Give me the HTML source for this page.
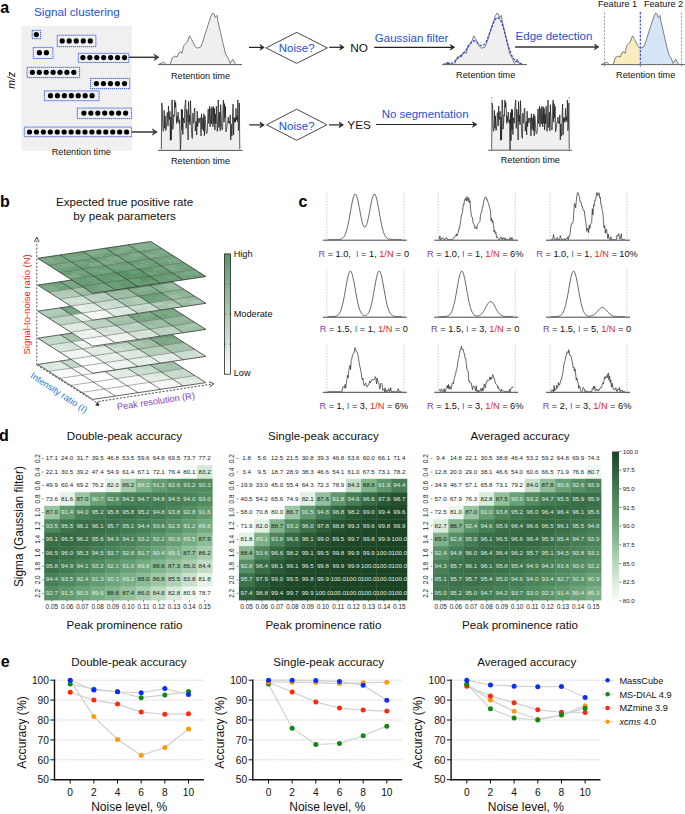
<!DOCTYPE html>
<html><head><meta charset="utf-8"><style>
html,body{margin:0;padding:0;background:#fff;}
body{width:685px;height:814px;overflow:hidden;}
svg{display:block;font-family:"Liberation Sans",sans-serif;}
</style></head><body>
<svg width="685" height="814" viewBox="0 0 685 814">
<rect width="685" height="814" fill="#fff"/>
<text x="0.3" y="13.2" font-size="16" fill="#000" text-anchor="start" font-weight="bold">a</text>
<text x="34" y="16.2" font-size="11.7" fill="#2350d8" text-anchor="start">Signal clustering</text>
<rect x="21.4" y="25.9" width="110.4" height="124.9" fill="#f0f0f0"/>
<text x="0" y="0" font-size="10.5" font-style="italic" fill="#111" text-anchor="middle" transform="translate(15.0,80.3) rotate(-90)">m/z</text>
<rect x="32.2" y="30.3" width="8.4" height="8.4" fill="none" stroke="#3358e0" stroke-width="1.0" stroke-dasharray="1.3,0.7"/>
<circle cx="36.3" cy="34.6" r="2.6" fill="#000"/>
<rect x="57.2" y="35.2" width="38.7" height="11.5" fill="none" stroke="#3358e0" stroke-width="1.0" stroke-dasharray="1.3,0.7"/>
<circle cx="62.2" cy="40.9" r="2.6" fill="#000"/>
<circle cx="69.22" cy="40.9" r="2.6" fill="#000"/>
<circle cx="76.25" cy="40.9" r="2.6" fill="#000"/>
<circle cx="83.28" cy="40.9" r="2.6" fill="#000"/>
<circle cx="90.3" cy="40.9" r="2.6" fill="#000"/>
<rect x="33.3" y="47.4" width="19.6" height="11.1" fill="none" stroke="#3358e0" stroke-width="1.0" stroke-dasharray="1.3,0.7"/>
<circle cx="39.4" cy="52.7" r="2.6" fill="#000"/>
<circle cx="46.4" cy="52.7" r="2.6" fill="#000"/>
<rect x="78.3" y="53.3" width="50.5" height="9.2" fill="none" stroke="#3358e0" stroke-width="1.0" stroke-dasharray="1.3,0.7"/>
<circle cx="82.9" cy="57.6" r="2.6" fill="#000"/>
<circle cx="89.83" cy="57.6" r="2.6" fill="#000"/>
<circle cx="96.77" cy="57.6" r="2.6" fill="#000"/>
<circle cx="103.7" cy="57.6" r="2.6" fill="#000"/>
<circle cx="110.63" cy="57.6" r="2.6" fill="#000"/>
<circle cx="117.57" cy="57.6" r="2.6" fill="#000"/>
<circle cx="124.5" cy="57.6" r="2.6" fill="#000"/>
<rect x="27.1" y="67.3" width="52.5" height="10.3" fill="none" stroke="#3358e0" stroke-width="1.0" stroke-dasharray="1.3,0.7"/>
<circle cx="32.4" cy="72.3" r="2.6" fill="#000"/>
<circle cx="39.3" cy="72.3" r="2.6" fill="#000"/>
<circle cx="46.2" cy="72.3" r="2.6" fill="#000"/>
<circle cx="53.1" cy="72.3" r="2.6" fill="#000"/>
<circle cx="60" cy="72.3" r="2.6" fill="#000"/>
<circle cx="66.9" cy="72.3" r="2.6" fill="#000"/>
<circle cx="73.8" cy="72.3" r="2.6" fill="#000"/>
<rect x="90.6" y="78.4" width="39.1" height="10.3" fill="none" stroke="#3358e0" stroke-width="1.0" stroke-dasharray="1.3,0.7"/>
<circle cx="96.4" cy="83.6" r="2.6" fill="#000"/>
<circle cx="103.43" cy="83.6" r="2.6" fill="#000"/>
<circle cx="110.45" cy="83.6" r="2.6" fill="#000"/>
<circle cx="117.47" cy="83.6" r="2.6" fill="#000"/>
<circle cx="124.5" cy="83.6" r="2.6" fill="#000"/>
<rect x="44.4" y="90.9" width="54.7" height="9.8" fill="none" stroke="#3358e0" stroke-width="1.0" stroke-dasharray="1.3,0.7"/>
<circle cx="50.5" cy="95.7" r="2.6" fill="#000"/>
<circle cx="57.43" cy="95.7" r="2.6" fill="#000"/>
<circle cx="64.37" cy="95.7" r="2.6" fill="#000"/>
<circle cx="71.3" cy="95.7" r="2.6" fill="#000"/>
<circle cx="78.23" cy="95.7" r="2.6" fill="#000"/>
<circle cx="85.17" cy="95.7" r="2.6" fill="#000"/>
<circle cx="92.1" cy="95.7" r="2.6" fill="#000"/>
<rect x="77.3" y="108.1" width="54.3" height="10.5" fill="none" stroke="#3358e0" stroke-width="1.0" stroke-dasharray="1.3,0.7"/>
<circle cx="83.9" cy="113.1" r="2.6" fill="#000"/>
<circle cx="90.85" cy="113.1" r="2.6" fill="#000"/>
<circle cx="97.8" cy="113.1" r="2.6" fill="#000"/>
<circle cx="104.75" cy="113.1" r="2.6" fill="#000"/>
<circle cx="111.7" cy="113.1" r="2.6" fill="#000"/>
<circle cx="118.65" cy="113.1" r="2.6" fill="#000"/>
<circle cx="125.6" cy="113.1" r="2.6" fill="#000"/>
<rect x="24.3" y="127.1" width="107.3" height="9.6" fill="none" stroke="#3358e0" stroke-width="1.0" stroke-dasharray="1.3,0.7"/>
<circle cx="29.5" cy="132" r="2.6" fill="#000"/>
<circle cx="36.44" cy="132" r="2.6" fill="#000"/>
<circle cx="43.37" cy="132" r="2.6" fill="#000"/>
<circle cx="50.31" cy="132" r="2.6" fill="#000"/>
<circle cx="57.24" cy="132" r="2.6" fill="#000"/>
<circle cx="64.18" cy="132" r="2.6" fill="#000"/>
<circle cx="71.11" cy="132" r="2.6" fill="#000"/>
<circle cx="78.05" cy="132" r="2.6" fill="#000"/>
<circle cx="84.99" cy="132" r="2.6" fill="#000"/>
<circle cx="91.92" cy="132" r="2.6" fill="#000"/>
<circle cx="98.86" cy="132" r="2.6" fill="#000"/>
<circle cx="105.79" cy="132" r="2.6" fill="#000"/>
<circle cx="112.73" cy="132" r="2.6" fill="#000"/>
<circle cx="119.66" cy="132" r="2.6" fill="#000"/>
<circle cx="126.6" cy="132" r="2.6" fill="#000"/>
<text x="51.7" y="154.8" font-size="9.2" fill="#111" text-anchor="start">Retention time</text>
<line x1="128.8" y1="57.3" x2="156.5" y2="57.3" stroke="#3a3a3a" stroke-width="1.5"/>
<polygon points="159,57.3 154,54.2 155.9,57.3 154,60.4" fill="#3a3a3a" stroke="#3a3a3a" stroke-width="0.7" stroke-linejoin="miter"/>
<line x1="131.6" y1="132" x2="154.8" y2="132" stroke="#3a3a3a" stroke-width="1.5"/>
<polygon points="157.3,132 152.3,128.9 154.2,132 152.3,135.1" fill="#3a3a3a" stroke="#3a3a3a" stroke-width="0.7" stroke-linejoin="miter"/>
<polygon points="158.3,64.5 163.9,62.2 166.2,64.5 170.2,64.5 172.3,57.8 174.9,56.1 177.2,56.9 179,52.6 180.7,51.7 181.9,53.4 183.7,45.9 185.4,43.8 187.2,42 189.5,35.9 191.6,39.4 195.1,46.4 197.2,48.2 200.7,47 203,41.2 205.6,32.4 208.2,24.5 210.8,16.6 212.6,13.1 214.3,14.4 215.2,17.5 217,15.4 217.9,21 220.5,32.4 223.1,43.8 225.7,54.3 228.4,58.7 230.1,63.4 232.7,59.2 235.7,64.5 242,64.5" fill="#efefef" stroke="#555" stroke-width="0.75" stroke-linejoin="round"/>
<line x1="158.3" y1="64.6" x2="242" y2="64.6" stroke="#666" stroke-width="1"/>
<text x="170.9" y="78.8" font-size="9.2" fill="#111" text-anchor="start">Retention time</text>
<line x1="249" y1="47.4" x2="261.8" y2="47.4" stroke="#222" stroke-width="1.2"/>
<polygon points="264.3,47.4 259.9,44.67 261.57,47.4 259.9,50.13" fill="#222" stroke="#222" stroke-width="0.7" stroke-linejoin="miter"/>
<polygon points="266,47.9 296.7,32.4 327.3,47.9 296.7,63.4" fill="none" stroke="#333" stroke-width="0.9"/>
<text x="296.7" y="52.4" font-size="11.5" fill="#2350d8" text-anchor="middle">Noise?</text>
<line x1="329.2" y1="47.3" x2="341.6" y2="47.3" stroke="#222" stroke-width="1.2"/>
<polygon points="344.1,47.3 339.7,44.57 341.37,47.3 339.7,50.03" fill="#222" stroke="#222" stroke-width="0.7" stroke-linejoin="miter"/>
<text x="350.2" y="51.8" font-size="11.8" fill="#111" text-anchor="start">NO</text>
<line x1="374.2" y1="47.3" x2="452.1" y2="47.3" stroke="#222" stroke-width="1.2"/>
<polygon points="454.6,47.3 450.2,44.57 451.87,47.3 450.2,50.03" fill="#222" stroke="#222" stroke-width="0.7" stroke-linejoin="miter"/>
<text x="374.8" y="41.9" font-size="11.5" fill="#2350d8" text-anchor="start">Gaussian filter</text>
<polygon points="442.6,64.5 448.2,62.2 450.5,64.5 454.5,64.5 456.6,57.8 459.2,56.1 461.5,56.9 463.3,52.6 465,51.7 466.2,53.4 468,45.9 469.7,43.8 471.5,42 473.8,35.9 475.9,39.4 479.4,46.4 481.5,48.2 485,47 487.3,41.2 489.9,32.4 492.5,24.5 495.1,16.6 496.9,13.1 498.6,14.4 499.5,17.5 501.3,15.4 502.2,21 504.8,32.4 507.4,43.8 510,54.3 512.7,58.7 514.4,63.4 517,59.2 520,64.5 526.3,64.5" fill="#efefef" stroke="#555" stroke-width="0.75" stroke-linejoin="round"/>
<polyline points="446.6,63.39 447.1,63.39 447.6,63.4 448.1,63.42 448.6,63.44 449.1,63.45 449.6,63.46 450.1,63.44 450.6,63.41 451.1,63.34 451.6,63.23 452.1,63.08 452.6,62.87 453.1,62.61 453.6,62.3 454.1,61.94 454.6,61.53 455.1,61.09 455.6,60.61 456.1,60.12 456.6,59.62 457.1,59.11 457.6,58.61 458.1,58.12 458.6,57.64 459.1,57.18 459.6,56.72 460.1,56.28 460.6,55.84 461.1,55.39 461.6,54.94 462.1,54.48 462.6,54.01 463.1,53.51 463.6,52.98 464.1,52.43 464.6,51.84 465.1,51.23 465.6,50.58 466.1,49.9 466.6,49.19 467.1,48.46 467.6,47.72 468.1,46.96 468.6,46.2 469.1,45.44 469.6,44.71 470.1,44.01 470.6,43.35 471.1,42.74 471.6,42.2 472.1,41.74 472.6,41.37 473.1,41.1 473.6,40.93 474.1,40.86 474.6,40.9 475.1,41.04 475.6,41.27 476.1,41.58 476.6,41.96 477.1,42.39 477.6,42.86 478.1,43.34 478.6,43.82 479.1,44.27 479.6,44.69 480.1,45.05 480.6,45.34 481.1,45.55 481.6,45.67 482.1,45.69 482.6,45.6 483.1,45.4 483.6,45.08 484.1,44.64 484.6,44.09 485.1,43.42 485.6,42.64 486.1,41.75 486.6,40.77 487.1,39.69 487.6,38.52 488.1,37.29 488.6,36 489.1,34.66 489.6,33.28 490.1,31.89 490.6,30.48 491.1,29.08 491.6,27.7 492.1,26.36 492.6,25.06 493.1,23.82 493.6,22.66 494.1,21.59 494.6,20.62 495.1,19.77 495.6,19.04 496.1,18.45 496.6,18.02 497.1,17.73 497.6,17.61 498.1,17.65 498.6,17.86 499.1,18.24 499.6,18.79 500.1,19.5 500.6,20.37 501.1,21.4 501.6,22.58 502.1,23.9 502.6,25.35 503.1,26.91 503.6,28.57 504.1,30.31 504.6,32.12 505.1,33.97 505.6,35.85 506.1,37.74 506.6,39.62 507.1,41.48 507.6,43.29 508.1,45.05 508.6,46.74 509.1,48.35 509.6,49.88 510.1,51.31 510.6,52.64 511.1,53.86 511.6,54.98 512.1,56 512.6,56.9 513.1,57.71 513.6,58.42 514.1,59.05 514.6,59.59 515.1,60.07 515.6,60.49 516.1,60.87 516.6,61.21 517.1,61.52 517.6,61.81 518.1,62.08 518.6,62.35 519.1,62.6 519.6,62.84 520.1,63.06 520.6,63.27 521.1,63.46 521.6,63.64 522.1,63.79" fill="none" stroke="#2b3fe8" stroke-width="1.25" stroke-dasharray="2.6,1.4"/>
<line x1="442.6" y1="64.6" x2="526.7" y2="64.6" stroke="#666" stroke-width="1"/>
<text x="456.1" y="78.2" font-size="9.2" fill="#111" text-anchor="start">Retention time</text>
<line x1="515.1" y1="46.9" x2="596.4" y2="46.9" stroke="#333" stroke-width="1.5"/>
<polygon points="598.9,46.9 594.4,44.11 596.11,46.9 594.4,49.69" fill="#333" stroke="#333" stroke-width="0.7" stroke-linejoin="miter"/>
<text x="515.6" y="40.1" font-size="11.5" fill="#2350d8" text-anchor="start">Edge detection</text>
<polygon points="601.3,64.5 606.9,62.2 609.2,64.5 613.2,64.5 615.3,57.8 617.9,56.1 620.2,56.9 622,52.6 623.7,51.7 624.9,53.4 626.7,45.9 628.4,43.8 630.2,42 632.5,35.9 634.6,39.4 638.1,46.4 640.2,48.2 640.3,48.6 640.3,64.5" fill="#fbecc0" stroke="none"/>
<polygon points="640.3,64.5 640.3,48.6 643.7,47 646,41.2 648.6,32.4 651.2,24.5 653.8,16.6 655.6,13.1 657.3,14.4 658.2,17.5 660,15.4 660.9,21 663.5,32.4 666.1,43.8 668.7,54.3 671.4,58.7 673.1,63.4 675.7,59.2 678.7,64.5 685,64.5" fill="#d5e5f5" stroke="none"/>
<polyline points="601.3,64.5 606.9,62.2 609.2,64.5 613.2,64.5 615.3,57.8 617.9,56.1 620.2,56.9 622,52.6 623.7,51.7 624.9,53.4 626.7,45.9 628.4,43.8 630.2,42 632.5,35.9 634.6,39.4 638.1,46.4 640.2,48.2 643.7,47 646,41.2 648.6,32.4 651.2,24.5 653.8,16.6 655.6,13.1 657.3,14.4 658.2,17.5 660,15.4 660.9,21 663.5,32.4 666.1,43.8 668.7,54.3 671.4,58.7 673.1,63.4 675.7,59.2 678.7,64.5 685,64.5" fill="none" stroke="#555" stroke-width="0.75" stroke-linejoin="round"/>
<line x1="604.5" y1="12.5" x2="604.5" y2="66.5" stroke="#888" stroke-width="0.8" stroke-dasharray="2,1.5"/>
<line x1="681.5" y1="12.5" x2="681.5" y2="66.5" stroke="#888" stroke-width="0.8" stroke-dasharray="2,1.5"/>
<line x1="601" y1="64.6" x2="685" y2="64.6" stroke="#666" stroke-width="1"/>
<line x1="640.3" y1="12" x2="640.3" y2="66.5" stroke="#2b3fe8" stroke-width="1.1" stroke-dasharray="2.4,1.4"/>
<text x="597.9" y="7" font-size="9.2" fill="#111" text-anchor="start">Feature 1</text>
<text x="643.9" y="7" font-size="9.2" fill="#111" text-anchor="start">Feature 2</text>
<text x="616" y="77.6" font-size="9.2" fill="#111" text-anchor="start">Retention time</text>
<polygon points="161.3,150.3 161.3,149.3 161.78,103 162.26,106 162.74,126.7 163.21,131.31 163.69,129.35 164.17,110.39 164.65,128.11 165.13,115.79 165.61,130.44 166.09,130.14 166.57,124.84 167.04,112.72 167.52,112.64 168,125.97 168.48,105.93 168.96,119.45 169.44,119.39 169.92,111.35 170.39,140.37 170.87,117.01 171.35,139.86 171.83,100 172.31,100 172.79,129.33 173.27,125.59 173.75,114.83 174.22,116.21 174.7,100 175.18,107.36 175.66,102.39 176.14,111.03 176.62,123.49 177.1,116.32 177.57,121.41 178.05,112.09 178.53,116.29 179.01,123.24 179.49,119.68 179.97,135.68 180.45,150.3 180.93,140.5 181.4,109.26 181.88,129.61 182.36,109.59 182.84,134.51 183.32,117.91 183.8,120.3 184.28,123.1 184.75,108.06 185.23,103.59 185.71,100 186.19,128.39 186.67,109.19 187.15,111.37 187.63,118.16 188.1,139.94 188.58,101.41 189.06,121.93 189.54,115.25 190.02,124.85 190.5,100.66 190.98,115.29 191.46,129.08 191.93,137.25 192.41,138.37 192.89,113.22 193.37,123.12 193.85,121.7 194.33,108.67 194.81,108.05 195.28,131.11 195.76,125.58 196.24,121.51 196.72,134.98 197.2,111.21 197.68,126.52 198.16,119.95 198.64,118.28 199.11,122.74 199.59,118.24 200.07,118.18 200.55,117.8 201.03,135.94 201.51,113.76 201.99,129.31 202.46,126.3 202.94,117.74 203.42,130.88 203.9,113.87 204.38,135.76 204.86,115.72 205.34,119.61 205.82,128.34 206.29,133.56 206.77,133.56 207.25,132.16 207.73,118.83 208.21,108.98 208.69,123.46 209.17,120.05 209.64,106.26 210.12,126.84 210.6,119.48 211.08,108.32 211.56,124 212.04,106.54 212.52,112.35 213,126.8 213.47,106.63 213.95,123.28 214.43,108.43 214.91,129.95 215.39,114.16 215.87,123.78 216.35,106.21 216.82,118.26 217.3,131.37 217.78,125.17 218.26,100 218.74,127.5 219.22,126.16 219.7,112.25 220.18,130.87 220.65,104.7 221.13,114.93 221.61,127.69 222.09,129.76 222.57,129.54 223.05,104.99 223.53,100 224,122.08 224.48,103.61 224.96,117.77 225.44,106.4 225.92,131.74 226.4,129.57 226.88,127.21 227.35,121.63 227.83,121.45 228.31,117.06 228.79,123.28 229.27,121.33 229.75,123.45 230.23,114.82 230.71,140.05 231.18,123.89 231.66,136.12 232.14,135.9 232.62,112.79 233.1,104.08 233.58,134.8 234.06,117.35 234.53,122.08 235.01,118.31 235.49,122.24 235.97,108.33 236.45,119.95 236.93,116.6 237.41,121.55 237.89,100 238.36,130.5 238.84,125 239.32,103.03 239.8,149.3 239.8,150.3" fill="#efefef" stroke="none"/>
<polyline points="161.3,149.3 161.78,103 162.26,106 162.74,126.7 163.21,131.31 163.69,129.35 164.17,110.39 164.65,128.11 165.13,115.79 165.61,130.44 166.09,130.14 166.57,124.84 167.04,112.72 167.52,112.64 168,125.97 168.48,105.93 168.96,119.45 169.44,119.39 169.92,111.35 170.39,140.37 170.87,117.01 171.35,139.86 171.83,100 172.31,100 172.79,129.33 173.27,125.59 173.75,114.83 174.22,116.21 174.7,100 175.18,107.36 175.66,102.39 176.14,111.03 176.62,123.49 177.1,116.32 177.57,121.41 178.05,112.09 178.53,116.29 179.01,123.24 179.49,119.68 179.97,135.68 180.45,150.3 180.93,140.5 181.4,109.26 181.88,129.61 182.36,109.59 182.84,134.51 183.32,117.91 183.8,120.3 184.28,123.1 184.75,108.06 185.23,103.59 185.71,100 186.19,128.39 186.67,109.19 187.15,111.37 187.63,118.16 188.1,139.94 188.58,101.41 189.06,121.93 189.54,115.25 190.02,124.85 190.5,100.66 190.98,115.29 191.46,129.08 191.93,137.25 192.41,138.37 192.89,113.22 193.37,123.12 193.85,121.7 194.33,108.67 194.81,108.05 195.28,131.11 195.76,125.58 196.24,121.51 196.72,134.98 197.2,111.21 197.68,126.52 198.16,119.95 198.64,118.28 199.11,122.74 199.59,118.24 200.07,118.18 200.55,117.8 201.03,135.94 201.51,113.76 201.99,129.31 202.46,126.3 202.94,117.74 203.42,130.88 203.9,113.87 204.38,135.76 204.86,115.72 205.34,119.61 205.82,128.34 206.29,133.56 206.77,133.56 207.25,132.16 207.73,118.83 208.21,108.98 208.69,123.46 209.17,120.05 209.64,106.26 210.12,126.84 210.6,119.48 211.08,108.32 211.56,124 212.04,106.54 212.52,112.35 213,126.8 213.47,106.63 213.95,123.28 214.43,108.43 214.91,129.95 215.39,114.16 215.87,123.78 216.35,106.21 216.82,118.26 217.3,131.37 217.78,125.17 218.26,100 218.74,127.5 219.22,126.16 219.7,112.25 220.18,130.87 220.65,104.7 221.13,114.93 221.61,127.69 222.09,129.76 222.57,129.54 223.05,104.99 223.53,100 224,122.08 224.48,103.61 224.96,117.77 225.44,106.4 225.92,131.74 226.4,129.57 226.88,127.21 227.35,121.63 227.83,121.45 228.31,117.06 228.79,123.28 229.27,121.33 229.75,123.45 230.23,114.82 230.71,140.05 231.18,123.89 231.66,136.12 232.14,135.9 232.62,112.79 233.1,104.08 233.58,134.8 234.06,117.35 234.53,122.08 235.01,118.31 235.49,122.24 235.97,108.33 236.45,119.95 236.93,116.6 237.41,121.55 237.89,100 238.36,130.5 238.84,125 239.32,103.03 239.8,149.3" fill="none" stroke="#111" stroke-width="0.7" stroke-linejoin="round"/>
<line x1="157.9" y1="150.4" x2="242.7" y2="150.4" stroke="#555" stroke-width="1"/>
<text x="170.9" y="163.8" font-size="9.2" fill="#111" text-anchor="start">Retention time</text>
<line x1="249.2" y1="124.9" x2="261.8" y2="124.9" stroke="#222" stroke-width="1.2"/>
<polygon points="264.3,124.9 259.9,122.17 261.57,124.9 259.9,127.63" fill="#222" stroke="#222" stroke-width="0.7" stroke-linejoin="miter"/>
<polygon points="266.6,124.8 296.7,109.2 326.9,124.8 296.7,140.3" fill="none" stroke="#333" stroke-width="0.9"/>
<text x="296.7" y="130.2" font-size="11.5" fill="#2350d8" text-anchor="middle">Noise?</text>
<line x1="328.9" y1="124.9" x2="340.9" y2="124.9" stroke="#222" stroke-width="1.2"/>
<polygon points="343.4,124.9 339,122.17 340.67,124.9 339,127.63" fill="#222" stroke="#222" stroke-width="0.7" stroke-linejoin="miter"/>
<text x="347.3" y="129.3" font-size="11.8" fill="#111" text-anchor="start">YES</text>
<line x1="376.1" y1="124.5" x2="474.3" y2="124.5" stroke="#222" stroke-width="1.2"/>
<polygon points="476.8,124.5 472.4,121.77 474.07,124.5 472.4,127.23" fill="#222" stroke="#222" stroke-width="0.7" stroke-linejoin="miter"/>
<text x="381.7" y="118.2" font-size="11.5" fill="#2350d8" text-anchor="start">No segmentation</text>
<polygon points="491.6,150.1 491.6,149.1 492.07,103 492.55,106 493.02,126.7 493.5,131.31 493.97,129.35 494.44,110.39 494.92,128.11 495.39,115.79 495.86,130.44 496.34,130.14 496.81,124.84 497.29,112.72 497.76,112.64 498.23,125.97 498.71,105.93 499.18,119.45 499.65,119.39 500.13,111.35 500.6,140.37 501.08,117.01 501.55,139.86 502.02,100 502.5,100 502.97,129.33 503.44,125.59 503.92,114.83 504.39,116.21 504.87,100 505.34,107.36 505.81,102.39 506.29,111.03 506.76,123.49 507.23,116.32 507.71,121.41 508.18,112.09 508.66,116.29 509.13,123.24 509.6,119.68 510.08,150.1 510.55,112.75 511.03,140.5 511.5,109.26 511.97,129.61 512.45,109.59 512.92,134.51 513.39,117.91 513.87,120.3 514.34,123.1 514.82,108.06 515.29,103.59 515.76,100 516.24,128.39 516.71,109.19 517.18,111.37 517.66,118.16 518.13,139.94 518.61,101.41 519.08,121.93 519.55,115.25 520.03,124.85 520.5,100.66 520.97,115.29 521.45,129.08 521.92,137.25 522.4,138.37 522.87,113.22 523.34,123.12 523.82,121.7 524.29,108.67 524.76,108.05 525.24,131.11 525.71,125.58 526.19,121.51 526.66,134.98 527.13,111.21 527.61,126.52 528.08,119.95 528.55,118.28 529.03,122.74 529.5,118.24 529.98,118.18 530.45,117.8 530.92,135.94 531.4,113.76 531.87,129.31 532.35,126.3 532.82,117.74 533.29,130.88 533.77,113.87 534.24,135.76 534.71,115.72 535.19,119.61 535.66,128.34 536.14,133.56 536.61,133.56 537.08,132.16 537.56,118.83 538.03,108.98 538.5,123.46 538.98,120.05 539.45,106.26 539.93,126.84 540.4,119.48 540.87,108.32 541.35,124 541.82,106.54 542.29,112.35 542.77,126.8 543.24,106.63 543.72,123.28 544.19,108.43 544.66,129.95 545.14,114.16 545.61,123.78 546.08,106.21 546.56,118.26 547.03,131.37 547.51,125.17 547.98,100 548.45,127.5 548.93,126.16 549.4,112.25 549.88,130.87 550.35,104.7 550.82,114.93 551.3,127.69 551.77,129.76 552.24,129.54 552.72,104.99 553.19,100 553.67,122.08 554.14,103.61 554.61,117.77 555.09,106.4 555.56,131.74 556.03,129.57 556.51,127.21 556.98,121.63 557.46,121.45 557.93,117.06 558.4,123.28 558.88,121.33 559.35,123.45 559.82,114.82 560.3,140.05 560.77,123.89 561.25,136.12 561.72,135.9 562.19,112.79 562.67,104.08 563.14,134.8 563.61,117.35 564.09,122.08 564.56,118.31 565.04,122.24 565.51,108.33 565.98,119.95 566.46,116.6 566.93,121.55 567.4,100 567.88,130.5 568.35,125 568.83,103.03 569.3,149.1 569.3,150.1" fill="#efefef" stroke="none"/>
<polyline points="491.6,149.1 492.07,103 492.55,106 493.02,126.7 493.5,131.31 493.97,129.35 494.44,110.39 494.92,128.11 495.39,115.79 495.86,130.44 496.34,130.14 496.81,124.84 497.29,112.72 497.76,112.64 498.23,125.97 498.71,105.93 499.18,119.45 499.65,119.39 500.13,111.35 500.6,140.37 501.08,117.01 501.55,139.86 502.02,100 502.5,100 502.97,129.33 503.44,125.59 503.92,114.83 504.39,116.21 504.87,100 505.34,107.36 505.81,102.39 506.29,111.03 506.76,123.49 507.23,116.32 507.71,121.41 508.18,112.09 508.66,116.29 509.13,123.24 509.6,119.68 510.08,150.1 510.55,112.75 511.03,140.5 511.5,109.26 511.97,129.61 512.45,109.59 512.92,134.51 513.39,117.91 513.87,120.3 514.34,123.1 514.82,108.06 515.29,103.59 515.76,100 516.24,128.39 516.71,109.19 517.18,111.37 517.66,118.16 518.13,139.94 518.61,101.41 519.08,121.93 519.55,115.25 520.03,124.85 520.5,100.66 520.97,115.29 521.45,129.08 521.92,137.25 522.4,138.37 522.87,113.22 523.34,123.12 523.82,121.7 524.29,108.67 524.76,108.05 525.24,131.11 525.71,125.58 526.19,121.51 526.66,134.98 527.13,111.21 527.61,126.52 528.08,119.95 528.55,118.28 529.03,122.74 529.5,118.24 529.98,118.18 530.45,117.8 530.92,135.94 531.4,113.76 531.87,129.31 532.35,126.3 532.82,117.74 533.29,130.88 533.77,113.87 534.24,135.76 534.71,115.72 535.19,119.61 535.66,128.34 536.14,133.56 536.61,133.56 537.08,132.16 537.56,118.83 538.03,108.98 538.5,123.46 538.98,120.05 539.45,106.26 539.93,126.84 540.4,119.48 540.87,108.32 541.35,124 541.82,106.54 542.29,112.35 542.77,126.8 543.24,106.63 543.72,123.28 544.19,108.43 544.66,129.95 545.14,114.16 545.61,123.78 546.08,106.21 546.56,118.26 547.03,131.37 547.51,125.17 547.98,100 548.45,127.5 548.93,126.16 549.4,112.25 549.88,130.87 550.35,104.7 550.82,114.93 551.3,127.69 551.77,129.76 552.24,129.54 552.72,104.99 553.19,100 553.67,122.08 554.14,103.61 554.61,117.77 555.09,106.4 555.56,131.74 556.03,129.57 556.51,127.21 556.98,121.63 557.46,121.45 557.93,117.06 558.4,123.28 558.88,121.33 559.35,123.45 559.82,114.82 560.3,140.05 560.77,123.89 561.25,136.12 561.72,135.9 562.19,112.79 562.67,104.08 563.14,134.8 563.61,117.35 564.09,122.08 564.56,118.31 565.04,122.24 565.51,108.33 565.98,119.95 566.46,116.6 566.93,121.55 567.4,100 567.88,130.5 568.35,125 568.83,103.03 569.3,149.1" fill="none" stroke="#111" stroke-width="0.7" stroke-linejoin="round"/>
<line x1="491.6" y1="97" x2="491.6" y2="152.8" stroke="#999" stroke-width="0.8" stroke-dasharray="2,1.5"/>
<line x1="569.3" y1="97" x2="569.3" y2="152.8" stroke="#999" stroke-width="0.8" stroke-dasharray="2,1.5"/>
<line x1="488.2" y1="150.2" x2="572" y2="150.2" stroke="#555" stroke-width="1"/>
<text x="500.7" y="163" font-size="9.2" fill="#111" text-anchor="start">Retention time</text>
<text x="0" y="207" font-size="16" fill="#000" text-anchor="start" font-weight="bold">b</text>
<text x="124.6" y="206.2" font-size="11.6" fill="#111" text-anchor="middle">Expected true positive rate</text>
<text x="124.6" y="219.6" font-size="11.6" fill="#111" text-anchor="middle">by peak parameters</text>
<line x1="36.8" y1="365" x2="36.8" y2="238.5" stroke="#444" stroke-width="0.9" stroke-dasharray="2,1.6"/>
<polyline points="34.4,242 36.8,237 39.2,242" fill="none" stroke="#333" stroke-width="0.9"/>
<polygon points="37.8,364.4 49.1,362.72 54.6,366.22 43.3,367.9" fill="#d9e7dc" stroke="#d9e7dc" stroke-width="0.45"/>
<polygon points="43.3,367.9 54.6,366.22 60.1,369.72 48.8,371.4" fill="#dae7dd" stroke="#dae7dd" stroke-width="0.45"/>
<polygon points="49.1,362.72 60.4,361.04 65.9,364.54 54.6,366.22" fill="#dce8de" stroke="#dce8de" stroke-width="0.45"/>
<polygon points="54.6,366.22 65.9,364.54 71.4,368.04 60.1,369.72" fill="#e1ebe3" stroke="#e1ebe3" stroke-width="0.45"/>
<polygon points="60.4,361.04 71.7,359.36 77.2,362.86 65.9,364.54" fill="#c7dbcc" stroke="#c7dbcc" stroke-width="0.45"/>
<polygon points="65.9,364.54 77.2,362.86 82.7,366.36 71.4,368.04" fill="#c2d8c7" stroke="#c2d8c7" stroke-width="0.45"/>
<polygon points="71.7,359.36 83,357.68 88.5,361.18 77.2,362.86" fill="#c1d7c6" stroke="#c1d7c6" stroke-width="0.45"/>
<polygon points="77.2,362.86 88.5,361.18 94,364.68 82.7,366.36" fill="#cbded0" stroke="#cbded0" stroke-width="0.45"/>
<polygon points="83,357.68 94.3,356 99.8,359.5 88.5,361.18" fill="#d9e7dc" stroke="#d9e7dc" stroke-width="0.45"/>
<polygon points="88.5,361.18 99.8,359.5 105.3,363 94,364.68" fill="#d1e1d5" stroke="#d1e1d5" stroke-width="0.45"/>
<polygon points="94.3,356 105.6,354.32 111.1,357.82 99.8,359.5" fill="#dae7dd" stroke="#dae7dd" stroke-width="0.45"/>
<polygon points="99.8,359.5 111.1,357.82 116.6,361.32 105.3,363" fill="#d4e3d7" stroke="#d4e3d7" stroke-width="0.45"/>
<polygon points="105.6,354.32 116.9,352.64 122.4,356.14 111.1,357.82" fill="#bfd6c4" stroke="#bfd6c4" stroke-width="0.45"/>
<polygon points="111.1,357.82 122.4,356.14 127.9,359.64 116.6,361.32" fill="#bbd3c0" stroke="#bbd3c0" stroke-width="0.45"/>
<polygon points="116.9,352.64 128.2,350.96 133.7,354.46 122.4,356.14" fill="#b8d1be" stroke="#b8d1be" stroke-width="0.45"/>
<polygon points="122.4,356.14 133.7,354.46 139.2,357.96 127.9,359.64" fill="#bcd3c1" stroke="#bcd3c1" stroke-width="0.45"/>
<polygon points="128.2,350.96 139.5,349.28 145,352.78 133.7,354.46" fill="#aecbb5" stroke="#aecbb5" stroke-width="0.45"/>
<polygon points="133.7,354.46 145,352.78 150.5,356.28 139.2,357.96" fill="#afcbb6" stroke="#afcbb6" stroke-width="0.45"/>
<polygon points="139.5,349.28 150.8,347.6 156.3,351.1 145,352.78" fill="#abc8b1" stroke="#abc8b1" stroke-width="0.45"/>
<polygon points="145,352.78 156.3,351.1 161.8,354.6 150.5,356.28" fill="#aac8b1" stroke="#aac8b1" stroke-width="0.45"/>
<polygon points="48.8,371.4 60.1,369.72 65.6,373.22 54.3,374.9" fill="#f7faf8" stroke="#f7faf8" stroke-width="0.45"/>
<polygon points="54.3,374.9 65.6,373.22 71.1,376.72 59.8,378.4" fill="#f7faf8" stroke="#f7faf8" stroke-width="0.45"/>
<polygon points="60.1,369.72 71.4,368.04 76.9,371.54 65.6,373.22" fill="#f6f9f7" stroke="#f6f9f7" stroke-width="0.45"/>
<polygon points="65.6,373.22 76.9,371.54 82.4,375.04 71.1,376.72" fill="#f8fbf9" stroke="#f8fbf9" stroke-width="0.45"/>
<polygon points="71.4,368.04 82.7,366.36 88.2,369.86 76.9,371.54" fill="#f9fbf9" stroke="#f9fbf9" stroke-width="0.45"/>
<polygon points="76.9,371.54 88.2,369.86 93.7,373.36 82.4,375.04" fill="#f6f9f7" stroke="#f6f9f7" stroke-width="0.45"/>
<polygon points="82.7,366.36 94,364.68 99.5,368.18 88.2,369.86" fill="#fafbfa" stroke="#fafbfa" stroke-width="0.45"/>
<polygon points="88.2,369.86 99.5,368.18 105,371.68 93.7,373.36" fill="#f6f9f7" stroke="#f6f9f7" stroke-width="0.45"/>
<polygon points="94,364.68 105.3,363 110.8,366.5 99.5,368.18" fill="#dbe8de" stroke="#dbe8de" stroke-width="0.45"/>
<polygon points="99.5,368.18 110.8,366.5 116.3,370 105,371.68" fill="#dbe7de" stroke="#dbe7de" stroke-width="0.45"/>
<polygon points="105.3,363 116.6,361.32 122.1,364.82 110.8,366.5" fill="#e0ebe3" stroke="#e0ebe3" stroke-width="0.45"/>
<polygon points="110.8,366.5 122.1,364.82 127.6,368.32 116.3,370" fill="#dfeae1" stroke="#dfeae1" stroke-width="0.45"/>
<polygon points="116.6,361.32 127.9,359.64 133.4,363.14 122.1,364.82" fill="#c0d6c5" stroke="#c0d6c5" stroke-width="0.45"/>
<polygon points="122.1,364.82 133.4,363.14 138.9,366.64 127.6,368.32" fill="#c7dbcc" stroke="#c7dbcc" stroke-width="0.45"/>
<polygon points="127.9,359.64 139.2,357.96 144.7,361.46 133.4,363.14" fill="#bfd5c4" stroke="#bfd5c4" stroke-width="0.45"/>
<polygon points="133.4,363.14 144.7,361.46 150.2,364.96 138.9,366.64" fill="#c9dccd" stroke="#c9dccd" stroke-width="0.45"/>
<polygon points="139.2,357.96 150.5,356.28 156,359.78 144.7,361.46" fill="#b0ccb6" stroke="#b0ccb6" stroke-width="0.45"/>
<polygon points="144.7,361.46 156,359.78 161.5,363.28 150.2,364.96" fill="#bcd3c1" stroke="#bcd3c1" stroke-width="0.45"/>
<polygon points="150.5,356.28 161.8,354.6 167.3,358.1 156,359.78" fill="#b2cdb8" stroke="#b2cdb8" stroke-width="0.45"/>
<polygon points="156,359.78 167.3,358.1 172.8,361.6 161.5,363.28" fill="#b0ccb6" stroke="#b0ccb6" stroke-width="0.45"/>
<polygon points="59.8,378.4 71.1,376.72 76.6,380.22 65.3,381.9" fill="#ffffff" stroke="#ffffff" stroke-width="0.45"/>
<polygon points="65.3,381.9 76.6,380.22 82.1,383.72 70.8,385.4" fill="#fefefe" stroke="#fefefe" stroke-width="0.45"/>
<polygon points="71.1,376.72 82.4,375.04 87.9,378.54 76.6,380.22" fill="#fdfdfd" stroke="#fdfdfd" stroke-width="0.45"/>
<polygon points="76.6,380.22 87.9,378.54 93.4,382.04 82.1,383.72" fill="#fcfdfc" stroke="#fcfdfc" stroke-width="0.45"/>
<polygon points="82.4,375.04 93.7,373.36 99.2,376.86 87.9,378.54" fill="#fefefe" stroke="#fefefe" stroke-width="0.45"/>
<polygon points="87.9,378.54 99.2,376.86 104.7,380.36 93.4,382.04" fill="#fcfdfc" stroke="#fcfdfc" stroke-width="0.45"/>
<polygon points="93.7,373.36 105,371.68 110.5,375.18 99.2,376.86" fill="#ffffff" stroke="#ffffff" stroke-width="0.45"/>
<polygon points="99.2,376.86 110.5,375.18 116,378.68 104.7,380.36" fill="#fcfdfd" stroke="#fcfdfd" stroke-width="0.45"/>
<polygon points="105,371.68 116.3,370 121.8,373.5 110.5,375.18" fill="#e2ece4" stroke="#e2ece4" stroke-width="0.45"/>
<polygon points="110.5,375.18 121.8,373.5 127.3,377 116,378.68" fill="#e1ece4" stroke="#e1ece4" stroke-width="0.45"/>
<polygon points="116.3,370 127.6,368.32 133.1,371.82 121.8,373.5" fill="#dde9df" stroke="#dde9df" stroke-width="0.45"/>
<polygon points="121.8,373.5 133.1,371.82 138.6,375.32 127.3,377" fill="#e2ece4" stroke="#e2ece4" stroke-width="0.45"/>
<polygon points="127.6,368.32 138.9,366.64 144.4,370.14 133.1,371.82" fill="#cadcce" stroke="#cadcce" stroke-width="0.45"/>
<polygon points="133.1,371.82 144.4,370.14 149.9,373.64 138.6,375.32" fill="#ccded0" stroke="#ccded0" stroke-width="0.45"/>
<polygon points="138.9,366.64 150.2,364.96 155.7,368.46 144.4,370.14" fill="#c1d7c6" stroke="#c1d7c6" stroke-width="0.45"/>
<polygon points="144.4,370.14 155.7,368.46 161.2,371.96 149.9,373.64" fill="#c9dccd" stroke="#c9dccd" stroke-width="0.45"/>
<polygon points="150.2,364.96 161.5,363.28 167,366.78 155.7,368.46" fill="#abc9b2" stroke="#abc9b2" stroke-width="0.45"/>
<polygon points="155.7,368.46 167,366.78 172.5,370.28 161.2,371.96" fill="#a2c3aa" stroke="#a2c3aa" stroke-width="0.45"/>
<polygon points="161.5,363.28 172.8,361.6 178.3,365.1 167,366.78" fill="#a1c2a8" stroke="#a1c2a8" stroke-width="0.45"/>
<polygon points="167,366.78 178.3,365.1 183.8,368.6 172.5,370.28" fill="#a2c3a9" stroke="#a2c3a9" stroke-width="0.45"/>
<polygon points="70.8,385.4 82.1,383.72 87.6,387.22 76.3,388.9" fill="#ffffff" stroke="#ffffff" stroke-width="0.45"/>
<polygon points="76.3,388.9 87.6,387.22 93.1,390.72 81.8,392.4" fill="#ffffff" stroke="#ffffff" stroke-width="0.45"/>
<polygon points="82.1,383.72 93.4,382.04 98.9,385.54 87.6,387.22" fill="#fefefe" stroke="#fefefe" stroke-width="0.45"/>
<polygon points="87.6,387.22 98.9,385.54 104.4,389.04 93.1,390.72" fill="#ffffff" stroke="#ffffff" stroke-width="0.45"/>
<polygon points="93.4,382.04 104.7,380.36 110.2,383.86 98.9,385.54" fill="#fdfefd" stroke="#fdfefd" stroke-width="0.45"/>
<polygon points="98.9,385.54 110.2,383.86 115.7,387.36 104.4,389.04" fill="#fefefe" stroke="#fefefe" stroke-width="0.45"/>
<polygon points="104.7,380.36 116,378.68 121.5,382.18 110.2,383.86" fill="#fdfefd" stroke="#fdfefd" stroke-width="0.45"/>
<polygon points="110.2,383.86 121.5,382.18 127,385.68 115.7,387.36" fill="#fdfdfd" stroke="#fdfdfd" stroke-width="0.45"/>
<polygon points="116,378.68 127.3,377 132.8,380.5 121.5,382.18" fill="#f4f8f5" stroke="#f4f8f5" stroke-width="0.45"/>
<polygon points="121.5,382.18 132.8,380.5 138.3,384 127,385.68" fill="#f7faf7" stroke="#f7faf7" stroke-width="0.45"/>
<polygon points="127.3,377 138.6,375.32 144.1,378.82 132.8,380.5" fill="#f7faf7" stroke="#f7faf7" stroke-width="0.45"/>
<polygon points="132.8,380.5 144.1,378.82 149.6,382.32 138.3,384" fill="#f5f9f6" stroke="#f5f9f6" stroke-width="0.45"/>
<polygon points="138.6,375.32 149.9,373.64 155.4,377.14 144.1,378.82" fill="#dde9e0" stroke="#dde9e0" stroke-width="0.45"/>
<polygon points="144.1,378.82 155.4,377.14 160.9,380.64 149.6,382.32" fill="#e3ede5" stroke="#e3ede5" stroke-width="0.45"/>
<polygon points="149.9,373.64 161.2,371.96 166.7,375.46 155.4,377.14" fill="#dae7dd" stroke="#dae7dd" stroke-width="0.45"/>
<polygon points="155.4,377.14 166.7,375.46 172.2,378.96 160.9,380.64" fill="#e1ece3" stroke="#e1ece3" stroke-width="0.45"/>
<polygon points="161.2,371.96 172.5,370.28 178,373.78 166.7,375.46" fill="#c5daca" stroke="#c5daca" stroke-width="0.45"/>
<polygon points="166.7,375.46 178,373.78 183.5,377.28 172.2,378.96" fill="#c6daca" stroke="#c6daca" stroke-width="0.45"/>
<polygon points="172.5,370.28 183.8,368.6 189.3,372.1 178,373.78" fill="#caddcf" stroke="#caddcf" stroke-width="0.45"/>
<polygon points="178,373.78 189.3,372.1 194.8,375.6 183.5,377.28" fill="#c4d9c9" stroke="#c4d9c9" stroke-width="0.45"/>
<polygon points="81.8,392.4 93.1,390.72 98.6,394.22 87.3,395.9" fill="#feffff" stroke="#feffff" stroke-width="0.45"/>
<polygon points="87.3,395.9 98.6,394.22 104.1,397.72 92.8,399.4" fill="#fdfefd" stroke="#fdfefd" stroke-width="0.45"/>
<polygon points="93.1,390.72 104.4,389.04 109.9,392.54 98.6,394.22" fill="#fefffe" stroke="#fefffe" stroke-width="0.45"/>
<polygon points="98.6,394.22 109.9,392.54 115.4,396.04 104.1,397.72" fill="#ffffff" stroke="#ffffff" stroke-width="0.45"/>
<polygon points="104.4,389.04 115.7,387.36 121.2,390.86 109.9,392.54" fill="#ffffff" stroke="#ffffff" stroke-width="0.45"/>
<polygon points="109.9,392.54 121.2,390.86 126.7,394.36 115.4,396.04" fill="#fcfdfc" stroke="#fcfdfc" stroke-width="0.45"/>
<polygon points="115.7,387.36 127,385.68 132.5,389.18 121.2,390.86" fill="#fefefe" stroke="#fefefe" stroke-width="0.45"/>
<polygon points="121.2,390.86 132.5,389.18 138,392.68 126.7,394.36" fill="#fdfefd" stroke="#fdfefd" stroke-width="0.45"/>
<polygon points="127,385.68 138.3,384 143.8,387.5 132.5,389.18" fill="#ffffff" stroke="#ffffff" stroke-width="0.45"/>
<polygon points="132.5,389.18 143.8,387.5 149.3,391 138,392.68" fill="#fafcfb" stroke="#fafcfb" stroke-width="0.45"/>
<polygon points="138.3,384 149.6,382.32 155.1,385.82 143.8,387.5" fill="#fefefe" stroke="#fefefe" stroke-width="0.45"/>
<polygon points="143.8,387.5 155.1,385.82 160.6,389.32 149.3,391" fill="#fefefe" stroke="#fefefe" stroke-width="0.45"/>
<polygon points="149.6,382.32 160.9,380.64 166.4,384.14 155.1,385.82" fill="#f3f7f4" stroke="#f3f7f4" stroke-width="0.45"/>
<polygon points="155.1,385.82 166.4,384.14 171.9,387.64 160.6,389.32" fill="#f4f8f5" stroke="#f4f8f5" stroke-width="0.45"/>
<polygon points="160.9,380.64 172.2,378.96 177.7,382.46 166.4,384.14" fill="#f5f8f6" stroke="#f5f8f6" stroke-width="0.45"/>
<polygon points="166.4,384.14 177.7,382.46 183.2,385.96 171.9,387.64" fill="#f4f8f5" stroke="#f4f8f5" stroke-width="0.45"/>
<polygon points="172.2,378.96 183.5,377.28 189,380.78 177.7,382.46" fill="#e1ebe3" stroke="#e1ebe3" stroke-width="0.45"/>
<polygon points="177.7,382.46 189,380.78 194.5,384.28 183.2,385.96" fill="#e0ebe3" stroke="#e0ebe3" stroke-width="0.45"/>
<polygon points="183.5,377.28 194.8,375.6 200.3,379.1 189,380.78" fill="#dbe8de" stroke="#dbe8de" stroke-width="0.45"/>
<polygon points="189,380.78 200.3,379.1 205.8,382.6 194.5,384.28" fill="#e2ece4" stroke="#e2ece4" stroke-width="0.45"/>
<line x1="48.8" y1="371.4" x2="161.8" y2="354.6" stroke="#5a5a5a" stroke-width="0.5"/>
<line x1="59.8" y1="378.4" x2="172.8" y2="361.6" stroke="#5a5a5a" stroke-width="0.5"/>
<line x1="70.8" y1="385.4" x2="183.8" y2="368.6" stroke="#5a5a5a" stroke-width="0.5"/>
<line x1="81.8" y1="392.4" x2="194.8" y2="375.6" stroke="#5a5a5a" stroke-width="0.5"/>
<line x1="60.4" y1="361.04" x2="115.4" y2="396.04" stroke="#2e2e2e" stroke-width="0.6"/>
<line x1="83" y1="357.68" x2="138" y2="392.68" stroke="#2e2e2e" stroke-width="0.6"/>
<line x1="105.6" y1="354.32" x2="160.6" y2="389.32" stroke="#2e2e2e" stroke-width="0.6"/>
<line x1="128.2" y1="350.96" x2="183.2" y2="385.96" stroke="#2e2e2e" stroke-width="0.6"/>
<polygon points="37.8,364.4 150.8,347.6 205.8,382.6 92.8,399.4" fill="none" stroke="#333" stroke-width="0.75" stroke-linejoin="round"/>
<polygon points="37.8,338.2 49.1,336.52 54.6,340.02 43.3,341.7" fill="#bfd6c4" stroke="#bfd6c4" stroke-width="0.45"/>
<polygon points="43.3,341.7 54.6,340.02 60.1,343.52 48.8,345.2" fill="#c6daca" stroke="#c6daca" stroke-width="0.45"/>
<polygon points="49.1,336.52 60.4,334.84 65.9,338.34 54.6,340.02" fill="#c2d8c7" stroke="#c2d8c7" stroke-width="0.45"/>
<polygon points="54.6,340.02 65.9,338.34 71.4,341.84 60.1,343.52" fill="#c2d8c7" stroke="#c2d8c7" stroke-width="0.45"/>
<polygon points="60.4,334.84 71.7,333.16 77.2,336.66 65.9,338.34" fill="#a1c2a8" stroke="#a1c2a8" stroke-width="0.45"/>
<polygon points="65.9,338.34 77.2,336.66 82.7,340.16 71.4,341.84" fill="#a4c4ab" stroke="#a4c4ab" stroke-width="0.45"/>
<polygon points="71.7,333.16 83,331.48 88.5,334.98 77.2,336.66" fill="#9abea2" stroke="#9abea2" stroke-width="0.45"/>
<polygon points="77.2,336.66 88.5,334.98 94,338.48 82.7,340.16" fill="#a3c3aa" stroke="#a3c3aa" stroke-width="0.45"/>
<polygon points="83,331.48 94.3,329.8 99.8,333.3 88.5,334.98" fill="#b6d0bc" stroke="#b6d0bc" stroke-width="0.45"/>
<polygon points="88.5,334.98 99.8,333.3 105.3,336.8 94,338.48" fill="#afcbb5" stroke="#afcbb5" stroke-width="0.45"/>
<polygon points="94.3,329.8 105.6,328.12 111.1,331.62 99.8,333.3" fill="#afcbb6" stroke="#afcbb6" stroke-width="0.45"/>
<polygon points="99.8,333.3 111.1,331.62 116.6,335.12 105.3,336.8" fill="#bad3c0" stroke="#bad3c0" stroke-width="0.45"/>
<polygon points="105.6,328.12 116.9,326.44 122.4,329.94 111.1,331.62" fill="#a3c4ab" stroke="#a3c4ab" stroke-width="0.45"/>
<polygon points="111.1,331.62 122.4,329.94 127.9,333.44 116.6,335.12" fill="#a1c2a8" stroke="#a1c2a8" stroke-width="0.45"/>
<polygon points="116.9,326.44 128.2,324.76 133.7,328.26 122.4,329.94" fill="#96bb9e" stroke="#96bb9e" stroke-width="0.45"/>
<polygon points="122.4,329.94 133.7,328.26 139.2,331.76 127.9,333.44" fill="#a4c4ac" stroke="#a4c4ac" stroke-width="0.45"/>
<polygon points="128.2,324.76 139.5,323.08 145,326.58 133.7,328.26" fill="#81ad8b" stroke="#81ad8b" stroke-width="0.45"/>
<polygon points="133.7,328.26 145,326.58 150.5,330.08 139.2,331.76" fill="#84af8d" stroke="#84af8d" stroke-width="0.45"/>
<polygon points="139.5,323.08 150.8,321.4 156.3,324.9 145,326.58" fill="#83af8d" stroke="#83af8d" stroke-width="0.45"/>
<polygon points="145,326.58 156.3,324.9 161.8,328.4 150.5,330.08" fill="#7aa985" stroke="#7aa985" stroke-width="0.45"/>
<polygon points="48.8,345.2 60.1,343.52 65.6,347.02 54.3,348.7" fill="#d9e6dc" stroke="#d9e6dc" stroke-width="0.45"/>
<polygon points="54.3,348.7 65.6,347.02 71.1,350.52 59.8,352.2" fill="#d7e5da" stroke="#d7e5da" stroke-width="0.45"/>
<polygon points="60.1,343.52 71.4,341.84 76.9,345.34 65.6,347.02" fill="#d3e3d7" stroke="#d3e3d7" stroke-width="0.45"/>
<polygon points="65.6,347.02 76.9,345.34 82.4,348.84 71.1,350.52" fill="#d3e3d7" stroke="#d3e3d7" stroke-width="0.45"/>
<polygon points="71.4,341.84 82.7,340.16 88.2,343.66 76.9,345.34" fill="#eff5f0" stroke="#eff5f0" stroke-width="0.45"/>
<polygon points="76.9,345.34 88.2,343.66 93.7,347.16 82.4,348.84" fill="#ecf3ee" stroke="#ecf3ee" stroke-width="0.45"/>
<polygon points="82.7,340.16 94,338.48 99.5,341.98 88.2,343.66" fill="#eef4ef" stroke="#eef4ef" stroke-width="0.45"/>
<polygon points="88.2,343.66 99.5,341.98 105,345.48 93.7,347.16" fill="#ecf3ed" stroke="#ecf3ed" stroke-width="0.45"/>
<polygon points="94,338.48 105.3,336.8 110.8,340.3 99.5,341.98" fill="#c8dccd" stroke="#c8dccd" stroke-width="0.45"/>
<polygon points="99.5,341.98 110.8,340.3 116.3,343.8 105,345.48" fill="#c7dbcb" stroke="#c7dbcb" stroke-width="0.45"/>
<polygon points="105.3,336.8 116.6,335.12 122.1,338.62 110.8,340.3" fill="#c4d9c9" stroke="#c4d9c9" stroke-width="0.45"/>
<polygon points="110.8,340.3 122.1,338.62 127.6,342.12 116.3,343.8" fill="#c0d6c5" stroke="#c0d6c5" stroke-width="0.45"/>
<polygon points="116.6,335.12 127.9,333.44 133.4,336.94 122.1,338.62" fill="#a2c3aa" stroke="#a2c3aa" stroke-width="0.45"/>
<polygon points="122.1,338.62 133.4,336.94 138.9,340.44 127.6,342.12" fill="#a5c4ac" stroke="#a5c4ac" stroke-width="0.45"/>
<polygon points="127.9,333.44 139.2,331.76 144.7,335.26 133.4,336.94" fill="#a8c7af" stroke="#a8c7af" stroke-width="0.45"/>
<polygon points="133.4,336.94 144.7,335.26 150.2,338.76 138.9,340.44" fill="#a8c7af" stroke="#a8c7af" stroke-width="0.45"/>
<polygon points="139.2,331.76 150.5,330.08 156,333.58 144.7,335.26" fill="#89b392" stroke="#89b392" stroke-width="0.45"/>
<polygon points="144.7,335.26 156,333.58 161.5,337.08 150.2,338.76" fill="#79a884" stroke="#79a884" stroke-width="0.45"/>
<polygon points="150.5,330.08 161.8,328.4 167.3,331.9 156,333.58" fill="#7baa86" stroke="#7baa86" stroke-width="0.45"/>
<polygon points="156,333.58 167.3,331.9 172.8,335.4 161.5,337.08" fill="#7ba985" stroke="#7ba985" stroke-width="0.45"/>
<polygon points="59.8,352.2 71.1,350.52 76.6,354.02 65.3,355.7" fill="#f2f6f3" stroke="#f2f6f3" stroke-width="0.45"/>
<polygon points="65.3,355.7 76.6,354.02 82.1,357.52 70.8,359.2" fill="#f0f5f1" stroke="#f0f5f1" stroke-width="0.45"/>
<polygon points="71.1,350.52 82.4,348.84 87.9,352.34 76.6,354.02" fill="#f3f7f4" stroke="#f3f7f4" stroke-width="0.45"/>
<polygon points="76.6,354.02 87.9,352.34 93.4,355.84 82.1,357.52" fill="#f2f7f3" stroke="#f2f7f3" stroke-width="0.45"/>
<polygon points="82.4,348.84 93.7,347.16 99.2,350.66 87.9,352.34" fill="#e2ece4" stroke="#e2ece4" stroke-width="0.45"/>
<polygon points="87.9,352.34 99.2,350.66 104.7,354.16 93.4,355.84" fill="#dfeae1" stroke="#dfeae1" stroke-width="0.45"/>
<polygon points="93.7,347.16 105,345.48 110.5,348.98 99.2,350.66" fill="#e0ebe3" stroke="#e0ebe3" stroke-width="0.45"/>
<polygon points="99.2,350.66 110.5,348.98 116,352.48 104.7,354.16" fill="#e2ece4" stroke="#e2ece4" stroke-width="0.45"/>
<polygon points="105,345.48 116.3,343.8 121.8,347.3 110.5,348.98" fill="#c0d6c5" stroke="#c0d6c5" stroke-width="0.45"/>
<polygon points="110.5,348.98 121.8,347.3 127.3,350.8 116,352.48" fill="#caddcf" stroke="#caddcf" stroke-width="0.45"/>
<polygon points="116.3,343.8 127.6,342.12 133.1,345.62 121.8,347.3" fill="#c1d7c6" stroke="#c1d7c6" stroke-width="0.45"/>
<polygon points="121.8,347.3 133.1,345.62 138.6,349.12 127.3,350.8" fill="#c3d8c7" stroke="#c3d8c7" stroke-width="0.45"/>
<polygon points="127.6,342.12 138.9,340.44 144.4,343.94 133.1,345.62" fill="#abc9b2" stroke="#abc9b2" stroke-width="0.45"/>
<polygon points="133.1,345.62 144.4,343.94 149.9,347.44 138.6,349.12" fill="#a4c4ac" stroke="#a4c4ac" stroke-width="0.45"/>
<polygon points="138.9,340.44 150.2,338.76 155.7,342.26 144.4,343.94" fill="#9cbfa4" stroke="#9cbfa4" stroke-width="0.45"/>
<polygon points="144.4,343.94 155.7,342.26 161.2,345.76 149.9,347.44" fill="#9cbfa4" stroke="#9cbfa4" stroke-width="0.45"/>
<polygon points="150.2,338.76 161.5,337.08 167,340.58 155.7,342.26" fill="#7aa984" stroke="#7aa984" stroke-width="0.45"/>
<polygon points="155.7,342.26 167,340.58 172.5,344.08 161.2,345.76" fill="#75a680" stroke="#75a680" stroke-width="0.45"/>
<polygon points="161.5,337.08 172.8,335.4 178.3,338.9 167,340.58" fill="#76a681" stroke="#76a681" stroke-width="0.45"/>
<polygon points="167,340.58 178.3,338.9 183.8,342.4 172.5,344.08" fill="#80ac8a" stroke="#80ac8a" stroke-width="0.45"/>
<polygon points="70.8,359.2 82.1,357.52 87.6,361.02 76.3,362.7" fill="#fbfdfc" stroke="#fbfdfc" stroke-width="0.45"/>
<polygon points="76.3,362.7 87.6,361.02 93.1,364.52 81.8,366.2" fill="#fbfcfb" stroke="#fbfcfb" stroke-width="0.45"/>
<polygon points="82.1,357.52 93.4,355.84 98.9,359.34 87.6,361.02" fill="#fcfdfd" stroke="#fcfdfd" stroke-width="0.45"/>
<polygon points="87.6,361.02 98.9,359.34 104.4,362.84 93.1,364.52" fill="#fafcfa" stroke="#fafcfa" stroke-width="0.45"/>
<polygon points="93.4,355.84 104.7,354.16 110.2,357.66 98.9,359.34" fill="#e7efe9" stroke="#e7efe9" stroke-width="0.45"/>
<polygon points="98.9,359.34 110.2,357.66 115.7,361.16 104.4,362.84" fill="#e4eee6" stroke="#e4eee6" stroke-width="0.45"/>
<polygon points="104.7,354.16 116,352.48 121.5,355.98 110.2,357.66" fill="#eaf1ec" stroke="#eaf1ec" stroke-width="0.45"/>
<polygon points="110.2,357.66 121.5,355.98 127,359.48 115.7,361.16" fill="#e7efe9" stroke="#e7efe9" stroke-width="0.45"/>
<polygon points="116,352.48 127.3,350.8 132.8,354.3 121.5,355.98" fill="#e3ede5" stroke="#e3ede5" stroke-width="0.45"/>
<polygon points="121.5,355.98 132.8,354.3 138.3,357.8 127,359.48" fill="#dde9df" stroke="#dde9df" stroke-width="0.45"/>
<polygon points="127.3,350.8 138.6,349.12 144.1,352.62 132.8,354.3" fill="#dae7dd" stroke="#dae7dd" stroke-width="0.45"/>
<polygon points="132.8,354.3 144.1,352.62 149.6,356.12 138.3,357.8" fill="#dee9e0" stroke="#dee9e0" stroke-width="0.45"/>
<polygon points="138.6,349.12 149.9,347.44 155.4,350.94 144.1,352.62" fill="#b4ceba" stroke="#b4ceba" stroke-width="0.45"/>
<polygon points="144.1,352.62 155.4,350.94 160.9,354.44 149.6,356.12" fill="#b3ceb9" stroke="#b3ceb9" stroke-width="0.45"/>
<polygon points="149.9,347.44 161.2,345.76 166.7,349.26 155.4,350.94" fill="#b9d1be" stroke="#b9d1be" stroke-width="0.45"/>
<polygon points="155.4,350.94 166.7,349.26 172.2,352.76 160.9,354.44" fill="#b6d0bc" stroke="#b6d0bc" stroke-width="0.45"/>
<polygon points="161.2,345.76 172.5,344.08 178,347.58 166.7,349.26" fill="#a3c3aa" stroke="#a3c3aa" stroke-width="0.45"/>
<polygon points="166.7,349.26 178,347.58 183.5,351.08 172.2,352.76" fill="#a2c3a9" stroke="#a2c3a9" stroke-width="0.45"/>
<polygon points="172.5,344.08 183.8,342.4 189.3,345.9 178,347.58" fill="#a6c5ad" stroke="#a6c5ad" stroke-width="0.45"/>
<polygon points="178,347.58 189.3,345.9 194.8,349.4 183.5,351.08" fill="#a5c4ac" stroke="#a5c4ac" stroke-width="0.45"/>
<polygon points="81.8,366.2 93.1,364.52 98.6,368.02 87.3,369.7" fill="#fdfefd" stroke="#fdfefd" stroke-width="0.45"/>
<polygon points="87.3,369.7 98.6,368.02 104.1,371.52 92.8,373.2" fill="#fbfdfc" stroke="#fbfdfc" stroke-width="0.45"/>
<polygon points="93.1,364.52 104.4,362.84 109.9,366.34 98.6,368.02" fill="#fbfcfb" stroke="#fbfcfb" stroke-width="0.45"/>
<polygon points="98.6,368.02 109.9,366.34 115.4,369.84 104.1,371.52" fill="#fdfefd" stroke="#fdfefd" stroke-width="0.45"/>
<polygon points="104.4,362.84 115.7,361.16 121.2,364.66 109.9,366.34" fill="#f0f6f2" stroke="#f0f6f2" stroke-width="0.45"/>
<polygon points="109.9,366.34 121.2,364.66 126.7,368.16 115.4,369.84" fill="#eff5f0" stroke="#eff5f0" stroke-width="0.45"/>
<polygon points="115.7,361.16 127,359.48 132.5,362.98 121.2,364.66" fill="#f2f6f3" stroke="#f2f6f3" stroke-width="0.45"/>
<polygon points="121.2,364.66 132.5,362.98 138,366.48 126.7,368.16" fill="#eef4f0" stroke="#eef4f0" stroke-width="0.45"/>
<polygon points="127,359.48 138.3,357.8 143.8,361.3 132.5,362.98" fill="#e8f0ea" stroke="#e8f0ea" stroke-width="0.45"/>
<polygon points="132.5,362.98 143.8,361.3 149.3,364.8 138,366.48" fill="#e3ede5" stroke="#e3ede5" stroke-width="0.45"/>
<polygon points="138.3,357.8 149.6,356.12 155.1,359.62 143.8,361.3" fill="#e9f1eb" stroke="#e9f1eb" stroke-width="0.45"/>
<polygon points="143.8,361.3 155.1,359.62 160.6,363.12 149.3,364.8" fill="#e7f0e9" stroke="#e7f0e9" stroke-width="0.45"/>
<polygon points="149.6,356.12 160.9,354.44 166.4,357.94 155.1,359.62" fill="#e3ede6" stroke="#e3ede6" stroke-width="0.45"/>
<polygon points="155.1,359.62 166.4,357.94 171.9,361.44 160.6,363.12" fill="#eaf2ec" stroke="#eaf2ec" stroke-width="0.45"/>
<polygon points="160.9,354.44 172.2,352.76 177.7,356.26 166.4,357.94" fill="#e5eee7" stroke="#e5eee7" stroke-width="0.45"/>
<polygon points="166.4,357.94 177.7,356.26 183.2,359.76 171.9,361.44" fill="#e3ede5" stroke="#e3ede5" stroke-width="0.45"/>
<polygon points="172.2,352.76 183.5,351.08 189,354.58 177.7,356.26" fill="#c8dbcd" stroke="#c8dbcd" stroke-width="0.45"/>
<polygon points="177.7,356.26 189,354.58 194.5,358.08 183.2,359.76" fill="#cbddcf" stroke="#cbddcf" stroke-width="0.45"/>
<polygon points="183.5,351.08 194.8,349.4 200.3,352.9 189,354.58" fill="#cfe0d3" stroke="#cfe0d3" stroke-width="0.45"/>
<polygon points="189,354.58 200.3,352.9 205.8,356.4 194.5,358.08" fill="#cfe0d3" stroke="#cfe0d3" stroke-width="0.45"/>
<line x1="48.8" y1="345.2" x2="161.8" y2="328.4" stroke="#5a5a5a" stroke-width="0.5"/>
<line x1="59.8" y1="352.2" x2="172.8" y2="335.4" stroke="#5a5a5a" stroke-width="0.5"/>
<line x1="70.8" y1="359.2" x2="183.8" y2="342.4" stroke="#5a5a5a" stroke-width="0.5"/>
<line x1="81.8" y1="366.2" x2="194.8" y2="349.4" stroke="#5a5a5a" stroke-width="0.5"/>
<line x1="60.4" y1="334.84" x2="115.4" y2="369.84" stroke="#2e2e2e" stroke-width="0.6"/>
<line x1="83" y1="331.48" x2="138" y2="366.48" stroke="#2e2e2e" stroke-width="0.6"/>
<line x1="105.6" y1="328.12" x2="160.6" y2="363.12" stroke="#2e2e2e" stroke-width="0.6"/>
<line x1="128.2" y1="324.76" x2="183.2" y2="359.76" stroke="#2e2e2e" stroke-width="0.6"/>
<polygon points="37.8,338.2 150.8,321.4 205.8,356.4 92.8,373.2" fill="none" stroke="#333" stroke-width="0.75" stroke-linejoin="round"/>
<polygon points="37.8,311.2 49.1,309.52 54.6,313.02 43.3,314.7" fill="#b2cdb8" stroke="#b2cdb8" stroke-width="0.45"/>
<polygon points="43.3,314.7 54.6,313.02 60.1,316.52 48.8,318.2" fill="#abc8b1" stroke="#abc8b1" stroke-width="0.45"/>
<polygon points="49.1,309.52 60.4,307.84 65.9,311.34 54.6,313.02" fill="#b2cdb8" stroke="#b2cdb8" stroke-width="0.45"/>
<polygon points="54.6,313.02 65.9,311.34 71.4,314.84 60.1,316.52" fill="#a9c7b0" stroke="#a9c7b0" stroke-width="0.45"/>
<polygon points="60.4,307.84 71.7,306.16 77.2,309.66 65.9,311.34" fill="#70a27c" stroke="#70a27c" stroke-width="0.45"/>
<polygon points="65.9,311.34 77.2,309.66 82.7,313.16 71.4,314.84" fill="#75a680" stroke="#75a680" stroke-width="0.45"/>
<polygon points="71.7,306.16 83,304.48 88.5,307.98 77.2,309.66" fill="#70a27b" stroke="#70a27b" stroke-width="0.45"/>
<polygon points="77.2,309.66 88.5,307.98 94,311.48 82.7,313.16" fill="#71a37c" stroke="#71a37c" stroke-width="0.45"/>
<polygon points="83,304.48 94.3,302.8 99.8,306.3 88.5,307.98" fill="#acc9b2" stroke="#acc9b2" stroke-width="0.45"/>
<polygon points="88.5,307.98 99.8,306.3 105.3,309.8 94,311.48" fill="#a4c4ab" stroke="#a4c4ab" stroke-width="0.45"/>
<polygon points="94.3,302.8 105.6,301.12 111.1,304.62 99.8,306.3" fill="#a2c3aa" stroke="#a2c3aa" stroke-width="0.45"/>
<polygon points="99.8,306.3 111.1,304.62 116.6,308.12 105.3,309.8" fill="#a4c4ab" stroke="#a4c4ab" stroke-width="0.45"/>
<polygon points="105.6,301.12 116.9,299.44 122.4,302.94 111.1,304.62" fill="#84af8e" stroke="#84af8e" stroke-width="0.45"/>
<polygon points="111.1,304.62 122.4,302.94 127.9,306.44 116.6,308.12" fill="#87b190" stroke="#87b190" stroke-width="0.45"/>
<polygon points="116.9,299.44 128.2,297.76 133.7,301.26 122.4,302.94" fill="#8eb697" stroke="#8eb697" stroke-width="0.45"/>
<polygon points="122.4,302.94 133.7,301.26 139.2,304.76 127.9,306.44" fill="#91b89a" stroke="#91b89a" stroke-width="0.45"/>
<polygon points="128.2,297.76 139.5,296.08 145,299.58 133.7,301.26" fill="#83af8d" stroke="#83af8d" stroke-width="0.45"/>
<polygon points="133.7,301.26 145,299.58 150.5,303.08 139.2,304.76" fill="#74a57f" stroke="#74a57f" stroke-width="0.45"/>
<polygon points="139.5,296.08 150.8,294.4 156.3,297.9 145,299.58" fill="#77a782" stroke="#77a782" stroke-width="0.45"/>
<polygon points="145,299.58 156.3,297.9 161.8,301.4 150.5,303.08" fill="#79a883" stroke="#79a883" stroke-width="0.45"/>
<polygon points="48.8,318.2 60.1,316.52 65.6,320.02 54.3,321.7" fill="#bed5c3" stroke="#bed5c3" stroke-width="0.45"/>
<polygon points="54.3,321.7 65.6,320.02 71.1,323.52 59.8,325.2" fill="#bdd4c2" stroke="#bdd4c2" stroke-width="0.45"/>
<polygon points="60.1,316.52 71.4,314.84 76.9,318.34 65.6,320.02" fill="#c1d7c6" stroke="#c1d7c6" stroke-width="0.45"/>
<polygon points="65.6,320.02 76.9,318.34 82.4,321.84 71.1,323.52" fill="#bdd4c2" stroke="#bdd4c2" stroke-width="0.45"/>
<polygon points="71.4,314.84 82.7,313.16 88.2,316.66 76.9,318.34" fill="#e9f1eb" stroke="#e9f1eb" stroke-width="0.45"/>
<polygon points="76.9,318.34 88.2,316.66 93.7,320.16 82.4,321.84" fill="#e5eee7" stroke="#e5eee7" stroke-width="0.45"/>
<polygon points="82.7,313.16 94,311.48 99.5,314.98 88.2,316.66" fill="#e5eee7" stroke="#e5eee7" stroke-width="0.45"/>
<polygon points="88.2,316.66 99.5,314.98 105,318.48 93.7,320.16" fill="#e5eee7" stroke="#e5eee7" stroke-width="0.45"/>
<polygon points="94,311.48 105.3,309.8 110.8,313.3 99.5,314.98" fill="#a9c7af" stroke="#a9c7af" stroke-width="0.45"/>
<polygon points="99.5,314.98 110.8,313.3 116.3,316.8 105,318.48" fill="#abc9b2" stroke="#abc9b2" stroke-width="0.45"/>
<polygon points="105.3,309.8 116.6,308.12 122.1,311.62 110.8,313.3" fill="#a7c6ae" stroke="#a7c6ae" stroke-width="0.45"/>
<polygon points="110.8,313.3 122.1,311.62 127.6,315.12 116.3,316.8" fill="#a1c2a8" stroke="#a1c2a8" stroke-width="0.45"/>
<polygon points="116.6,308.12 127.9,306.44 133.4,309.94 122.1,311.62" fill="#83af8d" stroke="#83af8d" stroke-width="0.45"/>
<polygon points="122.1,311.62 133.4,309.94 138.9,313.44 127.6,315.12" fill="#7eab88" stroke="#7eab88" stroke-width="0.45"/>
<polygon points="127.9,306.44 139.2,304.76 144.7,308.26 133.4,309.94" fill="#85b08e" stroke="#85b08e" stroke-width="0.45"/>
<polygon points="133.4,309.94 144.7,308.26 150.2,311.76 138.9,313.44" fill="#85b08f" stroke="#85b08f" stroke-width="0.45"/>
<polygon points="139.2,304.76 150.5,303.08 156,306.58 144.7,308.26" fill="#72a47d" stroke="#72a47d" stroke-width="0.45"/>
<polygon points="144.7,308.26 156,306.58 161.5,310.08 150.2,311.76" fill="#82ae8c" stroke="#82ae8c" stroke-width="0.45"/>
<polygon points="150.5,303.08 161.8,301.4 167.3,304.9 156,306.58" fill="#81ae8b" stroke="#81ae8b" stroke-width="0.45"/>
<polygon points="156,306.58 167.3,304.9 172.8,308.4 161.5,310.08" fill="#79a884" stroke="#79a884" stroke-width="0.45"/>
<polygon points="59.8,325.2 71.1,323.52 76.6,327.02 65.3,328.7" fill="#dde9df" stroke="#dde9df" stroke-width="0.45"/>
<polygon points="65.3,328.7 76.6,327.02 82.1,330.52 70.8,332.2" fill="#dfeae1" stroke="#dfeae1" stroke-width="0.45"/>
<polygon points="71.1,323.52 82.4,321.84 87.9,325.34 76.6,327.02" fill="#dde9e0" stroke="#dde9e0" stroke-width="0.45"/>
<polygon points="76.6,327.02 87.9,325.34 93.4,328.84 82.1,330.52" fill="#dfeae1" stroke="#dfeae1" stroke-width="0.45"/>
<polygon points="82.4,321.84 93.7,320.16 99.2,323.66 87.9,325.34" fill="#bbd3c0" stroke="#bbd3c0" stroke-width="0.45"/>
<polygon points="87.9,325.34 99.2,323.66 104.7,327.16 93.4,328.84" fill="#b8d1bd" stroke="#b8d1bd" stroke-width="0.45"/>
<polygon points="93.7,320.16 105,318.48 110.5,321.98 99.2,323.66" fill="#b8d1be" stroke="#b8d1be" stroke-width="0.45"/>
<polygon points="99.2,323.66 110.5,321.98 116,325.48 104.7,327.16" fill="#bbd3c0" stroke="#bbd3c0" stroke-width="0.45"/>
<polygon points="105,318.48 116.3,316.8 121.8,320.3 110.5,321.98" fill="#a5c4ac" stroke="#a5c4ac" stroke-width="0.45"/>
<polygon points="110.5,321.98 121.8,320.3 127.3,323.8 116,325.48" fill="#9dbfa4" stroke="#9dbfa4" stroke-width="0.45"/>
<polygon points="116.3,316.8 127.6,315.12 133.1,318.62 121.8,320.3" fill="#a5c5ac" stroke="#a5c5ac" stroke-width="0.45"/>
<polygon points="121.8,320.3 133.1,318.62 138.6,322.12 127.3,323.8" fill="#a2c3a9" stroke="#a2c3a9" stroke-width="0.45"/>
<polygon points="127.6,315.12 138.9,313.44 144.4,316.94 133.1,318.62" fill="#73a47e" stroke="#73a47e" stroke-width="0.45"/>
<polygon points="133.1,318.62 144.4,316.94 149.9,320.44 138.6,322.12" fill="#77a782" stroke="#77a782" stroke-width="0.45"/>
<polygon points="138.9,313.44 150.2,311.76 155.7,315.26 144.4,316.94" fill="#7dab88" stroke="#7dab88" stroke-width="0.45"/>
<polygon points="144.4,316.94 155.7,315.26 161.2,318.76 149.9,320.44" fill="#76a681" stroke="#76a681" stroke-width="0.45"/>
<polygon points="150.2,311.76 161.5,310.08 167,313.58 155.7,315.26" fill="#79a883" stroke="#79a883" stroke-width="0.45"/>
<polygon points="155.7,315.26 167,313.58 172.5,317.08 161.2,318.76" fill="#72a47d" stroke="#72a47d" stroke-width="0.45"/>
<polygon points="161.5,310.08 172.8,308.4 178.3,311.9 167,313.58" fill="#78a883" stroke="#78a883" stroke-width="0.45"/>
<polygon points="167,313.58 178.3,311.9 183.8,315.4 172.5,317.08" fill="#7aa985" stroke="#7aa985" stroke-width="0.45"/>
<polygon points="70.8,332.2 82.1,330.52 87.6,334.02 76.3,335.7" fill="#ebf2ec" stroke="#ebf2ec" stroke-width="0.45"/>
<polygon points="76.3,335.7 87.6,334.02 93.1,337.52 81.8,339.2" fill="#eef4f0" stroke="#eef4f0" stroke-width="0.45"/>
<polygon points="82.1,330.52 93.4,328.84 98.9,332.34 87.6,334.02" fill="#eff5f1" stroke="#eff5f1" stroke-width="0.45"/>
<polygon points="87.6,334.02 98.9,332.34 104.4,335.84 93.1,337.52" fill="#ebf2ed" stroke="#ebf2ed" stroke-width="0.45"/>
<polygon points="93.4,328.84 104.7,327.16 110.2,330.66 98.9,332.34" fill="#d1e1d5" stroke="#d1e1d5" stroke-width="0.45"/>
<polygon points="98.9,332.34 110.2,330.66 115.7,334.16 104.4,335.84" fill="#d9e7dc" stroke="#d9e7dc" stroke-width="0.45"/>
<polygon points="104.7,327.16 116,325.48 121.5,328.98 110.2,330.66" fill="#dae7dd" stroke="#dae7dd" stroke-width="0.45"/>
<polygon points="110.2,330.66 121.5,328.98 127,332.48 115.7,334.16" fill="#d2e2d5" stroke="#d2e2d5" stroke-width="0.45"/>
<polygon points="116,325.48 127.3,323.8 132.8,327.3 121.5,328.98" fill="#b8d1bd" stroke="#b8d1bd" stroke-width="0.45"/>
<polygon points="121.5,328.98 132.8,327.3 138.3,330.8 127,332.48" fill="#bfd5c4" stroke="#bfd5c4" stroke-width="0.45"/>
<polygon points="127.3,323.8 138.6,322.12 144.1,325.62 132.8,327.3" fill="#c0d6c5" stroke="#c0d6c5" stroke-width="0.45"/>
<polygon points="132.8,327.3 144.1,325.62 149.6,329.12 138.3,330.8" fill="#bad3c0" stroke="#bad3c0" stroke-width="0.45"/>
<polygon points="138.6,322.12 149.9,320.44 155.4,323.94 144.1,325.62" fill="#94ba9d" stroke="#94ba9d" stroke-width="0.45"/>
<polygon points="144.1,325.62 155.4,323.94 160.9,327.44 149.6,329.12" fill="#a1c2a9" stroke="#a1c2a9" stroke-width="0.45"/>
<polygon points="149.9,320.44 161.2,318.76 166.7,322.26 155.4,323.94" fill="#9dbfa5" stroke="#9dbfa5" stroke-width="0.45"/>
<polygon points="155.4,323.94 166.7,322.26 172.2,325.76 160.9,327.44" fill="#99bda1" stroke="#99bda1" stroke-width="0.45"/>
<polygon points="161.2,318.76 172.5,317.08 178,320.58 166.7,322.26" fill="#91b89a" stroke="#91b89a" stroke-width="0.45"/>
<polygon points="166.7,322.26 178,320.58 183.5,324.08 172.2,325.76" fill="#8db596" stroke="#8db596" stroke-width="0.45"/>
<polygon points="172.5,317.08 183.8,315.4 189.3,318.9 178,320.58" fill="#93b99b" stroke="#93b99b" stroke-width="0.45"/>
<polygon points="178,320.58 189.3,318.9 194.8,322.4 183.5,324.08" fill="#8cb495" stroke="#8cb495" stroke-width="0.45"/>
<polygon points="81.8,339.2 93.1,337.52 98.6,341.02 87.3,342.7" fill="#f9fbf9" stroke="#f9fbf9" stroke-width="0.45"/>
<polygon points="87.3,342.7 98.6,341.02 104.1,344.52 92.8,346.2" fill="#fafcfa" stroke="#fafcfa" stroke-width="0.45"/>
<polygon points="93.1,337.52 104.4,335.84 109.9,339.34 98.6,341.02" fill="#f8faf8" stroke="#f8faf8" stroke-width="0.45"/>
<polygon points="98.6,341.02 109.9,339.34 115.4,342.84 104.1,344.52" fill="#f9fbfa" stroke="#f9fbfa" stroke-width="0.45"/>
<polygon points="104.4,335.84 115.7,334.16 121.2,337.66 109.9,339.34" fill="#f2f6f3" stroke="#f2f6f3" stroke-width="0.45"/>
<polygon points="109.9,339.34 121.2,337.66 126.7,341.16 115.4,342.84" fill="#f1f6f2" stroke="#f1f6f2" stroke-width="0.45"/>
<polygon points="115.7,334.16 127,332.48 132.5,335.98 121.2,337.66" fill="#eff5f0" stroke="#eff5f0" stroke-width="0.45"/>
<polygon points="121.2,337.66 132.5,335.98 138,339.48 126.7,341.16" fill="#f0f5f1" stroke="#f0f5f1" stroke-width="0.45"/>
<polygon points="127,332.48 138.3,330.8 143.8,334.3 132.5,335.98" fill="#d3e3d7" stroke="#d3e3d7" stroke-width="0.45"/>
<polygon points="132.5,335.98 143.8,334.3 149.3,337.8 138,339.48" fill="#d7e5da" stroke="#d7e5da" stroke-width="0.45"/>
<polygon points="138.3,330.8 149.6,329.12 155.1,332.62 143.8,334.3" fill="#d9e6dc" stroke="#d9e6dc" stroke-width="0.45"/>
<polygon points="143.8,334.3 155.1,332.62 160.6,336.12 149.3,337.8" fill="#d9e6dc" stroke="#d9e6dc" stroke-width="0.45"/>
<polygon points="149.6,329.12 160.9,327.44 166.4,330.94 155.1,332.62" fill="#c0d6c5" stroke="#c0d6c5" stroke-width="0.45"/>
<polygon points="155.1,332.62 166.4,330.94 171.9,334.44 160.6,336.12" fill="#bad2bf" stroke="#bad2bf" stroke-width="0.45"/>
<polygon points="160.9,327.44 172.2,325.76 177.7,329.26 166.4,330.94" fill="#c1d7c6" stroke="#c1d7c6" stroke-width="0.45"/>
<polygon points="166.4,330.94 177.7,329.26 183.2,332.76 171.9,334.44" fill="#bdd5c3" stroke="#bdd5c3" stroke-width="0.45"/>
<polygon points="172.2,325.76 183.5,324.08 189,327.58 177.7,329.26" fill="#9fc1a7" stroke="#9fc1a7" stroke-width="0.45"/>
<polygon points="177.7,329.26 189,327.58 194.5,331.08 183.2,332.76" fill="#9fc1a6" stroke="#9fc1a6" stroke-width="0.45"/>
<polygon points="183.5,324.08 194.8,322.4 200.3,325.9 189,327.58" fill="#a5c5ac" stroke="#a5c5ac" stroke-width="0.45"/>
<polygon points="189,327.58 200.3,325.9 205.8,329.4 194.5,331.08" fill="#9ec0a6" stroke="#9ec0a6" stroke-width="0.45"/>
<line x1="48.8" y1="318.2" x2="161.8" y2="301.4" stroke="#5a5a5a" stroke-width="0.5"/>
<line x1="59.8" y1="325.2" x2="172.8" y2="308.4" stroke="#5a5a5a" stroke-width="0.5"/>
<line x1="70.8" y1="332.2" x2="183.8" y2="315.4" stroke="#5a5a5a" stroke-width="0.5"/>
<line x1="81.8" y1="339.2" x2="194.8" y2="322.4" stroke="#5a5a5a" stroke-width="0.5"/>
<line x1="60.4" y1="307.84" x2="115.4" y2="342.84" stroke="#2e2e2e" stroke-width="0.6"/>
<line x1="83" y1="304.48" x2="138" y2="339.48" stroke="#2e2e2e" stroke-width="0.6"/>
<line x1="105.6" y1="301.12" x2="160.6" y2="336.12" stroke="#2e2e2e" stroke-width="0.6"/>
<line x1="128.2" y1="297.76" x2="183.2" y2="332.76" stroke="#2e2e2e" stroke-width="0.6"/>
<polygon points="37.8,311.2 150.8,294.4 205.8,329.4 92.8,346.2" fill="none" stroke="#333" stroke-width="0.75" stroke-linejoin="round"/>
<polygon points="37.8,285.1 49.1,283.42 54.6,286.92 43.3,288.6" fill="#79a884" stroke="#79a884" stroke-width="0.45"/>
<polygon points="43.3,288.6 54.6,286.92 60.1,290.42 48.8,292.1" fill="#82ae8c" stroke="#82ae8c" stroke-width="0.45"/>
<polygon points="49.1,283.42 60.4,281.74 65.9,285.24 54.6,286.92" fill="#71a37c" stroke="#71a37c" stroke-width="0.45"/>
<polygon points="54.6,286.92 65.9,285.24 71.4,288.74 60.1,290.42" fill="#72a37d" stroke="#72a37d" stroke-width="0.45"/>
<polygon points="60.4,281.74 71.7,280.06 77.2,283.56 65.9,285.24" fill="#7caa86" stroke="#7caa86" stroke-width="0.45"/>
<polygon points="65.9,285.24 77.2,283.56 82.7,287.06 71.4,288.74" fill="#77a782" stroke="#77a782" stroke-width="0.45"/>
<polygon points="71.7,280.06 83,278.38 88.5,281.88 77.2,283.56" fill="#81ad8b" stroke="#81ad8b" stroke-width="0.45"/>
<polygon points="77.2,283.56 88.5,281.88 94,285.38 82.7,287.06" fill="#81ad8b" stroke="#81ad8b" stroke-width="0.45"/>
<polygon points="83,278.38 94.3,276.7 99.8,280.2 88.5,281.88" fill="#7caa87" stroke="#7caa87" stroke-width="0.45"/>
<polygon points="88.5,281.88 99.8,280.2 105.3,283.7 94,285.38" fill="#73a47e" stroke="#73a47e" stroke-width="0.45"/>
<polygon points="94.3,276.7 105.6,275.02 111.1,278.52 99.8,280.2" fill="#7eab88" stroke="#7eab88" stroke-width="0.45"/>
<polygon points="99.8,280.2 111.1,278.52 116.6,282.02 105.3,283.7" fill="#6da079" stroke="#6da079" stroke-width="0.45"/>
<polygon points="105.6,275.02 116.9,273.34 122.4,276.84 111.1,278.52" fill="#7daa87" stroke="#7daa87" stroke-width="0.45"/>
<polygon points="111.1,278.52 122.4,276.84 127.9,280.34 116.6,282.02" fill="#7aa984" stroke="#7aa984" stroke-width="0.45"/>
<polygon points="116.9,273.34 128.2,271.66 133.7,275.16 122.4,276.84" fill="#7caa86" stroke="#7caa86" stroke-width="0.45"/>
<polygon points="122.4,276.84 133.7,275.16 139.2,278.66 127.9,280.34" fill="#6da078" stroke="#6da078" stroke-width="0.45"/>
<polygon points="128.2,271.66 139.5,269.98 145,273.48 133.7,275.16" fill="#76a681" stroke="#76a681" stroke-width="0.45"/>
<polygon points="133.7,275.16 145,273.48 150.5,276.98 139.2,278.66" fill="#73a47e" stroke="#73a47e" stroke-width="0.45"/>
<polygon points="139.5,269.98 150.8,268.3 156.3,271.8 145,273.48" fill="#77a781" stroke="#77a781" stroke-width="0.45"/>
<polygon points="145,273.48 156.3,271.8 161.8,275.3 150.5,276.98" fill="#70a27b" stroke="#70a27b" stroke-width="0.45"/>
<polygon points="48.8,292.1 60.1,290.42 65.6,293.92 54.3,295.6" fill="#aecab4" stroke="#aecab4" stroke-width="0.45"/>
<polygon points="54.3,295.6 65.6,293.92 71.1,297.42 59.8,299.1" fill="#b1ccb7" stroke="#b1ccb7" stroke-width="0.45"/>
<polygon points="60.1,290.42 71.4,288.74 76.9,292.24 65.6,293.92" fill="#aecab4" stroke="#aecab4" stroke-width="0.45"/>
<polygon points="65.6,293.92 76.9,292.24 82.4,295.74 71.1,297.42" fill="#b0ccb6" stroke="#b0ccb6" stroke-width="0.45"/>
<polygon points="71.4,288.74 82.7,287.06 88.2,290.56 76.9,292.24" fill="#a3c3aa" stroke="#a3c3aa" stroke-width="0.45"/>
<polygon points="76.9,292.24 88.2,290.56 93.7,294.06 82.4,295.74" fill="#96bb9e" stroke="#96bb9e" stroke-width="0.45"/>
<polygon points="82.7,287.06 94,285.38 99.5,288.88 88.2,290.56" fill="#99bda1" stroke="#99bda1" stroke-width="0.45"/>
<polygon points="88.2,290.56 99.5,288.88 105,292.38 93.7,294.06" fill="#99bda1" stroke="#99bda1" stroke-width="0.45"/>
<polygon points="94,285.38 105.3,283.7 110.8,287.2 99.5,288.88" fill="#73a47e" stroke="#73a47e" stroke-width="0.45"/>
<polygon points="99.5,288.88 110.8,287.2 116.3,290.7 105,292.38" fill="#7dab88" stroke="#7dab88" stroke-width="0.45"/>
<polygon points="105.3,283.7 116.6,282.02 122.1,285.52 110.8,287.2" fill="#7eab88" stroke="#7eab88" stroke-width="0.45"/>
<polygon points="110.8,287.2 122.1,285.52 127.6,289.02 116.3,290.7" fill="#7daa87" stroke="#7daa87" stroke-width="0.45"/>
<polygon points="116.6,282.02 127.9,280.34 133.4,283.84 122.1,285.52" fill="#75a580" stroke="#75a580" stroke-width="0.45"/>
<polygon points="122.1,285.52 133.4,283.84 138.9,287.34 127.6,289.02" fill="#6fa27a" stroke="#6fa27a" stroke-width="0.45"/>
<polygon points="127.9,280.34 139.2,278.66 144.7,282.16 133.4,283.84" fill="#7eab88" stroke="#7eab88" stroke-width="0.45"/>
<polygon points="133.4,283.84 144.7,282.16 150.2,285.66 138.9,287.34" fill="#74a57f" stroke="#74a57f" stroke-width="0.45"/>
<polygon points="139.2,278.66 150.5,276.98 156,280.48 144.7,282.16" fill="#72a47d" stroke="#72a47d" stroke-width="0.45"/>
<polygon points="144.7,282.16 156,280.48 161.5,283.98 150.2,285.66" fill="#76a681" stroke="#76a681" stroke-width="0.45"/>
<polygon points="150.5,276.98 161.8,275.3 167.3,278.8 156,280.48" fill="#7eab88" stroke="#7eab88" stroke-width="0.45"/>
<polygon points="156,280.48 167.3,278.8 172.8,282.3 161.5,283.98" fill="#6ea17a" stroke="#6ea17a" stroke-width="0.45"/>
<polygon points="59.8,299.1 71.1,297.42 76.6,300.92 65.3,302.6" fill="#d3e3d7" stroke="#d3e3d7" stroke-width="0.45"/>
<polygon points="65.3,302.6 76.6,300.92 82.1,304.42 70.8,306.1" fill="#cdded1" stroke="#cdded1" stroke-width="0.45"/>
<polygon points="71.1,297.42 82.4,295.74 87.9,299.24 76.6,300.92" fill="#d2e2d5" stroke="#d2e2d5" stroke-width="0.45"/>
<polygon points="76.6,300.92 87.9,299.24 93.4,302.74 82.1,304.42" fill="#d3e2d6" stroke="#d3e2d6" stroke-width="0.45"/>
<polygon points="82.4,295.74 93.7,294.06 99.2,297.56 87.9,299.24" fill="#b9d2bf" stroke="#b9d2bf" stroke-width="0.45"/>
<polygon points="87.9,299.24 99.2,297.56 104.7,301.06 93.4,302.74" fill="#bbd3c1" stroke="#bbd3c1" stroke-width="0.45"/>
<polygon points="93.7,294.06 105,292.38 110.5,295.88 99.2,297.56" fill="#bad2bf" stroke="#bad2bf" stroke-width="0.45"/>
<polygon points="99.2,297.56 110.5,295.88 116,299.38 104.7,301.06" fill="#b2cdb8" stroke="#b2cdb8" stroke-width="0.45"/>
<polygon points="105,292.38 116.3,290.7 121.8,294.2 110.5,295.88" fill="#98bca0" stroke="#98bca0" stroke-width="0.45"/>
<polygon points="110.5,295.88 121.8,294.2 127.3,297.7 116,299.38" fill="#9ec0a6" stroke="#9ec0a6" stroke-width="0.45"/>
<polygon points="116.3,290.7 127.6,289.02 133.1,292.52 121.8,294.2" fill="#99bda1" stroke="#99bda1" stroke-width="0.45"/>
<polygon points="121.8,294.2 133.1,292.52 138.6,296.02 127.3,297.7" fill="#9cbfa4" stroke="#9cbfa4" stroke-width="0.45"/>
<polygon points="127.6,289.02 138.9,287.34 144.4,290.84 133.1,292.52" fill="#83af8d" stroke="#83af8d" stroke-width="0.45"/>
<polygon points="133.1,292.52 144.4,290.84 149.9,294.34 138.6,296.02" fill="#7baa86" stroke="#7baa86" stroke-width="0.45"/>
<polygon points="138.9,287.34 150.2,285.66 155.7,289.16 144.4,290.84" fill="#87b191" stroke="#87b191" stroke-width="0.45"/>
<polygon points="144.4,290.84 155.7,289.16 161.2,292.66 149.9,294.34" fill="#7caa86" stroke="#7caa86" stroke-width="0.45"/>
<polygon points="150.2,285.66 161.5,283.98 167,287.48 155.7,289.16" fill="#88b291" stroke="#88b291" stroke-width="0.45"/>
<polygon points="155.7,289.16 167,287.48 172.5,290.98 161.2,292.66" fill="#88b291" stroke="#88b291" stroke-width="0.45"/>
<polygon points="161.5,283.98 172.8,282.3 178.3,285.8 167,287.48" fill="#95ba9e" stroke="#95ba9e" stroke-width="0.45"/>
<polygon points="167,287.48 178.3,285.8 183.8,289.3 172.5,290.98" fill="#94b99c" stroke="#94b99c" stroke-width="0.45"/>
<polygon points="70.8,306.1 82.1,304.42 87.6,307.92 76.3,309.6" fill="#eaf2ec" stroke="#eaf2ec" stroke-width="0.45"/>
<polygon points="76.3,309.6 87.6,307.92 93.1,311.42 81.8,313.1" fill="#e8f0e9" stroke="#e8f0e9" stroke-width="0.45"/>
<polygon points="82.1,304.42 93.4,302.74 98.9,306.24 87.6,307.92" fill="#e2ece5" stroke="#e2ece5" stroke-width="0.45"/>
<polygon points="87.6,307.92 98.9,306.24 104.4,309.74 93.1,311.42" fill="#e3ede5" stroke="#e3ede5" stroke-width="0.45"/>
<polygon points="93.4,302.74 104.7,301.06 110.2,304.56 98.9,306.24" fill="#c9dcce" stroke="#c9dcce" stroke-width="0.45"/>
<polygon points="98.9,306.24 110.2,304.56 115.7,308.06 104.4,309.74" fill="#d2e2d6" stroke="#d2e2d6" stroke-width="0.45"/>
<polygon points="104.7,301.06 116,299.38 121.5,302.88 110.2,304.56" fill="#cbddcf" stroke="#cbddcf" stroke-width="0.45"/>
<polygon points="110.2,304.56 121.5,302.88 127,306.38 115.7,308.06" fill="#caddce" stroke="#caddce" stroke-width="0.45"/>
<polygon points="116,299.38 127.3,297.7 132.8,301.2 121.5,302.88" fill="#a8c6ae" stroke="#a8c6ae" stroke-width="0.45"/>
<polygon points="121.5,302.88 132.8,301.2 138.3,304.7 127,306.38" fill="#a8c6af" stroke="#a8c6af" stroke-width="0.45"/>
<polygon points="127.3,297.7 138.6,296.02 144.1,299.52 132.8,301.2" fill="#b2cdb8" stroke="#b2cdb8" stroke-width="0.45"/>
<polygon points="132.8,301.2 144.1,299.52 149.6,303.02 138.3,304.7" fill="#b2cdb8" stroke="#b2cdb8" stroke-width="0.45"/>
<polygon points="138.6,296.02 149.9,294.34 155.4,297.84 144.1,299.52" fill="#6ca078" stroke="#6ca078" stroke-width="0.45"/>
<polygon points="144.1,299.52 155.4,297.84 160.9,301.34 149.6,303.02" fill="#6da179" stroke="#6da179" stroke-width="0.45"/>
<polygon points="149.9,294.34 161.2,292.66 166.7,296.16 155.4,297.84" fill="#6a9e76" stroke="#6a9e76" stroke-width="0.45"/>
<polygon points="155.4,297.84 166.7,296.16 172.2,299.66 160.9,301.34" fill="#74a57f" stroke="#74a57f" stroke-width="0.45"/>
<polygon points="161.2,292.66 172.5,290.98 178,294.48 166.7,296.16" fill="#8cb595" stroke="#8cb595" stroke-width="0.45"/>
<polygon points="166.7,296.16 178,294.48 183.5,297.98 172.2,299.66" fill="#9bbea2" stroke="#9bbea2" stroke-width="0.45"/>
<polygon points="172.5,290.98 183.8,289.3 189.3,292.8 178,294.48" fill="#8bb494" stroke="#8bb494" stroke-width="0.45"/>
<polygon points="178,294.48 189.3,292.8 194.8,296.3 183.5,297.98" fill="#8db596" stroke="#8db596" stroke-width="0.45"/>
<polygon points="81.8,313.1 93.1,311.42 98.6,314.92 87.3,316.6" fill="#f8faf8" stroke="#f8faf8" stroke-width="0.45"/>
<polygon points="87.3,316.6 98.6,314.92 104.1,318.42 92.8,320.1" fill="#fafcfa" stroke="#fafcfa" stroke-width="0.45"/>
<polygon points="93.1,311.42 104.4,309.74 109.9,313.24 98.6,314.92" fill="#f6f9f7" stroke="#f6f9f7" stroke-width="0.45"/>
<polygon points="98.6,314.92 109.9,313.24 115.4,316.74 104.1,318.42" fill="#f5f9f6" stroke="#f5f9f6" stroke-width="0.45"/>
<polygon points="104.4,309.74 115.7,308.06 121.2,311.56 109.9,313.24" fill="#dfebe2" stroke="#dfebe2" stroke-width="0.45"/>
<polygon points="109.9,313.24 121.2,311.56 126.7,315.06 115.4,316.74" fill="#e2ece5" stroke="#e2ece5" stroke-width="0.45"/>
<polygon points="115.7,308.06 127,306.38 132.5,309.88 121.2,311.56" fill="#e0ebe3" stroke="#e0ebe3" stroke-width="0.45"/>
<polygon points="121.2,311.56 132.5,309.88 138,313.38 126.7,315.06" fill="#dbe8de" stroke="#dbe8de" stroke-width="0.45"/>
<polygon points="127,306.38 138.3,304.7 143.8,308.2 132.5,309.88" fill="#cbddcf" stroke="#cbddcf" stroke-width="0.45"/>
<polygon points="132.5,309.88 143.8,308.2 149.3,311.7 138,313.38" fill="#c0d6c5" stroke="#c0d6c5" stroke-width="0.45"/>
<polygon points="138.3,304.7 149.6,303.02 155.1,306.52 143.8,308.2" fill="#c8dccd" stroke="#c8dccd" stroke-width="0.45"/>
<polygon points="143.8,308.2 155.1,306.52 160.6,310.02 149.3,311.7" fill="#c9dccd" stroke="#c9dccd" stroke-width="0.45"/>
<polygon points="149.6,303.02 160.9,301.34 166.4,304.84 155.1,306.52" fill="#b3cdb9" stroke="#b3cdb9" stroke-width="0.45"/>
<polygon points="155.1,306.52 166.4,304.84 171.9,308.34 160.6,310.02" fill="#a5c5ac" stroke="#a5c5ac" stroke-width="0.45"/>
<polygon points="160.9,301.34 172.2,299.66 177.7,303.16 166.4,304.84" fill="#a6c5ad" stroke="#a6c5ad" stroke-width="0.45"/>
<polygon points="166.4,304.84 177.7,303.16 183.2,306.66 171.9,308.34" fill="#afcbb6" stroke="#afcbb6" stroke-width="0.45"/>
<polygon points="172.2,299.66 183.5,297.98 189,301.48 177.7,303.16" fill="#a3c3aa" stroke="#a3c3aa" stroke-width="0.45"/>
<polygon points="177.7,303.16 189,301.48 194.5,304.98 183.2,306.66" fill="#99bda1" stroke="#99bda1" stroke-width="0.45"/>
<polygon points="183.5,297.98 194.8,296.3 200.3,299.8 189,301.48" fill="#95ba9d" stroke="#95ba9d" stroke-width="0.45"/>
<polygon points="189,301.48 200.3,299.8 205.8,303.3 194.5,304.98" fill="#a5c4ac" stroke="#a5c4ac" stroke-width="0.45"/>
<line x1="48.8" y1="292.1" x2="161.8" y2="275.3" stroke="#5a5a5a" stroke-width="0.5"/>
<line x1="59.8" y1="299.1" x2="172.8" y2="282.3" stroke="#5a5a5a" stroke-width="0.5"/>
<line x1="70.8" y1="306.1" x2="183.8" y2="289.3" stroke="#5a5a5a" stroke-width="0.5"/>
<line x1="81.8" y1="313.1" x2="194.8" y2="296.3" stroke="#5a5a5a" stroke-width="0.5"/>
<line x1="60.4" y1="281.74" x2="115.4" y2="316.74" stroke="#2e2e2e" stroke-width="0.6"/>
<line x1="83" y1="278.38" x2="138" y2="313.38" stroke="#2e2e2e" stroke-width="0.6"/>
<line x1="105.6" y1="275.02" x2="160.6" y2="310.02" stroke="#2e2e2e" stroke-width="0.6"/>
<line x1="128.2" y1="271.66" x2="183.2" y2="306.66" stroke="#2e2e2e" stroke-width="0.6"/>
<polygon points="37.8,285.1 150.8,268.3 205.8,303.3 92.8,320.1" fill="none" stroke="#333" stroke-width="0.75" stroke-linejoin="round"/>
<polygon points="37.8,258.3 49.1,256.62 54.6,260.12 43.3,261.8" fill="#80ac8a" stroke="#80ac8a" stroke-width="0.45"/>
<polygon points="43.3,261.8 54.6,260.12 60.1,263.62 48.8,265.3" fill="#79a883" stroke="#79a883" stroke-width="0.45"/>
<polygon points="49.1,256.62 60.4,254.94 65.9,258.44 54.6,260.12" fill="#72a37d" stroke="#72a37d" stroke-width="0.45"/>
<polygon points="54.6,260.12 65.9,258.44 71.4,261.94 60.1,263.62" fill="#73a47e" stroke="#73a47e" stroke-width="0.45"/>
<polygon points="60.4,254.94 71.7,253.26 77.2,256.76 65.9,258.44" fill="#73a47e" stroke="#73a47e" stroke-width="0.45"/>
<polygon points="65.9,258.44 77.2,256.76 82.7,260.26 71.4,261.94" fill="#79a884" stroke="#79a884" stroke-width="0.45"/>
<polygon points="71.7,253.26 83,251.58 88.5,255.08 77.2,256.76" fill="#71a37c" stroke="#71a37c" stroke-width="0.45"/>
<polygon points="77.2,256.76 88.5,255.08 94,258.58 82.7,260.26" fill="#77a782" stroke="#77a782" stroke-width="0.45"/>
<polygon points="83,251.58 94.3,249.9 99.8,253.4 88.5,255.08" fill="#81ad8b" stroke="#81ad8b" stroke-width="0.45"/>
<polygon points="88.5,255.08 99.8,253.4 105.3,256.9 94,258.58" fill="#79a883" stroke="#79a883" stroke-width="0.45"/>
<polygon points="94.3,249.9 105.6,248.22 111.1,251.72 99.8,253.4" fill="#82ae8c" stroke="#82ae8c" stroke-width="0.45"/>
<polygon points="99.8,253.4 111.1,251.72 116.6,255.22 105.3,256.9" fill="#6ea17a" stroke="#6ea17a" stroke-width="0.45"/>
<polygon points="105.6,248.22 116.9,246.54 122.4,250.04 111.1,251.72" fill="#71a37c" stroke="#71a37c" stroke-width="0.45"/>
<polygon points="111.1,251.72 122.4,250.04 127.9,253.54 116.6,255.22" fill="#7fac89" stroke="#7fac89" stroke-width="0.45"/>
<polygon points="116.9,246.54 128.2,244.86 133.7,248.36 122.4,250.04" fill="#7fac89" stroke="#7fac89" stroke-width="0.45"/>
<polygon points="122.4,250.04 133.7,248.36 139.2,251.86 127.9,253.54" fill="#75a680" stroke="#75a680" stroke-width="0.45"/>
<polygon points="128.2,244.86 139.5,243.18 145,246.68 133.7,248.36" fill="#85b08e" stroke="#85b08e" stroke-width="0.45"/>
<polygon points="133.7,248.36 145,246.68 150.5,250.18 139.2,251.86" fill="#85b08f" stroke="#85b08f" stroke-width="0.45"/>
<polygon points="139.5,243.18 150.8,241.5 156.3,245 145,246.68" fill="#85b08f" stroke="#85b08f" stroke-width="0.45"/>
<polygon points="145,246.68 156.3,245 161.8,248.5 150.5,250.18" fill="#82ae8b" stroke="#82ae8b" stroke-width="0.45"/>
<polygon points="48.8,265.3 60.1,263.62 65.6,267.12 54.3,268.8" fill="#75a580" stroke="#75a580" stroke-width="0.45"/>
<polygon points="54.3,268.8 65.6,267.12 71.1,270.62 59.8,272.3" fill="#6da179" stroke="#6da179" stroke-width="0.45"/>
<polygon points="60.1,263.62 71.4,261.94 76.9,265.44 65.6,267.12" fill="#7eab88" stroke="#7eab88" stroke-width="0.45"/>
<polygon points="65.6,267.12 76.9,265.44 82.4,268.94 71.1,270.62" fill="#6ea179" stroke="#6ea179" stroke-width="0.45"/>
<polygon points="71.4,261.94 82.7,260.26 88.2,263.76 76.9,265.44" fill="#73a47e" stroke="#73a47e" stroke-width="0.45"/>
<polygon points="76.9,265.44 88.2,263.76 93.7,267.26 82.4,268.94" fill="#6b9f77" stroke="#6b9f77" stroke-width="0.45"/>
<polygon points="82.7,260.26 94,258.58 99.5,262.08 88.2,263.76" fill="#6da079" stroke="#6da079" stroke-width="0.45"/>
<polygon points="88.2,263.76 99.5,262.08 105,265.58 93.7,267.26" fill="#7caa86" stroke="#7caa86" stroke-width="0.45"/>
<polygon points="94,258.58 105.3,256.9 110.8,260.4 99.5,262.08" fill="#71a37c" stroke="#71a37c" stroke-width="0.45"/>
<polygon points="99.5,262.08 110.8,260.4 116.3,263.9 105,265.58" fill="#7dab87" stroke="#7dab87" stroke-width="0.45"/>
<polygon points="105.3,256.9 116.6,255.22 122.1,258.72 110.8,260.4" fill="#80ac8a" stroke="#80ac8a" stroke-width="0.45"/>
<polygon points="110.8,260.4 122.1,258.72 127.6,262.22 116.3,263.9" fill="#77a781" stroke="#77a781" stroke-width="0.45"/>
<polygon points="116.6,255.22 127.9,253.54 133.4,257.04 122.1,258.72" fill="#72a37d" stroke="#72a37d" stroke-width="0.45"/>
<polygon points="122.1,258.72 133.4,257.04 138.9,260.54 127.6,262.22" fill="#76a681" stroke="#76a681" stroke-width="0.45"/>
<polygon points="127.9,253.54 139.2,251.86 144.7,255.36 133.4,257.04" fill="#7fac89" stroke="#7fac89" stroke-width="0.45"/>
<polygon points="133.4,257.04 144.7,255.36 150.2,258.86 138.9,260.54" fill="#70a27b" stroke="#70a27b" stroke-width="0.45"/>
<polygon points="139.2,251.86 150.5,250.18 156,253.68 144.7,255.36" fill="#72a47d" stroke="#72a47d" stroke-width="0.45"/>
<polygon points="144.7,255.36 156,253.68 161.5,257.18 150.2,258.86" fill="#81ad8b" stroke="#81ad8b" stroke-width="0.45"/>
<polygon points="150.5,250.18 161.8,248.5 167.3,252 156,253.68" fill="#7caa86" stroke="#7caa86" stroke-width="0.45"/>
<polygon points="156,253.68 167.3,252 172.8,255.5 161.5,257.18" fill="#78a783" stroke="#78a783" stroke-width="0.45"/>
<polygon points="59.8,272.3 71.1,270.62 76.6,274.12 65.3,275.8" fill="#6b9f77" stroke="#6b9f77" stroke-width="0.45"/>
<polygon points="65.3,275.8 76.6,274.12 82.1,277.62 70.8,279.3" fill="#7dab87" stroke="#7dab87" stroke-width="0.45"/>
<polygon points="71.1,270.62 82.4,268.94 87.9,272.44 76.6,274.12" fill="#73a47e" stroke="#73a47e" stroke-width="0.45"/>
<polygon points="76.6,274.12 87.9,272.44 93.4,275.94 82.1,277.62" fill="#6a9e76" stroke="#6a9e76" stroke-width="0.45"/>
<polygon points="82.4,268.94 93.7,267.26 99.2,270.76 87.9,272.44" fill="#6fa17a" stroke="#6fa17a" stroke-width="0.45"/>
<polygon points="87.9,272.44 99.2,270.76 104.7,274.26 93.4,275.94" fill="#6ca078" stroke="#6ca078" stroke-width="0.45"/>
<polygon points="93.7,267.26 105,265.58 110.5,269.08 99.2,270.76" fill="#6b9f76" stroke="#6b9f76" stroke-width="0.45"/>
<polygon points="99.2,270.76 110.5,269.08 116,272.58 104.7,274.26" fill="#71a37c" stroke="#71a37c" stroke-width="0.45"/>
<polygon points="105,265.58 116.3,263.9 121.8,267.4 110.5,269.08" fill="#73a47e" stroke="#73a47e" stroke-width="0.45"/>
<polygon points="110.5,269.08 121.8,267.4 127.3,270.9 116,272.58" fill="#6c9f77" stroke="#6c9f77" stroke-width="0.45"/>
<polygon points="116.3,263.9 127.6,262.22 133.1,265.72 121.8,267.4" fill="#6da079" stroke="#6da079" stroke-width="0.45"/>
<polygon points="121.8,267.4 133.1,265.72 138.6,269.22 127.3,270.9" fill="#71a37d" stroke="#71a37d" stroke-width="0.45"/>
<polygon points="127.6,262.22 138.9,260.54 144.4,264.04 133.1,265.72" fill="#699e75" stroke="#699e75" stroke-width="0.45"/>
<polygon points="133.1,265.72 144.4,264.04 149.9,267.54 138.6,269.22" fill="#74a57f" stroke="#74a57f" stroke-width="0.45"/>
<polygon points="138.9,260.54 150.2,258.86 155.7,262.36 144.4,264.04" fill="#71a37d" stroke="#71a37d" stroke-width="0.45"/>
<polygon points="144.4,264.04 155.7,262.36 161.2,265.86 149.9,267.54" fill="#6b9f77" stroke="#6b9f77" stroke-width="0.45"/>
<polygon points="150.2,258.86 161.5,257.18 167,260.68 155.7,262.36" fill="#71a37c" stroke="#71a37c" stroke-width="0.45"/>
<polygon points="155.7,262.36 167,260.68 172.5,264.18 161.2,265.86" fill="#6fa27a" stroke="#6fa27a" stroke-width="0.45"/>
<polygon points="161.5,257.18 172.8,255.5 178.3,259 167,260.68" fill="#74a57f" stroke="#74a57f" stroke-width="0.45"/>
<polygon points="167,260.68 178.3,259 183.8,262.5 172.5,264.18" fill="#7dab87" stroke="#7dab87" stroke-width="0.45"/>
<polygon points="70.8,279.3 82.1,277.62 87.6,281.12 76.3,282.8" fill="#699e75" stroke="#699e75" stroke-width="0.45"/>
<polygon points="76.3,282.8 87.6,281.12 93.1,284.62 81.8,286.3" fill="#689d74" stroke="#689d74" stroke-width="0.45"/>
<polygon points="82.1,277.62 93.4,275.94 98.9,279.44 87.6,281.12" fill="#6ca078" stroke="#6ca078" stroke-width="0.45"/>
<polygon points="87.6,281.12 98.9,279.44 104.4,282.94 93.1,284.62" fill="#6b9f77" stroke="#6b9f77" stroke-width="0.45"/>
<polygon points="93.4,275.94 104.7,274.26 110.2,277.76 98.9,279.44" fill="#649a70" stroke="#649a70" stroke-width="0.45"/>
<polygon points="98.9,279.44 110.2,277.76 115.7,281.26 104.4,282.94" fill="#649b70" stroke="#649b70" stroke-width="0.45"/>
<polygon points="104.7,274.26 116,272.58 121.5,276.08 110.2,277.76" fill="#62996e" stroke="#62996e" stroke-width="0.45"/>
<polygon points="110.2,277.76 121.5,276.08 127,279.58 115.7,281.26" fill="#6da078" stroke="#6da078" stroke-width="0.45"/>
<polygon points="116,272.58 127.3,270.9 132.8,274.4 121.5,276.08" fill="#5c9569" stroke="#5c9569" stroke-width="0.45"/>
<polygon points="121.5,276.08 132.8,274.4 138.3,277.9 127,279.58" fill="#5a9467" stroke="#5a9467" stroke-width="0.45"/>
<polygon points="127.3,270.9 138.6,269.22 144.1,272.72 132.8,274.4" fill="#699e75" stroke="#699e75" stroke-width="0.45"/>
<polygon points="132.8,274.4 144.1,272.72 149.6,276.22 138.3,277.9" fill="#5a9467" stroke="#5a9467" stroke-width="0.45"/>
<polygon points="138.6,269.22 149.9,267.54 155.4,271.04 144.1,272.72" fill="#61986d" stroke="#61986d" stroke-width="0.45"/>
<polygon points="144.1,272.72 155.4,271.04 160.9,274.54 149.6,276.22" fill="#6fa17a" stroke="#6fa17a" stroke-width="0.45"/>
<polygon points="149.9,267.54 161.2,265.86 166.7,269.36 155.4,271.04" fill="#70a37c" stroke="#70a37c" stroke-width="0.45"/>
<polygon points="155.4,271.04 166.7,269.36 172.2,272.86 160.9,274.54" fill="#639a70" stroke="#639a70" stroke-width="0.45"/>
<polygon points="161.2,265.86 172.5,264.18 178,267.68 166.7,269.36" fill="#79a884" stroke="#79a884" stroke-width="0.45"/>
<polygon points="166.7,269.36 178,267.68 183.5,271.18 172.2,272.86" fill="#77a782" stroke="#77a782" stroke-width="0.45"/>
<polygon points="172.5,264.18 183.8,262.5 189.3,266 178,267.68" fill="#70a27b" stroke="#70a27b" stroke-width="0.45"/>
<polygon points="178,267.68 189.3,266 194.8,269.5 183.5,271.18" fill="#6fa27b" stroke="#6fa27b" stroke-width="0.45"/>
<polygon points="81.8,286.3 93.1,284.62 98.6,288.12 87.3,289.8" fill="#6b9f77" stroke="#6b9f77" stroke-width="0.45"/>
<polygon points="87.3,289.8 98.6,288.12 104.1,291.62 92.8,293.3" fill="#70a27b" stroke="#70a27b" stroke-width="0.45"/>
<polygon points="93.1,284.62 104.4,282.94 109.9,286.44 98.6,288.12" fill="#75a580" stroke="#75a580" stroke-width="0.45"/>
<polygon points="98.6,288.12 109.9,286.44 115.4,289.94 104.1,291.62" fill="#7caa87" stroke="#7caa87" stroke-width="0.45"/>
<polygon points="104.4,282.94 115.7,281.26 121.2,284.76 109.9,286.44" fill="#6da179" stroke="#6da179" stroke-width="0.45"/>
<polygon points="109.9,286.44 121.2,284.76 126.7,288.26 115.4,289.94" fill="#6b9f77" stroke="#6b9f77" stroke-width="0.45"/>
<polygon points="115.7,281.26 127,279.58 132.5,283.08 121.2,284.76" fill="#639a70" stroke="#639a70" stroke-width="0.45"/>
<polygon points="121.2,284.76 132.5,283.08 138,286.58 126.7,288.26" fill="#5e976b" stroke="#5e976b" stroke-width="0.45"/>
<polygon points="127,279.58 138.3,277.9 143.8,281.4 132.5,283.08" fill="#6b9f77" stroke="#6b9f77" stroke-width="0.45"/>
<polygon points="132.5,283.08 143.8,281.4 149.3,284.9 138,286.58" fill="#679c73" stroke="#679c73" stroke-width="0.45"/>
<polygon points="138.3,277.9 149.6,276.22 155.1,279.72 143.8,281.4" fill="#5a9467" stroke="#5a9467" stroke-width="0.45"/>
<polygon points="143.8,281.4 155.1,279.72 160.6,283.22 149.3,284.9" fill="#669c72" stroke="#669c72" stroke-width="0.45"/>
<polygon points="149.6,276.22 160.9,274.54 166.4,278.04 155.1,279.72" fill="#659b72" stroke="#659b72" stroke-width="0.45"/>
<polygon points="155.1,279.72 166.4,278.04 171.9,281.54 160.6,283.22" fill="#689d74" stroke="#689d74" stroke-width="0.45"/>
<polygon points="160.9,274.54 172.2,272.86 177.7,276.36 166.4,278.04" fill="#679c73" stroke="#679c73" stroke-width="0.45"/>
<polygon points="166.4,278.04 177.7,276.36 183.2,279.86 171.9,281.54" fill="#6b9f77" stroke="#6b9f77" stroke-width="0.45"/>
<polygon points="172.2,272.86 183.5,271.18 189,274.68 177.7,276.36" fill="#73a47e" stroke="#73a47e" stroke-width="0.45"/>
<polygon points="177.7,276.36 189,274.68 194.5,278.18 183.2,279.86" fill="#70a27b" stroke="#70a27b" stroke-width="0.45"/>
<polygon points="183.5,271.18 194.8,269.5 200.3,273 189,274.68" fill="#7caa86" stroke="#7caa86" stroke-width="0.45"/>
<polygon points="189,274.68 200.3,273 205.8,276.5 194.5,278.18" fill="#6ea179" stroke="#6ea179" stroke-width="0.45"/>
<line x1="48.8" y1="265.3" x2="161.8" y2="248.5" stroke="#5a5a5a" stroke-width="0.5"/>
<line x1="59.8" y1="272.3" x2="172.8" y2="255.5" stroke="#5a5a5a" stroke-width="0.5"/>
<line x1="70.8" y1="279.3" x2="183.8" y2="262.5" stroke="#5a5a5a" stroke-width="0.5"/>
<line x1="81.8" y1="286.3" x2="194.8" y2="269.5" stroke="#5a5a5a" stroke-width="0.5"/>
<line x1="60.4" y1="254.94" x2="115.4" y2="289.94" stroke="#2e2e2e" stroke-width="0.6"/>
<line x1="83" y1="251.58" x2="138" y2="286.58" stroke="#2e2e2e" stroke-width="0.6"/>
<line x1="105.6" y1="248.22" x2="160.6" y2="283.22" stroke="#2e2e2e" stroke-width="0.6"/>
<line x1="128.2" y1="244.86" x2="183.2" y2="279.86" stroke="#2e2e2e" stroke-width="0.6"/>
<polygon points="37.8,258.3 150.8,241.5 205.8,276.5 92.8,293.3" fill="none" stroke="#333" stroke-width="0.75" stroke-linejoin="round"/>
<line x1="36.8" y1="365" x2="97.5" y2="403.2" stroke="#333" stroke-width="0.9" stroke-dasharray="2,1.6"/>
<polygon points="95.2,405.6 99.6,405.9 97.8,401.6" fill="#333"/>
<line x1="98.5" y1="401.5" x2="211" y2="384.2" stroke="#333" stroke-width="0.9" stroke-dasharray="2,1.6"/>
<polyline points="209,381.8 213.9,383.7 209.8,386.8" fill="none" stroke="#333" stroke-width="0.9"/>
<text x="0" y="0" font-size="9.5" fill="#f5151a" text-anchor="middle" transform="translate(29.8,304.4) rotate(-90)">Signal-to-noise ratio (N)</text>
<text x="0" y="0" font-size="9.2" fill="#1f78d1" text-anchor="middle" transform="translate(57.3,395.2) rotate(33.5)">Intensity ratio (I)</text>
<text x="0" y="0" font-size="9.2" fill="#7e3fb8" text-anchor="middle" transform="translate(156.3,404.3) rotate(-8.5)">Peak resolution (R)</text>
<defs><linearGradient id="gb" x1="0" y1="1" x2="0" y2="0"><stop offset="0" stop-color="#ffffff"/><stop offset="1" stop-color="#5a9467"/></linearGradient></defs>
<rect x="224.4" y="253.9" width="6.2" height="120.3" fill="url(#gb)" stroke="#222" stroke-width="0.8"/>
<line x1="224.4" y1="283.9" x2="225.8" y2="283.9" stroke="#333" stroke-width="0.6"/>
<line x1="229.2" y1="283.9" x2="230.6" y2="283.9" stroke="#333" stroke-width="0.6"/>
<line x1="224.4" y1="314.3" x2="225.8" y2="314.3" stroke="#333" stroke-width="0.6"/>
<line x1="229.2" y1="314.3" x2="230.6" y2="314.3" stroke="#333" stroke-width="0.6"/>
<line x1="224.4" y1="344.1" x2="225.8" y2="344.1" stroke="#333" stroke-width="0.6"/>
<line x1="229.2" y1="344.1" x2="230.6" y2="344.1" stroke="#333" stroke-width="0.6"/>
<text x="233.7" y="257.4" font-size="9.2" fill="#111" text-anchor="start">High</text>
<text x="233.7" y="316.8" font-size="9.2" fill="#111" text-anchor="start">Moderate</text>
<text x="233.7" y="376.2" font-size="9.2" fill="#111" text-anchor="start">Low</text>
<text x="298.6" y="206.6" font-size="16" fill="#000" text-anchor="start" font-weight="bold">c</text>
<line x1="326.8" y1="192.7" x2="326.8" y2="242.9" stroke="#b8b8b8" stroke-width="0.7" stroke-dasharray="1.6,1.2"/>
<line x1="403.8" y1="192.7" x2="403.8" y2="242.9" stroke="#b8b8b8" stroke-width="0.7" stroke-dasharray="1.6,1.2"/>
<polyline points="327.8,239.6 328.42,239.6 329.03,239.6 329.65,239.6 330.27,239.6 330.88,239.6 331.5,239.6 332.12,239.6 332.73,239.6 333.35,239.6 333.97,239.6 334.58,239.6 335.2,239.59 335.82,239.59 336.43,239.58 337.05,239.56 337.67,239.54 338.28,239.51 338.9,239.46 339.52,239.38 340.13,239.27 340.75,239.11 341.37,238.88 341.98,238.57 342.6,238.15 343.22,237.58 343.83,236.84 344.45,235.89 345.07,234.7 345.68,233.23 346.3,231.44 346.92,229.34 347.53,226.89 348.15,224.13 348.77,221.07 349.38,217.77 350,214.3 350.62,210.76 351.23,207.26 351.85,203.93 352.47,200.91 353.08,198.31 353.7,196.26 354.32,194.86 354.93,194.16 355.55,194.2 356.17,194.98 356.78,196.46 357.4,198.55 358.02,201.16 358.63,204.16 359.25,207.41 359.87,210.77 360.48,214.09 361.1,217.24 361.72,220.11 362.33,222.59 362.95,224.6 363.57,226.08 364.18,226.98 364.8,227.28 365.42,226.98 366.03,226.08 366.65,224.6 367.27,222.59 367.88,220.11 368.5,217.24 369.12,214.09 369.73,210.77 370.35,207.41 370.97,204.16 371.58,201.16 372.2,198.55 372.82,196.46 373.43,194.98 374.05,194.2 374.67,194.16 375.28,194.86 375.9,196.26 376.52,198.31 377.13,200.91 377.75,203.93 378.37,207.26 378.98,210.76 379.6,214.3 380.22,217.77 380.83,221.07 381.45,224.13 382.07,226.89 382.68,229.34 383.3,231.44 383.92,233.23 384.53,234.7 385.15,235.89 385.77,236.84 386.38,237.58 387,238.15 387.62,238.57 388.23,238.88 388.85,239.11 389.47,239.27 390.08,239.38 390.7,239.46 391.32,239.51 391.93,239.54 392.55,239.56 393.17,239.58 393.78,239.59 394.4,239.59 395.02,239.6 395.63,239.6 396.25,239.6 396.87,239.6 397.48,239.6 398.1,239.6 398.72,239.6 399.33,239.6 399.95,239.6 400.57,239.6 401.18,239.6 401.8,239.6" fill="none" stroke="#262626" stroke-width="0.7" stroke-linejoin="round"/>
<line x1="322.8" y1="240.2" x2="406.8" y2="240.2" stroke="#444" stroke-width="1"/>
<text x="363.8" y="256.6" font-size="9.2" fill="#111" text-anchor="middle"><tspan fill="#7e3fb8">R</tspan> = 1.0,&#160;&#160;<tspan fill="#2f6fd0">I</tspan> = 1, <tspan fill="#e8202a">1/N</tspan> = 0</text>
<line x1="438.2" y1="192.7" x2="438.2" y2="242.9" stroke="#b8b8b8" stroke-width="0.7" stroke-dasharray="1.6,1.2"/>
<line x1="515.2" y1="192.7" x2="515.2" y2="242.9" stroke="#b8b8b8" stroke-width="0.7" stroke-dasharray="1.6,1.2"/>
<polyline points="439.2,239.6 439.82,235.94 440.43,239.6 441.05,239.6 441.67,238.02 442.28,238.56 442.9,238.27 443.52,237.89 444.13,239.6 444.75,239.6 445.37,238.98 445.98,238.5 446.6,237.34 447.22,239.22 447.83,239.6 448.45,239.6 449.07,239.6 449.68,239.6 450.3,239.6 450.92,239.6 451.53,239.6 452.15,239.6 452.77,239.16 453.38,238.08 454,237.69 454.62,236.85 455.23,235.82 455.85,236.34 456.47,233.98 457.08,235.95 457.7,233.2 458.32,232.57 458.93,228.09 459.55,228.23 460.17,224.49 460.78,220.29 461.4,214.8 462.02,214.66 462.63,211.13 463.25,204.45 463.87,204.93 464.48,199.76 465.1,199.9 465.72,198.17 466.33,200.93 466.95,196.55 467.57,199.38 468.18,201.36 468.8,197.74 469.42,202.71 470.03,200.73 470.65,209.71 471.27,214.66 471.88,217.3 472.5,217.65 473.12,223.13 473.73,224.07 474.35,225.19 474.97,228.45 475.58,226.79 476.2,227.92 476.82,229.05 477.43,224.47 478.05,223.57 478.67,222.88 479.28,222.42 479.9,221.84 480.52,214.61 481.13,212.68 481.75,212.61 482.37,206.93 482.98,206.96 483.6,202.08 484.22,199.72 484.83,197.76 485.45,197.11 486.07,197.04 486.68,199.81 487.3,199.6 487.92,201.77 488.53,203.69 489.15,205.74 489.77,208.29 490.38,209.82 491,220.65 491.62,218.36 492.23,222.45 492.85,220.54 493.47,225.32 494.08,232.02 494.7,230.18 495.32,233.63 495.93,232.43 496.55,237.53 497.17,236.9 497.78,238 498.4,238.6 499.02,239.6 499.63,239.6 500.25,237.81 500.87,236.72 501.48,238.38 502.1,239.6 502.72,237.99 503.33,237.62 503.95,239.45 504.57,239.6 505.18,237.59 505.8,239.6 506.42,239.6 507.03,239.6 507.65,239.6 508.27,239.6 508.88,239.6 509.5,239.6 510.12,237.46 510.73,239.6 511.35,239.6 511.97,237.43 512.58,239.6 513.2,239.6" fill="none" stroke="#262626" stroke-width="0.7" stroke-linejoin="round"/>
<line x1="434.2" y1="240.2" x2="518.2" y2="240.2" stroke="#444" stroke-width="1"/>
<text x="475.2" y="256.6" font-size="9.2" fill="#111" text-anchor="middle"><tspan fill="#7e3fb8">R</tspan> = 1.0, <tspan fill="#2f6fd0">I</tspan> = 1, <tspan fill="#e8202a">1/N</tspan> = 6%</text>
<line x1="550" y1="192.7" x2="550" y2="242.9" stroke="#b8b8b8" stroke-width="0.7" stroke-dasharray="1.6,1.2"/>
<line x1="627" y1="192.7" x2="627" y2="242.9" stroke="#b8b8b8" stroke-width="0.7" stroke-dasharray="1.6,1.2"/>
<polyline points="551,239.6 551.62,239.6 552.23,239.6 552.85,239.6 553.47,234.51 554.08,237.73 554.7,239.6 555.32,239.6 555.93,239.6 556.55,239.6 557.17,237.47 557.78,239.6 558.4,239.6 559.02,239.6 559.63,239.58 560.25,235.59 560.87,237.38 561.48,239.6 562.1,239.6 562.72,239.6 563.33,238.89 563.95,239.6 564.57,238.48 565.18,239.6 565.8,239.6 566.42,238.59 567.03,238.73 567.65,237.17 568.27,239.6 568.88,235.91 569.5,236.24 570.12,233.73 570.73,227.52 571.35,223.83 571.97,223.93 572.58,222.87 573.2,221.47 573.82,212.23 574.43,203.61 575.05,204 575.67,207.77 576.28,201.19 576.9,195.6 577.52,192.73 578.13,192.73 578.75,194.87 579.37,196.6 579.98,201.66 580.6,201.51 581.22,203 581.83,206.28 582.45,206.16 583.07,209.98 583.68,210.73 584.3,210.72 584.92,216.03 585.53,220.24 586.15,225.21 586.77,231.41 587.38,228.99 588,228.06 588.62,232.71 589.23,225.25 589.85,228.39 590.47,224.01 591.08,223.3 591.7,222.61 592.32,208.77 592.93,214.84 593.55,204.82 594.17,205.86 594.78,200.31 595.4,200.73 596.02,197.54 596.63,192.73 597.25,192.73 597.87,195.75 598.48,193.39 599.1,192.73 599.72,198.16 600.33,197.15 600.95,205.07 601.57,205.25 602.18,210.38 602.8,212.44 603.42,219.41 604.03,227.74 604.65,225.38 605.27,233.19 605.88,229.61 606.5,229.11 607.12,233.42 607.73,238.29 608.35,234.17 608.97,238.47 609.58,239.6 610.2,239.6 610.82,236.66 611.43,239.6 612.05,239.6 612.67,239.6 613.28,239.6 613.9,239.6 614.52,239.6 615.13,239.6 615.75,239.6 616.37,239.6 616.98,235.38 617.6,236.18 618.22,234.72 618.83,233.6 619.45,238.59 620.07,239.26 620.68,237.12 621.3,233.85 621.92,239.6 622.53,239.6 623.15,239.6 623.77,239.6 624.38,239.36 625,239.6" fill="none" stroke="#262626" stroke-width="0.7" stroke-linejoin="round"/>
<line x1="546" y1="240.2" x2="630" y2="240.2" stroke="#444" stroke-width="1"/>
<text x="587" y="256.6" font-size="9.2" fill="#111" text-anchor="middle"><tspan fill="#7e3fb8">R</tspan> = 1.0, <tspan fill="#2f6fd0">I</tspan> = 1, <tspan fill="#e8202a">1/N</tspan> = 10%</text>
<line x1="326.8" y1="269.7" x2="326.8" y2="319.9" stroke="#b8b8b8" stroke-width="0.7" stroke-dasharray="1.6,1.2"/>
<line x1="403.8" y1="269.7" x2="403.8" y2="319.9" stroke="#b8b8b8" stroke-width="0.7" stroke-dasharray="1.6,1.2"/>
<polyline points="327.8,316.6 328.42,316.6 329.03,316.6 329.65,316.6 330.27,316.59 330.88,316.59 331.5,316.58 332.12,316.57 332.73,316.55 333.35,316.52 333.97,316.47 334.58,316.4 335.2,316.3 335.82,316.15 336.43,315.94 337.05,315.65 337.67,315.25 338.28,314.72 338.9,314.02 339.52,313.12 340.13,311.98 340.75,310.57 341.37,308.86 341.98,306.82 342.6,304.45 343.22,301.75 343.83,298.75 344.45,295.5 345.07,292.06 345.68,288.52 346.3,285.01 346.92,281.63 347.53,278.53 348.15,275.83 348.77,273.66 349.38,272.11 350,271.26 350.62,271.15 351.23,271.78 351.85,273.13 352.47,275.13 353.08,277.68 353.7,280.68 354.32,283.98 354.93,287.47 355.55,291.01 356.17,294.49 356.78,297.81 357.4,300.89 358.02,303.68 358.63,306.15 359.25,308.28 359.87,310.08 360.48,311.57 361.1,312.77 361.72,313.72 362.33,314.44 362.95,314.96 363.57,315.32 364.18,315.52 364.8,315.59 365.42,315.52 366.03,315.32 366.65,314.96 367.27,314.44 367.88,313.72 368.5,312.77 369.12,311.57 369.73,310.08 370.35,308.28 370.97,306.15 371.58,303.68 372.2,300.89 372.82,297.81 373.43,294.49 374.05,291.01 374.67,287.47 375.28,283.98 375.9,280.68 376.52,277.68 377.13,275.13 377.75,273.13 378.37,271.78 378.98,271.15 379.6,271.26 380.22,272.11 380.83,273.66 381.45,275.83 382.07,278.53 382.68,281.63 383.3,285.01 383.92,288.52 384.53,292.06 385.15,295.5 385.77,298.75 386.38,301.75 387,304.45 387.62,306.82 388.23,308.86 388.85,310.57 389.47,311.98 390.08,313.12 390.7,314.02 391.32,314.72 391.93,315.25 392.55,315.65 393.17,315.94 393.78,316.15 394.4,316.3 395.02,316.4 395.63,316.47 396.25,316.52 396.87,316.55 397.48,316.57 398.1,316.58 398.72,316.59 399.33,316.59 399.95,316.6 400.57,316.6 401.18,316.6 401.8,316.6" fill="none" stroke="#262626" stroke-width="0.7" stroke-linejoin="round"/>
<line x1="322.8" y1="317.2" x2="406.8" y2="317.2" stroke="#444" stroke-width="1"/>
<text x="363.8" y="332" font-size="9.2" fill="#111" text-anchor="middle"><tspan fill="#7e3fb8">R</tspan> = 1.5, <tspan fill="#2f6fd0">I</tspan> = 1, <tspan fill="#e8202a">1/N</tspan> = 0</text>
<line x1="438.2" y1="269.7" x2="438.2" y2="319.9" stroke="#b8b8b8" stroke-width="0.7" stroke-dasharray="1.6,1.2"/>
<line x1="515.2" y1="269.7" x2="515.2" y2="319.9" stroke="#b8b8b8" stroke-width="0.7" stroke-dasharray="1.6,1.2"/>
<polyline points="439.2,316.6 439.82,316.6 440.43,316.6 441.05,316.6 441.67,316.59 442.28,316.59 442.9,316.58 443.52,316.57 444.13,316.55 444.75,316.52 445.37,316.47 445.98,316.4 446.6,316.3 447.22,316.15 447.83,315.94 448.45,315.65 449.07,315.25 449.68,314.72 450.3,314.02 450.92,313.12 451.53,311.98 452.15,310.57 452.77,308.86 453.38,306.82 454,304.45 454.62,301.75 455.23,298.75 455.85,295.5 456.47,292.06 457.08,288.52 457.7,285.01 458.32,281.63 458.93,278.53 459.55,275.83 460.17,273.66 460.78,272.11 461.4,271.26 462.02,271.15 462.63,271.78 463.25,273.13 463.87,275.13 464.48,277.68 465.1,280.68 465.72,283.98 466.33,287.47 466.95,291.01 467.57,294.49 468.18,297.81 468.8,300.89 469.42,303.68 470.03,306.15 470.65,308.28 471.27,310.09 471.88,311.58 472.5,312.79 473.12,313.76 473.73,314.5 474.35,315.06 474.97,315.47 475.58,315.75 476.2,315.93 476.82,316.01 477.43,316.02 478.05,315.96 478.67,315.82 479.28,315.6 479.9,315.3 480.52,314.91 481.13,314.42 481.75,313.82 482.37,313.11 482.98,312.29 483.6,311.36 484.22,310.34 484.83,309.23 485.45,308.07 486.07,306.89 486.68,305.73 487.3,304.63 487.92,303.63 488.53,302.78 489.15,302.11 489.77,301.66 490.38,301.45 491,301.49 491.62,301.77 492.23,302.29 492.85,303.01 493.47,303.91 494.08,304.94 494.7,306.07 495.32,307.24 495.93,308.42 496.55,309.57 497.17,310.65 497.78,311.65 498.4,312.55 499.02,313.34 499.63,314.02 500.25,314.59 500.87,315.06 501.48,315.44 502.1,315.74 502.72,315.97 503.33,316.15 503.95,316.28 504.57,316.38 505.18,316.45 505.8,316.5 506.42,316.53 507.03,316.56 507.65,316.57 508.27,316.58 508.88,316.59 509.5,316.59 510.12,316.6 510.73,316.6 511.35,316.6 511.97,316.6 512.58,316.6 513.2,316.6" fill="none" stroke="#262626" stroke-width="0.7" stroke-linejoin="round"/>
<line x1="434.2" y1="317.2" x2="518.2" y2="317.2" stroke="#444" stroke-width="1"/>
<text x="475.2" y="332" font-size="9.2" fill="#111" text-anchor="middle"><tspan fill="#7e3fb8">R</tspan> = 1.5, <tspan fill="#2f6fd0">I</tspan> = 3, <tspan fill="#e8202a">1/N</tspan> = 0</text>
<line x1="550" y1="269.7" x2="550" y2="319.9" stroke="#b8b8b8" stroke-width="0.7" stroke-dasharray="1.6,1.2"/>
<line x1="627" y1="269.7" x2="627" y2="319.9" stroke="#b8b8b8" stroke-width="0.7" stroke-dasharray="1.6,1.2"/>
<polyline points="551,316.6 551.62,316.6 552.23,316.6 552.85,316.6 553.47,316.59 554.08,316.59 554.7,316.58 555.32,316.57 555.93,316.55 556.55,316.52 557.17,316.47 557.78,316.4 558.4,316.3 559.02,316.15 559.63,315.94 560.25,315.65 560.87,315.25 561.48,314.72 562.1,314.02 562.72,313.12 563.33,311.98 563.95,310.57 564.57,308.86 565.18,306.82 565.8,304.45 566.42,301.75 567.03,298.75 567.65,295.5 568.27,292.06 568.88,288.52 569.5,285.01 570.12,281.63 570.73,278.53 571.35,275.83 571.97,273.66 572.58,272.11 573.2,271.26 573.82,271.15 574.43,271.78 575.05,273.13 575.67,275.13 576.28,277.68 576.9,280.68 577.52,283.98 578.13,287.47 578.75,291.01 579.37,294.49 579.98,297.81 580.6,300.89 581.22,303.68 581.83,306.15 582.45,308.28 583.07,310.09 583.68,311.59 584.3,312.8 584.92,313.76 585.53,314.51 586.15,315.08 586.77,315.5 587.38,315.79 588,315.99 588.62,316.11 589.23,316.16 589.85,316.15 590.47,316.09 591.08,315.98 591.7,315.8 592.32,315.58 592.93,315.28 593.55,314.93 594.17,314.51 594.78,314.01 595.4,313.46 596.02,312.84 596.63,312.18 597.25,311.48 597.87,310.77 598.48,310.08 599.1,309.42 599.72,308.82 600.33,308.31 600.95,307.91 601.57,307.64 602.18,307.51 602.8,307.53 603.42,307.7 604.03,308.01 604.65,308.45 605.27,308.99 605.88,309.61 606.5,310.28 607.12,310.98 607.73,311.69 608.35,312.38 608.97,313.03 609.58,313.63 610.2,314.17 610.82,314.64 611.43,315.05 612.05,315.39 612.67,315.68 613.28,315.9 613.9,316.08 614.52,316.22 615.13,316.33 615.75,316.41 616.37,316.47 616.98,316.51 617.6,316.54 618.22,316.56 618.83,316.57 619.45,316.58 620.07,316.59 620.68,316.59 621.3,316.6 621.92,316.6 622.53,316.6 623.15,316.6 623.77,316.6 624.38,316.6 625,316.6" fill="none" stroke="#262626" stroke-width="0.7" stroke-linejoin="round"/>
<line x1="546" y1="317.2" x2="630" y2="317.2" stroke="#444" stroke-width="1"/>
<text x="587" y="332" font-size="9.2" fill="#111" text-anchor="middle"><tspan fill="#7e3fb8">R</tspan> = 1.5, <tspan fill="#2f6fd0">I</tspan> = 5, <tspan fill="#e8202a">1/N</tspan> = 0</text>
<line x1="326.8" y1="344.8" x2="326.8" y2="395" stroke="#b8b8b8" stroke-width="0.7" stroke-dasharray="1.6,1.2"/>
<line x1="403.8" y1="344.8" x2="403.8" y2="395" stroke="#b8b8b8" stroke-width="0.7" stroke-dasharray="1.6,1.2"/>
<polyline points="327.8,391.7 328.42,391.7 329.03,391.7 329.65,391.7 330.27,391.7 330.88,391.7 331.5,391.7 332.12,391.7 332.73,391.22 333.35,391.7 333.97,391.46 334.58,391.28 335.2,391.7 335.82,391.56 336.43,391.7 337.05,391.7 337.67,391.7 338.28,391.7 338.9,391.7 339.52,391.7 340.13,391.7 340.75,391.49 341.37,390.9 341.98,391.66 342.6,388.06 343.22,386.49 343.83,387.44 344.45,387.78 345.07,384.38 345.68,388.23 346.3,383.44 346.92,379.76 347.53,375.22 348.15,377.92 348.77,371.4 349.38,367.36 350,365.22 350.62,369.54 351.23,360.35 351.85,358.96 352.47,354.64 353.08,354.35 353.7,353.25 354.32,351.29 354.93,347.58 355.55,348.82 356.17,351.59 356.78,351.76 357.4,352.68 358.02,355.57 358.63,359.39 359.25,363.29 359.87,366.43 360.48,369.03 361.1,372.32 361.72,377.11 362.33,379.59 362.95,378.09 363.57,383.77 364.18,385.79 364.8,384.84 365.42,382.95 366.03,383.52 366.65,386.34 367.27,386.91 367.88,385.3 368.5,385.04 369.12,383.37 369.73,380.81 370.35,382.78 370.97,381.62 371.58,380.08 372.2,379.29 372.82,380.11 373.43,379.71 374.05,379.98 374.67,378.97 375.28,376.63 375.9,378.23 376.52,384.01 377.13,378.28 377.75,380.29 378.37,382.77 378.98,382.92 379.6,389.12 380.22,387.62 380.83,383.62 381.45,383 382.07,383.92 382.68,390.21 383.3,389.68 383.92,388.93 384.53,391.7 385.15,387.75 385.77,391.7 386.38,390.41 387,391.7 387.62,390 388.23,390.65 388.85,388.57 389.47,391.7 390.08,390.71 390.7,387.67 391.32,391.7 391.93,391.44 392.55,391.7 393.17,391.7 393.78,391.7 394.4,391.05 395.02,391.46 395.63,391.7 396.25,391.7 396.87,391.7 397.48,391.7 398.1,388.67 398.72,389.92 399.33,391.7 399.95,391.7 400.57,391.7 401.18,391.7 401.8,391.7" fill="none" stroke="#262626" stroke-width="0.7" stroke-linejoin="round"/>
<line x1="322.8" y1="392.3" x2="406.8" y2="392.3" stroke="#444" stroke-width="1"/>
<text x="363.8" y="409" font-size="9.2" fill="#111" text-anchor="middle"><tspan fill="#7e3fb8">R</tspan> = 1, <tspan fill="#2f6fd0">I</tspan> = 3, <tspan fill="#e8202a">1/N</tspan> = 6%</text>
<line x1="438.2" y1="344.8" x2="438.2" y2="395" stroke="#b8b8b8" stroke-width="0.7" stroke-dasharray="1.6,1.2"/>
<line x1="515.2" y1="344.8" x2="515.2" y2="395" stroke="#b8b8b8" stroke-width="0.7" stroke-dasharray="1.6,1.2"/>
<polyline points="439.2,389.15 439.82,390.52 440.43,391.4 441.05,389.43 441.67,388.79 442.28,391.7 442.9,391.7 443.52,391.7 444.13,388.6 444.75,391.7 445.37,391.7 445.98,389 446.6,388.27 447.22,385.41 447.83,388.11 448.45,384.48 449.07,389.28 449.68,386.02 450.3,387.13 450.92,389.28 451.53,387.05 452.15,383.31 452.77,382.63 453.38,383.9 454,379.32 454.62,377.55 455.23,374.93 455.85,372.92 456.47,369.38 457.08,367.81 457.7,362.84 458.32,358.91 458.93,357.1 459.55,353.37 460.17,350.21 460.78,348.57 461.4,346.22 462.02,349.88 462.63,349.35 463.25,349.49 463.87,352.75 464.48,353.91 465.1,358.17 465.72,358.21 466.33,364.28 466.95,369.56 467.57,369.8 468.18,371.63 468.8,381.42 469.42,380.94 470.03,382.96 470.65,382.83 471.27,383.18 471.88,386.72 472.5,389.8 473.12,386.13 473.73,385.9 474.35,387.27 474.97,388.57 475.58,390.88 476.2,385.75 476.82,391.7 477.43,391.7 478.05,389.97 478.67,391.68 479.28,390.97 479.9,391.52 480.52,388.65 481.13,388.53 481.75,391.45 482.37,387.71 482.98,390.6 483.6,390.34 484.22,383.92 484.83,385.82 485.45,387.8 486.07,382.81 486.68,382.91 487.3,379.98 487.92,380.25 488.53,380.89 489.15,380.17 489.77,376.98 490.38,379.63 491,377.46 491.62,379.22 492.23,376.57 492.85,374.5 493.47,377.33 494.08,377.47 494.7,379.77 495.32,383.62 495.93,383.75 496.55,384.36 497.17,384.87 497.78,387.8 498.4,386.64 499.02,390.07 499.63,389.47 500.25,390.32 500.87,391.7 501.48,389.2 502.1,390.77 502.72,390.65 503.33,390.82 503.95,391.7 504.57,391.7 505.18,391.7 505.8,390.89 506.42,391.7 507.03,391.7 507.65,391.7 508.27,391.7 508.88,391.7 509.5,389.23 510.12,391.7 510.73,389.48 511.35,387.7 511.97,387.6 512.58,387.77 513.2,386.28" fill="none" stroke="#262626" stroke-width="0.7" stroke-linejoin="round"/>
<line x1="434.2" y1="392.3" x2="518.2" y2="392.3" stroke="#444" stroke-width="1"/>
<text x="475.2" y="409" font-size="9.2" fill="#111" text-anchor="middle"><tspan fill="#7e3fb8">R</tspan> = 1.5, <tspan fill="#2f6fd0">I</tspan> = 3, <tspan fill="#e8202a">1/N</tspan> = 6%</text>
<line x1="550" y1="344.8" x2="550" y2="395" stroke="#b8b8b8" stroke-width="0.7" stroke-dasharray="1.6,1.2"/>
<line x1="627" y1="344.8" x2="627" y2="395" stroke="#b8b8b8" stroke-width="0.7" stroke-dasharray="1.6,1.2"/>
<polyline points="551,389.6 551.62,391.7 552.23,391.24 552.85,389.85 553.47,391.7 554.08,385.54 554.7,390.79 555.32,388.87 555.93,389.63 556.55,385.25 557.17,388.45 557.78,387.83 558.4,382.74 559.02,385.27 559.63,385.04 560.25,382.04 560.87,379.76 561.48,379.44 562.1,376.14 562.72,373.4 563.33,368.5 563.95,365.19 564.57,361.78 565.18,360.6 565.8,356.25 566.42,355.82 567.03,351.69 567.65,351.99 568.27,352.81 568.88,349.71 569.5,354.99 570.12,354.88 570.73,356.01 571.35,356.77 571.97,361.14 572.58,363.79 573.2,367.72 573.82,366.93 574.43,371.33 575.05,368.77 575.67,373.93 576.28,379.96 576.9,377.96 577.52,382.26 578.13,382.64 578.75,388.42 579.37,385.78 579.98,386.98 580.6,390.73 581.22,391.7 581.83,391.7 582.45,391.15 583.07,387.38 583.68,388.45 584.3,388.88 584.92,391.68 585.53,391.7 586.15,390.61 586.77,391.7 587.38,391.7 588,391.7 588.62,391.7 589.23,391.7 589.85,391.7 590.47,391.7 591.08,391.7 591.7,391.7 592.32,388.66 592.93,389.51 593.55,386.34 594.17,388.82 594.78,386.42 595.4,391.03 596.02,389.42 596.63,389.14 597.25,390.47 597.87,389.67 598.48,391.04 599.1,389.26 599.72,389.53 600.33,387.54 600.95,387.13 601.57,387.35 602.18,384.95 602.8,382.92 603.42,384.02 604.03,380.29 604.65,376.99 605.27,378.61 605.88,376.26 606.5,375.59 607.12,377.92 607.73,374.36 608.35,372.88 608.97,380.2 609.58,375.79 610.2,382.51 610.82,379.99 611.43,387.23 612.05,383.17 612.67,386.02 613.28,389.25 613.9,389.02 614.52,389.78 615.13,389.92 615.75,387.77 616.37,389.05 616.98,391.7 617.6,389.91 618.22,388.93 618.83,390.04 619.45,387.51 620.07,391.7 620.68,390.46 621.3,391.03 621.92,389.95 622.53,391.7 623.15,391.7 623.77,391.7 624.38,391.67 625,391.7" fill="none" stroke="#262626" stroke-width="0.7" stroke-linejoin="round"/>
<line x1="546" y1="392.3" x2="630" y2="392.3" stroke="#444" stroke-width="1"/>
<text x="587" y="409" font-size="9.2" fill="#111" text-anchor="middle"><tspan fill="#7e3fb8">R</tspan> = 2, <tspan fill="#2f6fd0">I</tspan> = 3, <tspan fill="#e8202a">1/N</tspan> = 6%</text>
<text x="-0.9" y="441" font-size="16" fill="#000" text-anchor="start" font-weight="bold">d</text>
<text x="124.5" y="440.4" font-size="11.6" fill="#111" text-anchor="middle">Double-peak accuracy</text>
<rect x="44.2" y="451.8" width="15.58" height="13.78" fill="#ffffff"/>
<rect x="59.48" y="451.8" width="15.58" height="13.78" fill="#ffffff"/>
<rect x="74.76" y="451.8" width="15.58" height="13.78" fill="#ffffff"/>
<rect x="90.04" y="451.8" width="15.58" height="13.78" fill="#ffffff"/>
<rect x="105.32" y="451.8" width="15.58" height="13.78" fill="#ffffff"/>
<rect x="120.6" y="451.8" width="15.58" height="13.78" fill="#ffffff"/>
<rect x="135.88" y="451.8" width="15.58" height="13.78" fill="#ffffff"/>
<rect x="151.16" y="451.8" width="15.58" height="13.78" fill="#ffffff"/>
<rect x="166.44" y="451.8" width="15.58" height="13.78" fill="#ffffff"/>
<rect x="181.72" y="451.8" width="15.58" height="13.78" fill="#ffffff"/>
<rect x="197" y="451.8" width="15.58" height="13.78" fill="#ffffff"/>
<rect x="44.2" y="465.28" width="15.58" height="13.78" fill="#ffffff"/>
<rect x="59.48" y="465.28" width="15.58" height="13.78" fill="#ffffff"/>
<rect x="74.76" y="465.28" width="15.58" height="13.78" fill="#ffffff"/>
<rect x="90.04" y="465.28" width="15.58" height="13.78" fill="#ffffff"/>
<rect x="105.32" y="465.28" width="15.58" height="13.78" fill="#ffffff"/>
<rect x="120.6" y="465.28" width="15.58" height="13.78" fill="#ffffff"/>
<rect x="135.88" y="465.28" width="15.58" height="13.78" fill="#ffffff"/>
<rect x="151.16" y="465.28" width="15.58" height="13.78" fill="#ffffff"/>
<rect x="166.44" y="465.28" width="15.58" height="13.78" fill="#ffffff"/>
<rect x="181.72" y="465.28" width="15.58" height="13.78" fill="#f6fbf6"/>
<rect x="197" y="465.28" width="15.58" height="13.78" fill="#d3e8d5"/>
<rect x="44.2" y="478.76" width="15.58" height="13.78" fill="#ffffff"/>
<rect x="59.48" y="478.76" width="15.58" height="13.78" fill="#ffffff"/>
<rect x="74.76" y="478.76" width="15.58" height="13.78" fill="#ffffff"/>
<rect x="90.04" y="478.76" width="15.58" height="13.78" fill="#ffffff"/>
<rect x="105.32" y="478.76" width="15.58" height="13.78" fill="#e3f1e4"/>
<rect x="120.6" y="478.76" width="15.58" height="13.78" fill="#a6ccad"/>
<rect x="135.88" y="478.76" width="15.58" height="13.78" fill="#7bb087"/>
<rect x="151.16" y="478.76" width="15.58" height="13.78" fill="#649c71"/>
<rect x="166.44" y="478.76" width="15.58" height="13.78" fill="#579065"/>
<rect x="181.72" y="478.76" width="15.58" height="13.78" fill="#528b60"/>
<rect x="197" y="478.76" width="15.58" height="13.78" fill="#518a5f"/>
<rect x="44.2" y="492.24" width="15.58" height="13.78" fill="#ffffff"/>
<rect x="59.48" y="492.24" width="15.58" height="13.78" fill="#e7f3e8"/>
<rect x="74.76" y="492.24" width="15.58" height="13.78" fill="#9ac5a2"/>
<rect x="90.04" y="492.24" width="15.58" height="13.78" fill="#69a277"/>
<rect x="105.32" y="492.24" width="15.58" height="13.78" fill="#548d63"/>
<rect x="120.6" y="492.24" width="15.58" height="13.78" fill="#498158"/>
<rect x="135.88" y="492.24" width="15.58" height="13.78" fill="#457d54"/>
<rect x="151.16" y="492.24" width="15.58" height="13.78" fill="#447c53"/>
<rect x="166.44" y="492.24" width="15.58" height="13.78" fill="#467f55"/>
<rect x="181.72" y="492.24" width="15.58" height="13.78" fill="#4b8359"/>
<rect x="197" y="492.24" width="15.58" height="13.78" fill="#548c62"/>
<rect x="44.2" y="505.72" width="15.58" height="13.78" fill="#9ac5a2"/>
<rect x="59.48" y="505.72" width="15.58" height="13.78" fill="#639b70"/>
<rect x="74.76" y="505.72" width="15.58" height="13.78" fill="#4b8359"/>
<rect x="90.04" y="505.72" width="15.58" height="13.78" fill="#40784f"/>
<rect x="105.32" y="505.72" width="15.58" height="13.78" fill="#3b714a"/>
<rect x="120.6" y="505.72" width="15.58" height="13.78" fill="#3b714a"/>
<rect x="135.88" y="505.72" width="15.58" height="13.78" fill="#40784f"/>
<rect x="151.16" y="505.72" width="15.58" height="13.78" fill="#447c53"/>
<rect x="166.44" y="505.72" width="15.58" height="13.78" fill="#4d855b"/>
<rect x="181.72" y="505.72" width="15.58" height="13.78" fill="#558e63"/>
<rect x="197" y="505.72" width="15.58" height="13.78" fill="#61996e"/>
<rect x="44.2" y="519.2" width="15.58" height="13.78" fill="#4f885e"/>
<rect x="59.48" y="519.2" width="15.58" height="13.78" fill="#3e754c"/>
<rect x="74.76" y="519.2" width="15.58" height="13.78" fill="#396e47"/>
<rect x="90.04" y="519.2" width="15.58" height="13.78" fill="#396e47"/>
<rect x="105.32" y="519.2" width="15.58" height="13.78" fill="#3c724b"/>
<rect x="120.6" y="519.2" width="15.58" height="13.78" fill="#417950"/>
<rect x="135.88" y="519.2" width="15.58" height="13.78" fill="#478056"/>
<rect x="151.16" y="519.2" width="15.58" height="13.78" fill="#4e875d"/>
<rect x="166.44" y="519.2" width="15.58" height="13.78" fill="#589166"/>
<rect x="181.72" y="519.2" width="15.58" height="13.78" fill="#649d72"/>
<rect x="197" y="519.2" width="15.58" height="13.78" fill="#73aa7f"/>
<rect x="44.2" y="532.68" width="15.58" height="13.78" fill="#396e47"/>
<rect x="59.48" y="532.68" width="15.58" height="13.78" fill="#356a43"/>
<rect x="74.76" y="532.68" width="15.58" height="13.78" fill="#386d46"/>
<rect x="90.04" y="532.68" width="15.58" height="13.78" fill="#3d744b"/>
<rect x="105.32" y="532.68" width="15.58" height="13.78" fill="#437b52"/>
<rect x="120.6" y="532.68" width="15.58" height="13.78" fill="#4a8259"/>
<rect x="135.88" y="532.68" width="15.58" height="13.78" fill="#528b60"/>
<rect x="151.16" y="532.68" width="15.58" height="13.78" fill="#5b9469"/>
<rect x="166.44" y="532.68" width="15.58" height="13.78" fill="#67a075"/>
<rect x="181.72" y="532.68" width="15.58" height="13.78" fill="#77ad83"/>
<rect x="197" y="532.68" width="15.58" height="13.78" fill="#8dbc96"/>
<rect x="44.2" y="546.16" width="15.58" height="13.78" fill="#356a43"/>
<rect x="59.48" y="546.16" width="15.58" height="13.78" fill="#3a6f48"/>
<rect x="74.76" y="546.16" width="15.58" height="13.78" fill="#3f774e"/>
<rect x="90.04" y="546.16" width="15.58" height="13.78" fill="#467f55"/>
<rect x="105.32" y="546.16" width="15.58" height="13.78" fill="#4d865c"/>
<rect x="120.6" y="546.16" width="15.58" height="13.78" fill="#558e63"/>
<rect x="135.88" y="546.16" width="15.58" height="13.78" fill="#60986d"/>
<rect x="151.16" y="546.16" width="15.58" height="13.78" fill="#6ca479"/>
<rect x="166.44" y="546.16" width="15.58" height="13.78" fill="#7cb188"/>
<rect x="181.72" y="546.16" width="15.58" height="13.78" fill="#8fbe99"/>
<rect x="197" y="546.16" width="15.58" height="13.78" fill="#a6ccad"/>
<rect x="44.2" y="559.64" width="15.58" height="13.78" fill="#3b714a"/>
<rect x="59.48" y="559.64" width="15.58" height="13.78" fill="#437b52"/>
<rect x="74.76" y="559.64" width="15.58" height="13.78" fill="#4a8259"/>
<rect x="90.04" y="559.64" width="15.58" height="13.78" fill="#528b60"/>
<rect x="105.32" y="559.64" width="15.58" height="13.78" fill="#5c956a"/>
<rect x="120.6" y="559.64" width="15.58" height="13.78" fill="#669f74"/>
<rect x="135.88" y="559.64" width="15.58" height="13.78" fill="#73aa7f"/>
<rect x="151.16" y="559.64" width="15.58" height="13.78" fill="#83b58e"/>
<rect x="166.44" y="559.64" width="15.58" height="13.78" fill="#95c29e"/>
<rect x="181.72" y="559.64" width="15.58" height="13.78" fill="#a9ceaf"/>
<rect x="197" y="559.64" width="15.58" height="13.78" fill="#c1ddc5"/>
<rect x="44.2" y="573.12" width="15.58" height="13.78" fill="#478056"/>
<rect x="59.48" y="573.12" width="15.58" height="13.78" fill="#4f885e"/>
<rect x="74.76" y="573.12" width="15.58" height="13.78" fill="#599267"/>
<rect x="90.04" y="573.12" width="15.58" height="13.78" fill="#649c71"/>
<rect x="105.32" y="573.12" width="15.58" height="13.78" fill="#6da57a"/>
<rect x="120.6" y="573.12" width="15.58" height="13.78" fill="#7bb087"/>
<rect x="135.88" y="573.12" width="15.58" height="13.78" fill="#8bbb95"/>
<rect x="151.16" y="573.12" width="15.58" height="13.78" fill="#9dc6a5"/>
<rect x="166.44" y="573.12" width="15.58" height="13.78" fill="#b0d2b6"/>
<rect x="181.72" y="573.12" width="15.58" height="13.78" fill="#cae2cd"/>
<rect x="197" y="573.12" width="15.58" height="13.78" fill="#e5f2e6"/>
<rect x="44.2" y="586.6" width="15.58" height="13.78" fill="#568f64"/>
<rect x="59.48" y="586.6" width="15.58" height="13.78" fill="#629a6f"/>
<rect x="74.76" y="586.6" width="15.58" height="13.78" fill="#6ba378"/>
<rect x="90.04" y="586.6" width="15.58" height="13.78" fill="#75ac82"/>
<rect x="105.32" y="586.6" width="15.58" height="13.78" fill="#83b58e"/>
<rect x="120.6" y="586.6" width="15.58" height="13.78" fill="#94c19c"/>
<rect x="135.88" y="586.6" width="15.58" height="13.78" fill="#a9ceaf"/>
<rect x="151.16" y="586.6" width="15.58" height="13.78" fill="#bedbc2"/>
<rect x="166.44" y="586.6" width="15.58" height="13.78" fill="#d9ebdb"/>
<rect x="181.72" y="586.6" width="15.58" height="13.78" fill="#eef7ee"/>
<rect x="197" y="586.6" width="15.58" height="13.78" fill="#ffffff"/>
<text x="51.84" y="460.14" font-size="6.2" fill="#1a1a1a" text-anchor="middle">17.1</text>
<text x="67.12" y="460.14" font-size="6.2" fill="#1a1a1a" text-anchor="middle">24.0</text>
<text x="82.4" y="460.14" font-size="6.2" fill="#1a1a1a" text-anchor="middle">31.7</text>
<text x="97.68" y="460.14" font-size="6.2" fill="#1a1a1a" text-anchor="middle">39.5</text>
<text x="112.96" y="460.14" font-size="6.2" fill="#1a1a1a" text-anchor="middle">46.8</text>
<text x="128.24" y="460.14" font-size="6.2" fill="#1a1a1a" text-anchor="middle">53.5</text>
<text x="143.52" y="460.14" font-size="6.2" fill="#1a1a1a" text-anchor="middle">59.6</text>
<text x="158.8" y="460.14" font-size="6.2" fill="#1a1a1a" text-anchor="middle">64.8</text>
<text x="174.08" y="460.14" font-size="6.2" fill="#1a1a1a" text-anchor="middle">69.5</text>
<text x="189.36" y="460.14" font-size="6.2" fill="#1a1a1a" text-anchor="middle">73.7</text>
<text x="204.64" y="460.14" font-size="6.2" fill="#1a1a1a" text-anchor="middle">77.2</text>
<text x="51.84" y="473.62" font-size="6.2" fill="#1a1a1a" text-anchor="middle">22.1</text>
<text x="67.12" y="473.62" font-size="6.2" fill="#1a1a1a" text-anchor="middle">30.5</text>
<text x="82.4" y="473.62" font-size="6.2" fill="#1a1a1a" text-anchor="middle">39.2</text>
<text x="97.68" y="473.62" font-size="6.2" fill="#1a1a1a" text-anchor="middle">47.4</text>
<text x="112.96" y="473.62" font-size="6.2" fill="#1a1a1a" text-anchor="middle">54.9</text>
<text x="128.24" y="473.62" font-size="6.2" fill="#1a1a1a" text-anchor="middle">61.4</text>
<text x="143.52" y="473.62" font-size="6.2" fill="#1a1a1a" text-anchor="middle">67.1</text>
<text x="158.8" y="473.62" font-size="6.2" fill="#1a1a1a" text-anchor="middle">72.1</text>
<text x="174.08" y="473.62" font-size="6.2" fill="#1a1a1a" text-anchor="middle">76.4</text>
<text x="189.36" y="473.62" font-size="6.2" fill="#1a1a1a" text-anchor="middle">80.1</text>
<text x="204.64" y="473.62" font-size="6.2" fill="#1a1a1a" text-anchor="middle">83.2</text>
<text x="51.84" y="487.1" font-size="6.2" fill="#1a1a1a" text-anchor="middle">49.9</text>
<text x="67.12" y="487.1" font-size="6.2" fill="#1a1a1a" text-anchor="middle">60.4</text>
<text x="82.4" y="487.1" font-size="6.2" fill="#1a1a1a" text-anchor="middle">69.2</text>
<text x="97.68" y="487.1" font-size="6.2" fill="#1a1a1a" text-anchor="middle">76.2</text>
<text x="112.96" y="487.1" font-size="6.2" fill="#1a1a1a" text-anchor="middle">82.0</text>
<text x="128.24" y="487.1" font-size="6.2" fill="#1a1a1a" text-anchor="middle">86.2</text>
<text x="143.52" y="487.1" font-size="6.2" fill="#e4ebe4" text-anchor="middle">89.2</text>
<text x="158.8" y="487.1" font-size="6.2" fill="#e4ebe4" text-anchor="middle">91.3</text>
<text x="174.08" y="487.1" font-size="6.2" fill="#e4ebe4" text-anchor="middle">92.6</text>
<text x="189.36" y="487.1" font-size="6.2" fill="#e4ebe4" text-anchor="middle">93.2</text>
<text x="204.64" y="487.1" font-size="6.2" fill="#e4ebe4" text-anchor="middle">93.3</text>
<text x="51.84" y="500.58" font-size="6.2" fill="#1a1a1a" text-anchor="middle">73.6</text>
<text x="67.12" y="500.58" font-size="6.2" fill="#1a1a1a" text-anchor="middle">81.6</text>
<text x="82.4" y="500.58" font-size="6.2" fill="#1a1a1a" text-anchor="middle">87.0</text>
<text x="97.68" y="500.58" font-size="6.2" fill="#e4ebe4" text-anchor="middle">90.7</text>
<text x="112.96" y="500.58" font-size="6.2" fill="#e4ebe4" text-anchor="middle">92.9</text>
<text x="128.24" y="500.58" font-size="6.2" fill="#e4ebe4" text-anchor="middle">94.2</text>
<text x="143.52" y="500.58" font-size="6.2" fill="#e4ebe4" text-anchor="middle">94.7</text>
<text x="158.8" y="500.58" font-size="6.2" fill="#e4ebe4" text-anchor="middle">94.8</text>
<text x="174.08" y="500.58" font-size="6.2" fill="#e4ebe4" text-anchor="middle">94.5</text>
<text x="189.36" y="500.58" font-size="6.2" fill="#e4ebe4" text-anchor="middle">94.0</text>
<text x="204.64" y="500.58" font-size="6.2" fill="#e4ebe4" text-anchor="middle">93.0</text>
<text x="51.84" y="514.06" font-size="6.2" fill="#1a1a1a" text-anchor="middle">87.0</text>
<text x="67.12" y="514.06" font-size="6.2" fill="#e4ebe4" text-anchor="middle">91.4</text>
<text x="82.4" y="514.06" font-size="6.2" fill="#e4ebe4" text-anchor="middle">94.0</text>
<text x="97.68" y="514.06" font-size="6.2" fill="#e4ebe4" text-anchor="middle">95.2</text>
<text x="112.96" y="514.06" font-size="6.2" fill="#e4ebe4" text-anchor="middle">95.8</text>
<text x="128.24" y="514.06" font-size="6.2" fill="#e4ebe4" text-anchor="middle">95.8</text>
<text x="143.52" y="514.06" font-size="6.2" fill="#e4ebe4" text-anchor="middle">95.2</text>
<text x="158.8" y="514.06" font-size="6.2" fill="#e4ebe4" text-anchor="middle">94.8</text>
<text x="174.08" y="514.06" font-size="6.2" fill="#e4ebe4" text-anchor="middle">93.8</text>
<text x="189.36" y="514.06" font-size="6.2" fill="#e4ebe4" text-anchor="middle">92.8</text>
<text x="204.64" y="514.06" font-size="6.2" fill="#e4ebe4" text-anchor="middle">91.6</text>
<text x="51.84" y="527.54" font-size="6.2" fill="#e4ebe4" text-anchor="middle">93.5</text>
<text x="67.12" y="527.54" font-size="6.2" fill="#e4ebe4" text-anchor="middle">95.5</text>
<text x="82.4" y="527.54" font-size="6.2" fill="#e4ebe4" text-anchor="middle">96.1</text>
<text x="97.68" y="527.54" font-size="6.2" fill="#e4ebe4" text-anchor="middle">96.1</text>
<text x="112.96" y="527.54" font-size="6.2" fill="#e4ebe4" text-anchor="middle">95.7</text>
<text x="128.24" y="527.54" font-size="6.2" fill="#e4ebe4" text-anchor="middle">95.1</text>
<text x="143.52" y="527.54" font-size="6.2" fill="#e4ebe4" text-anchor="middle">94.4</text>
<text x="158.8" y="527.54" font-size="6.2" fill="#e4ebe4" text-anchor="middle">93.6</text>
<text x="174.08" y="527.54" font-size="6.2" fill="#e4ebe4" text-anchor="middle">92.5</text>
<text x="189.36" y="527.54" font-size="6.2" fill="#e4ebe4" text-anchor="middle">91.2</text>
<text x="204.64" y="527.54" font-size="6.2" fill="#e4ebe4" text-anchor="middle">89.8</text>
<text x="51.84" y="541.02" font-size="6.2" fill="#e4ebe4" text-anchor="middle">96.1</text>
<text x="67.12" y="541.02" font-size="6.2" fill="#e4ebe4" text-anchor="middle">96.5</text>
<text x="82.4" y="541.02" font-size="6.2" fill="#e4ebe4" text-anchor="middle">96.2</text>
<text x="97.68" y="541.02" font-size="6.2" fill="#e4ebe4" text-anchor="middle">95.6</text>
<text x="112.96" y="541.02" font-size="6.2" fill="#e4ebe4" text-anchor="middle">94.9</text>
<text x="128.24" y="541.02" font-size="6.2" fill="#e4ebe4" text-anchor="middle">94.1</text>
<text x="143.52" y="541.02" font-size="6.2" fill="#e4ebe4" text-anchor="middle">93.2</text>
<text x="158.8" y="541.02" font-size="6.2" fill="#e4ebe4" text-anchor="middle">92.2</text>
<text x="174.08" y="541.02" font-size="6.2" fill="#e4ebe4" text-anchor="middle">90.9</text>
<text x="189.36" y="541.02" font-size="6.2" fill="#e4ebe4" text-anchor="middle">89.5</text>
<text x="204.64" y="541.02" font-size="6.2" fill="#1a1a1a" text-anchor="middle">87.9</text>
<text x="51.84" y="554.5" font-size="6.2" fill="#e4ebe4" text-anchor="middle">96.5</text>
<text x="67.12" y="554.5" font-size="6.2" fill="#e4ebe4" text-anchor="middle">96.0</text>
<text x="82.4" y="554.5" font-size="6.2" fill="#e4ebe4" text-anchor="middle">95.3</text>
<text x="97.68" y="554.5" font-size="6.2" fill="#e4ebe4" text-anchor="middle">94.5</text>
<text x="112.96" y="554.5" font-size="6.2" fill="#e4ebe4" text-anchor="middle">93.7</text>
<text x="128.24" y="554.5" font-size="6.2" fill="#e4ebe4" text-anchor="middle">92.8</text>
<text x="143.52" y="554.5" font-size="6.2" fill="#e4ebe4" text-anchor="middle">91.7</text>
<text x="158.8" y="554.5" font-size="6.2" fill="#e4ebe4" text-anchor="middle">90.4</text>
<text x="174.08" y="554.5" font-size="6.2" fill="#e4ebe4" text-anchor="middle">89.1</text>
<text x="189.36" y="554.5" font-size="6.2" fill="#1a1a1a" text-anchor="middle">87.7</text>
<text x="204.64" y="554.5" font-size="6.2" fill="#1a1a1a" text-anchor="middle">86.2</text>
<text x="51.84" y="567.98" font-size="6.2" fill="#e4ebe4" text-anchor="middle">95.8</text>
<text x="67.12" y="567.98" font-size="6.2" fill="#e4ebe4" text-anchor="middle">94.9</text>
<text x="82.4" y="567.98" font-size="6.2" fill="#e4ebe4" text-anchor="middle">94.1</text>
<text x="97.68" y="567.98" font-size="6.2" fill="#e4ebe4" text-anchor="middle">93.2</text>
<text x="112.96" y="567.98" font-size="6.2" fill="#e4ebe4" text-anchor="middle">92.1</text>
<text x="128.24" y="567.98" font-size="6.2" fill="#e4ebe4" text-anchor="middle">91.0</text>
<text x="143.52" y="567.98" font-size="6.2" fill="#e4ebe4" text-anchor="middle">89.8</text>
<text x="158.8" y="567.98" font-size="6.2" fill="#1a1a1a" text-anchor="middle">88.6</text>
<text x="174.08" y="567.98" font-size="6.2" fill="#1a1a1a" text-anchor="middle">87.3</text>
<text x="189.36" y="567.98" font-size="6.2" fill="#1a1a1a" text-anchor="middle">86.0</text>
<text x="204.64" y="567.98" font-size="6.2" fill="#1a1a1a" text-anchor="middle">84.4</text>
<text x="51.84" y="581.46" font-size="6.2" fill="#e4ebe4" text-anchor="middle">94.4</text>
<text x="67.12" y="581.46" font-size="6.2" fill="#e4ebe4" text-anchor="middle">93.5</text>
<text x="82.4" y="581.46" font-size="6.2" fill="#e4ebe4" text-anchor="middle">92.4</text>
<text x="97.68" y="581.46" font-size="6.2" fill="#e4ebe4" text-anchor="middle">91.3</text>
<text x="112.96" y="581.46" font-size="6.2" fill="#e4ebe4" text-anchor="middle">90.3</text>
<text x="128.24" y="581.46" font-size="6.2" fill="#e4ebe4" text-anchor="middle">89.2</text>
<text x="143.52" y="581.46" font-size="6.2" fill="#1a1a1a" text-anchor="middle">88.0</text>
<text x="158.8" y="581.46" font-size="6.2" fill="#1a1a1a" text-anchor="middle">86.8</text>
<text x="174.08" y="581.46" font-size="6.2" fill="#1a1a1a" text-anchor="middle">85.5</text>
<text x="189.36" y="581.46" font-size="6.2" fill="#1a1a1a" text-anchor="middle">83.8</text>
<text x="204.64" y="581.46" font-size="6.2" fill="#1a1a1a" text-anchor="middle">81.8</text>
<text x="51.84" y="594.94" font-size="6.2" fill="#e4ebe4" text-anchor="middle">92.7</text>
<text x="67.12" y="594.94" font-size="6.2" fill="#e4ebe4" text-anchor="middle">91.5</text>
<text x="82.4" y="594.94" font-size="6.2" fill="#e4ebe4" text-anchor="middle">90.5</text>
<text x="97.68" y="594.94" font-size="6.2" fill="#e4ebe4" text-anchor="middle">89.6</text>
<text x="112.96" y="594.94" font-size="6.2" fill="#1a1a1a" text-anchor="middle">88.6</text>
<text x="128.24" y="594.94" font-size="6.2" fill="#1a1a1a" text-anchor="middle">87.4</text>
<text x="143.52" y="594.94" font-size="6.2" fill="#1a1a1a" text-anchor="middle">86.0</text>
<text x="158.8" y="594.94" font-size="6.2" fill="#1a1a1a" text-anchor="middle">84.6</text>
<text x="174.08" y="594.94" font-size="6.2" fill="#1a1a1a" text-anchor="middle">82.8</text>
<text x="189.36" y="594.94" font-size="6.2" fill="#1a1a1a" text-anchor="middle">80.9</text>
<text x="204.64" y="594.94" font-size="6.2" fill="#1a1a1a" text-anchor="middle">78.7</text>
<line x1="42" y1="458.54" x2="43.6" y2="458.54" stroke="#333" stroke-width="0.6"/>
<text x="0" y="0" font-size="6.4" fill="#222" text-anchor="middle" transform="translate(39.6,458.54) rotate(-90)">0.2</text>
<line x1="42" y1="472.02" x2="43.6" y2="472.02" stroke="#333" stroke-width="0.6"/>
<text x="0" y="0" font-size="6.4" fill="#222" text-anchor="middle" transform="translate(39.6,472.02) rotate(-90)">0.4</text>
<line x1="42" y1="485.5" x2="43.6" y2="485.5" stroke="#333" stroke-width="0.6"/>
<text x="0" y="0" font-size="6.4" fill="#222" text-anchor="middle" transform="translate(39.6,485.5) rotate(-90)">0.6</text>
<line x1="42" y1="498.98" x2="43.6" y2="498.98" stroke="#333" stroke-width="0.6"/>
<text x="0" y="0" font-size="6.4" fill="#222" text-anchor="middle" transform="translate(39.6,498.98) rotate(-90)">0.8</text>
<line x1="42" y1="512.46" x2="43.6" y2="512.46" stroke="#333" stroke-width="0.6"/>
<text x="0" y="0" font-size="6.4" fill="#222" text-anchor="middle" transform="translate(39.6,512.46) rotate(-90)">1.0</text>
<line x1="42" y1="525.94" x2="43.6" y2="525.94" stroke="#333" stroke-width="0.6"/>
<text x="0" y="0" font-size="6.4" fill="#222" text-anchor="middle" transform="translate(39.6,525.94) rotate(-90)">1.2</text>
<line x1="42" y1="539.42" x2="43.6" y2="539.42" stroke="#333" stroke-width="0.6"/>
<text x="0" y="0" font-size="6.4" fill="#222" text-anchor="middle" transform="translate(39.6,539.42) rotate(-90)">1.4</text>
<line x1="42" y1="552.9" x2="43.6" y2="552.9" stroke="#333" stroke-width="0.6"/>
<text x="0" y="0" font-size="6.4" fill="#222" text-anchor="middle" transform="translate(39.6,552.9) rotate(-90)">1.6</text>
<line x1="42" y1="566.38" x2="43.6" y2="566.38" stroke="#333" stroke-width="0.6"/>
<text x="0" y="0" font-size="6.4" fill="#222" text-anchor="middle" transform="translate(39.6,566.38) rotate(-90)">1.8</text>
<line x1="42" y1="579.86" x2="43.6" y2="579.86" stroke="#333" stroke-width="0.6"/>
<text x="0" y="0" font-size="6.4" fill="#222" text-anchor="middle" transform="translate(39.6,579.86) rotate(-90)">2.0</text>
<line x1="42" y1="593.34" x2="43.6" y2="593.34" stroke="#333" stroke-width="0.6"/>
<text x="0" y="0" font-size="6.4" fill="#222" text-anchor="middle" transform="translate(39.6,593.34) rotate(-90)">2.2</text>
<line x1="51.84" y1="600.1" x2="51.84" y2="601.9" stroke="#333" stroke-width="0.6"/>
<text x="51.84" y="608.6" font-size="6.4" fill="#222" text-anchor="middle">0.05</text>
<line x1="67.12" y1="600.1" x2="67.12" y2="601.9" stroke="#333" stroke-width="0.6"/>
<text x="67.12" y="608.6" font-size="6.4" fill="#222" text-anchor="middle">0.06</text>
<line x1="82.4" y1="600.1" x2="82.4" y2="601.9" stroke="#333" stroke-width="0.6"/>
<text x="82.4" y="608.6" font-size="6.4" fill="#222" text-anchor="middle">0.07</text>
<line x1="97.68" y1="600.1" x2="97.68" y2="601.9" stroke="#333" stroke-width="0.6"/>
<text x="97.68" y="608.6" font-size="6.4" fill="#222" text-anchor="middle">0.08</text>
<line x1="112.96" y1="600.1" x2="112.96" y2="601.9" stroke="#333" stroke-width="0.6"/>
<text x="112.96" y="608.6" font-size="6.4" fill="#222" text-anchor="middle">0.09</text>
<line x1="128.24" y1="600.1" x2="128.24" y2="601.9" stroke="#333" stroke-width="0.6"/>
<text x="128.24" y="608.6" font-size="6.4" fill="#222" text-anchor="middle">0.10</text>
<line x1="143.52" y1="600.1" x2="143.52" y2="601.9" stroke="#333" stroke-width="0.6"/>
<text x="143.52" y="608.6" font-size="6.4" fill="#222" text-anchor="middle">0.11</text>
<line x1="158.8" y1="600.1" x2="158.8" y2="601.9" stroke="#333" stroke-width="0.6"/>
<text x="158.8" y="608.6" font-size="6.4" fill="#222" text-anchor="middle">0.12</text>
<line x1="174.08" y1="600.1" x2="174.08" y2="601.9" stroke="#333" stroke-width="0.6"/>
<text x="174.08" y="608.6" font-size="6.4" fill="#222" text-anchor="middle">0.13</text>
<line x1="189.36" y1="600.1" x2="189.36" y2="601.9" stroke="#333" stroke-width="0.6"/>
<text x="189.36" y="608.6" font-size="6.4" fill="#222" text-anchor="middle">0.14</text>
<line x1="204.64" y1="600.1" x2="204.64" y2="601.9" stroke="#333" stroke-width="0.6"/>
<text x="204.64" y="608.6" font-size="6.4" fill="#222" text-anchor="middle">0.15</text>
<text x="124.5" y="628.6" font-size="11.6" fill="#111" text-anchor="middle">Peak prominence ratio</text>
<text x="323.4" y="440.4" font-size="11.6" fill="#111" text-anchor="middle">Single-peak accuracy</text>
<rect x="238.9" y="451.8" width="15.58" height="13.78" fill="#ffffff"/>
<rect x="254.18" y="451.8" width="15.58" height="13.78" fill="#ffffff"/>
<rect x="269.46" y="451.8" width="15.58" height="13.78" fill="#ffffff"/>
<rect x="284.74" y="451.8" width="15.58" height="13.78" fill="#ffffff"/>
<rect x="300.02" y="451.8" width="15.58" height="13.78" fill="#ffffff"/>
<rect x="315.3" y="451.8" width="15.58" height="13.78" fill="#ffffff"/>
<rect x="330.58" y="451.8" width="15.58" height="13.78" fill="#ffffff"/>
<rect x="345.86" y="451.8" width="15.58" height="13.78" fill="#ffffff"/>
<rect x="361.14" y="451.8" width="15.58" height="13.78" fill="#ffffff"/>
<rect x="376.42" y="451.8" width="15.58" height="13.78" fill="#ffffff"/>
<rect x="391.7" y="451.8" width="15.58" height="13.78" fill="#ffffff"/>
<rect x="238.9" y="465.28" width="15.58" height="13.78" fill="#ffffff"/>
<rect x="254.18" y="465.28" width="15.58" height="13.78" fill="#ffffff"/>
<rect x="269.46" y="465.28" width="15.58" height="13.78" fill="#ffffff"/>
<rect x="284.74" y="465.28" width="15.58" height="13.78" fill="#ffffff"/>
<rect x="300.02" y="465.28" width="15.58" height="13.78" fill="#ffffff"/>
<rect x="315.3" y="465.28" width="15.58" height="13.78" fill="#ffffff"/>
<rect x="330.58" y="465.28" width="15.58" height="13.78" fill="#ffffff"/>
<rect x="345.86" y="465.28" width="15.58" height="13.78" fill="#ffffff"/>
<rect x="361.14" y="465.28" width="15.58" height="13.78" fill="#ffffff"/>
<rect x="376.42" y="465.28" width="15.58" height="13.78" fill="#ffffff"/>
<rect x="391.7" y="465.28" width="15.58" height="13.78" fill="#ffffff"/>
<rect x="238.9" y="478.76" width="15.58" height="13.78" fill="#ffffff"/>
<rect x="254.18" y="478.76" width="15.58" height="13.78" fill="#ffffff"/>
<rect x="269.46" y="478.76" width="15.58" height="13.78" fill="#ffffff"/>
<rect x="284.74" y="478.76" width="15.58" height="13.78" fill="#ffffff"/>
<rect x="300.02" y="478.76" width="15.58" height="13.78" fill="#ffffff"/>
<rect x="315.3" y="478.76" width="15.58" height="13.78" fill="#ffffff"/>
<rect x="330.58" y="478.76" width="15.58" height="13.78" fill="#ffffff"/>
<rect x="345.86" y="478.76" width="15.58" height="13.78" fill="#c3ddc7"/>
<rect x="361.14" y="478.76" width="15.58" height="13.78" fill="#80b48b"/>
<rect x="376.42" y="478.76" width="15.58" height="13.78" fill="#5e976c"/>
<rect x="391.7" y="478.76" width="15.58" height="13.78" fill="#478056"/>
<rect x="238.9" y="492.24" width="15.58" height="13.78" fill="#ffffff"/>
<rect x="254.18" y="492.24" width="15.58" height="13.78" fill="#ffffff"/>
<rect x="269.46" y="492.24" width="15.58" height="13.78" fill="#ffffff"/>
<rect x="284.74" y="492.24" width="15.58" height="13.78" fill="#ffffff"/>
<rect x="300.02" y="492.24" width="15.58" height="13.78" fill="#e2f0e3"/>
<rect x="315.3" y="492.24" width="15.58" height="13.78" fill="#91bf9a"/>
<rect x="330.58" y="492.24" width="15.58" height="13.78" fill="#5f976c"/>
<rect x="345.86" y="492.24" width="15.58" height="13.78" fill="#467e54"/>
<rect x="361.14" y="492.24" width="15.58" height="13.78" fill="#356942"/>
<rect x="376.42" y="492.24" width="15.58" height="13.78" fill="#2a5b36"/>
<rect x="391.7" y="492.24" width="15.58" height="13.78" fill="#24522f"/>
<rect x="238.9" y="505.72" width="15.58" height="13.78" fill="#ffffff"/>
<rect x="254.18" y="505.72" width="15.58" height="13.78" fill="#ffffff"/>
<rect x="269.46" y="505.72" width="15.58" height="13.78" fill="#f7fcf7"/>
<rect x="284.74" y="505.72" width="15.58" height="13.78" fill="#9ec7a6"/>
<rect x="300.02" y="505.72" width="15.58" height="13.78" fill="#629a6f"/>
<rect x="315.3" y="505.72" width="15.58" height="13.78" fill="#447c53"/>
<rect x="330.58" y="505.72" width="15.58" height="13.78" fill="#336740"/>
<rect x="345.86" y="505.72" width="15.58" height="13.78" fill="#285734"/>
<rect x="361.14" y="505.72" width="15.58" height="13.78" fill="#224f2d"/>
<rect x="376.42" y="505.72" width="15.58" height="13.78" fill="#1f4a29"/>
<rect x="391.7" y="505.72" width="15.58" height="13.78" fill="#1e4828"/>
<rect x="238.9" y="519.2" width="15.58" height="13.78" fill="#ffffff"/>
<rect x="254.18" y="519.2" width="15.58" height="13.78" fill="#e3f1e4"/>
<rect x="269.46" y="519.2" width="15.58" height="13.78" fill="#82b48d"/>
<rect x="284.74" y="519.2" width="15.58" height="13.78" fill="#528b60"/>
<rect x="300.02" y="519.2" width="15.58" height="13.78" fill="#3a6f48"/>
<rect x="315.3" y="519.2" width="15.58" height="13.78" fill="#2b5c37"/>
<rect x="330.58" y="519.2" width="15.58" height="13.78" fill="#24512f"/>
<rect x="345.86" y="519.2" width="15.58" height="13.78" fill="#204c2a"/>
<rect x="361.14" y="519.2" width="15.58" height="13.78" fill="#1e4828"/>
<rect x="376.42" y="519.2" width="15.58" height="13.78" fill="#1c4626"/>
<rect x="391.7" y="519.2" width="15.58" height="13.78" fill="#1c4525"/>
<rect x="238.9" y="532.68" width="15.58" height="13.78" fill="#e5f2e6"/>
<rect x="254.18" y="532.68" width="15.58" height="13.78" fill="#7cb188"/>
<rect x="269.46" y="532.68" width="15.58" height="13.78" fill="#4d855b"/>
<rect x="284.74" y="532.68" width="15.58" height="13.78" fill="#356942"/>
<rect x="300.02" y="532.68" width="15.58" height="13.78" fill="#295935"/>
<rect x="315.3" y="532.68" width="15.58" height="13.78" fill="#224f2d"/>
<rect x="330.58" y="532.68" width="15.58" height="13.78" fill="#1f4928"/>
<rect x="345.86" y="532.68" width="15.58" height="13.78" fill="#1d4727"/>
<rect x="361.14" y="532.68" width="15.58" height="13.78" fill="#1c4626"/>
<rect x="376.42" y="532.68" width="15.58" height="13.78" fill="#1c4525"/>
<rect x="391.7" y="532.68" width="15.58" height="13.78" fill="#1b4424"/>
<rect x="238.9" y="546.16" width="15.58" height="13.78" fill="#86b790"/>
<rect x="254.18" y="546.16" width="15.58" height="13.78" fill="#4e875d"/>
<rect x="269.46" y="546.16" width="15.58" height="13.78" fill="#356942"/>
<rect x="284.74" y="546.16" width="15.58" height="13.78" fill="#285734"/>
<rect x="300.02" y="546.16" width="15.58" height="13.78" fill="#214e2c"/>
<rect x="315.3" y="546.16" width="15.58" height="13.78" fill="#1f4928"/>
<rect x="330.58" y="546.16" width="15.58" height="13.78" fill="#1c4626"/>
<rect x="345.86" y="546.16" width="15.58" height="13.78" fill="#1c4525"/>
<rect x="361.14" y="546.16" width="15.58" height="13.78" fill="#1c4525"/>
<rect x="376.42" y="546.16" width="15.58" height="13.78" fill="#1b4424"/>
<rect x="391.7" y="546.16" width="15.58" height="13.78" fill="#1b4424"/>
<rect x="238.9" y="559.64" width="15.58" height="13.78" fill="#558e63"/>
<rect x="254.18" y="559.64" width="15.58" height="13.78" fill="#366b44"/>
<rect x="269.46" y="559.64" width="15.58" height="13.78" fill="#295935"/>
<rect x="284.74" y="559.64" width="15.58" height="13.78" fill="#214e2c"/>
<rect x="300.02" y="559.64" width="15.58" height="13.78" fill="#1f4928"/>
<rect x="315.3" y="559.64" width="15.58" height="13.78" fill="#1c4626"/>
<rect x="330.58" y="559.64" width="15.58" height="13.78" fill="#1c4525"/>
<rect x="345.86" y="559.64" width="15.58" height="13.78" fill="#1c4525"/>
<rect x="361.14" y="559.64" width="15.58" height="13.78" fill="#1b4424"/>
<rect x="376.42" y="559.64" width="15.58" height="13.78" fill="#1b4424"/>
<rect x="391.7" y="559.64" width="15.58" height="13.78" fill="#1b4424"/>
<rect x="238.9" y="573.12" width="15.58" height="13.78" fill="#3c724b"/>
<rect x="254.18" y="573.12" width="15.58" height="13.78" fill="#2a5b36"/>
<rect x="269.46" y="573.12" width="15.58" height="13.78" fill="#224f2d"/>
<rect x="284.74" y="573.12" width="15.58" height="13.78" fill="#1f4928"/>
<rect x="300.02" y="573.12" width="15.58" height="13.78" fill="#1c4626"/>
<rect x="315.3" y="573.12" width="15.58" height="13.78" fill="#1c4525"/>
<rect x="330.58" y="573.12" width="15.58" height="13.78" fill="#1b4424"/>
<rect x="345.86" y="573.12" width="15.58" height="13.78" fill="#1b4424"/>
<rect x="361.14" y="573.12" width="15.58" height="13.78" fill="#1b4424"/>
<rect x="376.42" y="573.12" width="15.58" height="13.78" fill="#1b4424"/>
<rect x="391.7" y="573.12" width="15.58" height="13.78" fill="#1b4424"/>
<rect x="238.9" y="586.6" width="15.58" height="13.78" fill="#2e603b"/>
<rect x="254.18" y="586.6" width="15.58" height="13.78" fill="#24512f"/>
<rect x="269.46" y="586.6" width="15.58" height="13.78" fill="#1f4a29"/>
<rect x="284.74" y="586.6" width="15.58" height="13.78" fill="#1d4727"/>
<rect x="300.02" y="586.6" width="15.58" height="13.78" fill="#1c4525"/>
<rect x="315.3" y="586.6" width="15.58" height="13.78" fill="#1b4424"/>
<rect x="330.58" y="586.6" width="15.58" height="13.78" fill="#1b4424"/>
<rect x="345.86" y="586.6" width="15.58" height="13.78" fill="#1b4424"/>
<rect x="361.14" y="586.6" width="15.58" height="13.78" fill="#1b4424"/>
<rect x="376.42" y="586.6" width="15.58" height="13.78" fill="#1b4424"/>
<rect x="391.7" y="586.6" width="15.58" height="13.78" fill="#1b4424"/>
<text x="246.54" y="460.14" font-size="6.2" fill="#1a1a1a" text-anchor="middle">1.8</text>
<text x="261.82" y="460.14" font-size="6.2" fill="#1a1a1a" text-anchor="middle">5.6</text>
<text x="277.1" y="460.14" font-size="6.2" fill="#1a1a1a" text-anchor="middle">12.5</text>
<text x="292.38" y="460.14" font-size="6.2" fill="#1a1a1a" text-anchor="middle">21.5</text>
<text x="307.66" y="460.14" font-size="6.2" fill="#1a1a1a" text-anchor="middle">30.8</text>
<text x="322.94" y="460.14" font-size="6.2" fill="#1a1a1a" text-anchor="middle">39.3</text>
<text x="338.22" y="460.14" font-size="6.2" fill="#1a1a1a" text-anchor="middle">46.8</text>
<text x="353.5" y="460.14" font-size="6.2" fill="#1a1a1a" text-anchor="middle">53.6</text>
<text x="368.78" y="460.14" font-size="6.2" fill="#1a1a1a" text-anchor="middle">60.0</text>
<text x="384.06" y="460.14" font-size="6.2" fill="#1a1a1a" text-anchor="middle">66.1</text>
<text x="399.34" y="460.14" font-size="6.2" fill="#1a1a1a" text-anchor="middle">71.4</text>
<text x="246.54" y="473.62" font-size="6.2" fill="#1a1a1a" text-anchor="middle">3.4</text>
<text x="261.82" y="473.62" font-size="6.2" fill="#1a1a1a" text-anchor="middle">9.5</text>
<text x="277.1" y="473.62" font-size="6.2" fill="#1a1a1a" text-anchor="middle">18.7</text>
<text x="292.38" y="473.62" font-size="6.2" fill="#1a1a1a" text-anchor="middle">28.9</text>
<text x="307.66" y="473.62" font-size="6.2" fill="#1a1a1a" text-anchor="middle">38.3</text>
<text x="322.94" y="473.62" font-size="6.2" fill="#1a1a1a" text-anchor="middle">46.6</text>
<text x="338.22" y="473.62" font-size="6.2" fill="#1a1a1a" text-anchor="middle">54.1</text>
<text x="353.5" y="473.62" font-size="6.2" fill="#1a1a1a" text-anchor="middle">61.0</text>
<text x="368.78" y="473.62" font-size="6.2" fill="#1a1a1a" text-anchor="middle">67.5</text>
<text x="384.06" y="473.62" font-size="6.2" fill="#1a1a1a" text-anchor="middle">73.1</text>
<text x="399.34" y="473.62" font-size="6.2" fill="#1a1a1a" text-anchor="middle">78.2</text>
<text x="246.54" y="487.1" font-size="6.2" fill="#1a1a1a" text-anchor="middle">19.9</text>
<text x="261.82" y="487.1" font-size="6.2" fill="#1a1a1a" text-anchor="middle">33.0</text>
<text x="277.1" y="487.1" font-size="6.2" fill="#1a1a1a" text-anchor="middle">45.0</text>
<text x="292.38" y="487.1" font-size="6.2" fill="#1a1a1a" text-anchor="middle">55.4</text>
<text x="307.66" y="487.1" font-size="6.2" fill="#1a1a1a" text-anchor="middle">64.3</text>
<text x="322.94" y="487.1" font-size="6.2" fill="#1a1a1a" text-anchor="middle">72.3</text>
<text x="338.22" y="487.1" font-size="6.2" fill="#1a1a1a" text-anchor="middle">78.9</text>
<text x="353.5" y="487.1" font-size="6.2" fill="#1a1a1a" text-anchor="middle">84.3</text>
<text x="368.78" y="487.1" font-size="6.2" fill="#1a1a1a" text-anchor="middle">88.8</text>
<text x="384.06" y="487.1" font-size="6.2" fill="#e4ebe4" text-anchor="middle">91.9</text>
<text x="399.34" y="487.1" font-size="6.2" fill="#e4ebe4" text-anchor="middle">94.4</text>
<text x="246.54" y="500.58" font-size="6.2" fill="#1a1a1a" text-anchor="middle">40.5</text>
<text x="261.82" y="500.58" font-size="6.2" fill="#1a1a1a" text-anchor="middle">54.2</text>
<text x="277.1" y="500.58" font-size="6.2" fill="#1a1a1a" text-anchor="middle">65.6</text>
<text x="292.38" y="500.58" font-size="6.2" fill="#1a1a1a" text-anchor="middle">74.9</text>
<text x="307.66" y="500.58" font-size="6.2" fill="#1a1a1a" text-anchor="middle">82.1</text>
<text x="322.94" y="500.58" font-size="6.2" fill="#1a1a1a" text-anchor="middle">87.6</text>
<text x="338.22" y="500.58" font-size="6.2" fill="#e4ebe4" text-anchor="middle">91.8</text>
<text x="353.5" y="500.58" font-size="6.2" fill="#e4ebe4" text-anchor="middle">94.6</text>
<text x="368.78" y="500.58" font-size="6.2" fill="#e4ebe4" text-anchor="middle">96.6</text>
<text x="384.06" y="500.58" font-size="6.2" fill="#e4ebe4" text-anchor="middle">97.9</text>
<text x="399.34" y="500.58" font-size="6.2" fill="#e4ebe4" text-anchor="middle">98.7</text>
<text x="246.54" y="514.06" font-size="6.2" fill="#1a1a1a" text-anchor="middle">58.0</text>
<text x="261.82" y="514.06" font-size="6.2" fill="#1a1a1a" text-anchor="middle">70.8</text>
<text x="277.1" y="514.06" font-size="6.2" fill="#1a1a1a" text-anchor="middle">80.0</text>
<text x="292.38" y="514.06" font-size="6.2" fill="#1a1a1a" text-anchor="middle">86.7</text>
<text x="307.66" y="514.06" font-size="6.2" fill="#e4ebe4" text-anchor="middle">91.5</text>
<text x="322.94" y="514.06" font-size="6.2" fill="#e4ebe4" text-anchor="middle">94.8</text>
<text x="338.22" y="514.06" font-size="6.2" fill="#e4ebe4" text-anchor="middle">96.8</text>
<text x="353.5" y="514.06" font-size="6.2" fill="#e4ebe4" text-anchor="middle">98.2</text>
<text x="368.78" y="514.06" font-size="6.2" fill="#e4ebe4" text-anchor="middle">99.0</text>
<text x="384.06" y="514.06" font-size="6.2" fill="#e4ebe4" text-anchor="middle">99.4</text>
<text x="399.34" y="514.06" font-size="6.2" fill="#e4ebe4" text-anchor="middle">99.6</text>
<text x="246.54" y="527.54" font-size="6.2" fill="#1a1a1a" text-anchor="middle">71.9</text>
<text x="261.82" y="527.54" font-size="6.2" fill="#1a1a1a" text-anchor="middle">82.0</text>
<text x="277.1" y="527.54" font-size="6.2" fill="#1a1a1a" text-anchor="middle">88.7</text>
<text x="292.38" y="527.54" font-size="6.2" fill="#e4ebe4" text-anchor="middle">93.2</text>
<text x="307.66" y="527.54" font-size="6.2" fill="#e4ebe4" text-anchor="middle">96.0</text>
<text x="322.94" y="527.54" font-size="6.2" fill="#e4ebe4" text-anchor="middle">97.8</text>
<text x="338.22" y="527.54" font-size="6.2" fill="#e4ebe4" text-anchor="middle">98.8</text>
<text x="353.5" y="527.54" font-size="6.2" fill="#e4ebe4" text-anchor="middle">99.3</text>
<text x="368.78" y="527.54" font-size="6.2" fill="#e4ebe4" text-anchor="middle">99.6</text>
<text x="384.06" y="527.54" font-size="6.2" fill="#e4ebe4" text-anchor="middle">99.8</text>
<text x="399.34" y="527.54" font-size="6.2" fill="#e4ebe4" text-anchor="middle">99.9</text>
<text x="246.54" y="541.02" font-size="6.2" fill="#1a1a1a" text-anchor="middle">81.8</text>
<text x="261.82" y="541.02" font-size="6.2" fill="#e4ebe4" text-anchor="middle">89.1</text>
<text x="277.1" y="541.02" font-size="6.2" fill="#e4ebe4" text-anchor="middle">93.8</text>
<text x="292.38" y="541.02" font-size="6.2" fill="#e4ebe4" text-anchor="middle">96.6</text>
<text x="307.66" y="541.02" font-size="6.2" fill="#e4ebe4" text-anchor="middle">98.1</text>
<text x="322.94" y="541.02" font-size="6.2" fill="#e4ebe4" text-anchor="middle">99.0</text>
<text x="338.22" y="541.02" font-size="6.2" fill="#e4ebe4" text-anchor="middle">99.5</text>
<text x="353.5" y="541.02" font-size="6.2" fill="#e4ebe4" text-anchor="middle">99.7</text>
<text x="368.78" y="541.02" font-size="6.2" fill="#e4ebe4" text-anchor="middle">99.8</text>
<text x="384.06" y="541.02" font-size="6.2" fill="#e4ebe4" text-anchor="middle">99.9</text>
<text x="399.34" y="541.02" font-size="6.2" fill="#e4ebe4" text-anchor="middle">100.0</text>
<text x="246.54" y="554.5" font-size="6.2" fill="#1a1a1a" text-anchor="middle">88.4</text>
<text x="261.82" y="554.5" font-size="6.2" fill="#e4ebe4" text-anchor="middle">93.6</text>
<text x="277.1" y="554.5" font-size="6.2" fill="#e4ebe4" text-anchor="middle">96.6</text>
<text x="292.38" y="554.5" font-size="6.2" fill="#e4ebe4" text-anchor="middle">98.2</text>
<text x="307.66" y="554.5" font-size="6.2" fill="#e4ebe4" text-anchor="middle">99.1</text>
<text x="322.94" y="554.5" font-size="6.2" fill="#e4ebe4" text-anchor="middle">99.5</text>
<text x="338.22" y="554.5" font-size="6.2" fill="#e4ebe4" text-anchor="middle">99.8</text>
<text x="353.5" y="554.5" font-size="6.2" fill="#e4ebe4" text-anchor="middle">99.9</text>
<text x="368.78" y="554.5" font-size="6.2" fill="#e4ebe4" text-anchor="middle">99.9</text>
<text x="384.06" y="554.5" font-size="6.2" fill="#e4ebe4" text-anchor="middle">100.0</text>
<text x="399.34" y="554.5" font-size="6.2" fill="#e4ebe4" text-anchor="middle">100.0</text>
<text x="246.54" y="567.98" font-size="6.2" fill="#e4ebe4" text-anchor="middle">92.8</text>
<text x="261.82" y="567.98" font-size="6.2" fill="#e4ebe4" text-anchor="middle">96.4</text>
<text x="277.1" y="567.98" font-size="6.2" fill="#e4ebe4" text-anchor="middle">98.1</text>
<text x="292.38" y="567.98" font-size="6.2" fill="#e4ebe4" text-anchor="middle">99.1</text>
<text x="307.66" y="567.98" font-size="6.2" fill="#e4ebe4" text-anchor="middle">99.5</text>
<text x="322.94" y="567.98" font-size="6.2" fill="#e4ebe4" text-anchor="middle">99.8</text>
<text x="338.22" y="567.98" font-size="6.2" fill="#e4ebe4" text-anchor="middle">99.9</text>
<text x="353.5" y="567.98" font-size="6.2" fill="#e4ebe4" text-anchor="middle">99.9</text>
<text x="368.78" y="567.98" font-size="6.2" fill="#e4ebe4" text-anchor="middle">100.0</text>
<text x="384.06" y="567.98" font-size="6.2" fill="#e4ebe4" text-anchor="middle">100.0</text>
<text x="399.34" y="567.98" font-size="6.2" fill="#e4ebe4" text-anchor="middle">100.0</text>
<text x="246.54" y="581.46" font-size="6.2" fill="#e4ebe4" text-anchor="middle">95.7</text>
<text x="261.82" y="581.46" font-size="6.2" fill="#e4ebe4" text-anchor="middle">97.9</text>
<text x="277.1" y="581.46" font-size="6.2" fill="#e4ebe4" text-anchor="middle">99.0</text>
<text x="292.38" y="581.46" font-size="6.2" fill="#e4ebe4" text-anchor="middle">99.5</text>
<text x="307.66" y="581.46" font-size="6.2" fill="#e4ebe4" text-anchor="middle">99.8</text>
<text x="322.94" y="581.46" font-size="6.2" fill="#e4ebe4" text-anchor="middle">99.9</text>
<text x="338.22" y="581.46" font-size="6.2" fill="#e4ebe4" text-anchor="middle">100.0</text>
<text x="353.5" y="581.46" font-size="6.2" fill="#e4ebe4" text-anchor="middle">100.0</text>
<text x="368.78" y="581.46" font-size="6.2" fill="#e4ebe4" text-anchor="middle">100.0</text>
<text x="384.06" y="581.46" font-size="6.2" fill="#e4ebe4" text-anchor="middle">100.0</text>
<text x="399.34" y="581.46" font-size="6.2" fill="#e4ebe4" text-anchor="middle">100.0</text>
<text x="246.54" y="594.94" font-size="6.2" fill="#e4ebe4" text-anchor="middle">97.4</text>
<text x="261.82" y="594.94" font-size="6.2" fill="#e4ebe4" text-anchor="middle">98.8</text>
<text x="277.1" y="594.94" font-size="6.2" fill="#e4ebe4" text-anchor="middle">99.4</text>
<text x="292.38" y="594.94" font-size="6.2" fill="#e4ebe4" text-anchor="middle">99.7</text>
<text x="307.66" y="594.94" font-size="6.2" fill="#e4ebe4" text-anchor="middle">99.9</text>
<text x="322.94" y="594.94" font-size="6.2" fill="#e4ebe4" text-anchor="middle">100.0</text>
<text x="338.22" y="594.94" font-size="6.2" fill="#e4ebe4" text-anchor="middle">100.0</text>
<text x="353.5" y="594.94" font-size="6.2" fill="#e4ebe4" text-anchor="middle">100.0</text>
<text x="368.78" y="594.94" font-size="6.2" fill="#e4ebe4" text-anchor="middle">100.0</text>
<text x="384.06" y="594.94" font-size="6.2" fill="#e4ebe4" text-anchor="middle">100.0</text>
<text x="399.34" y="594.94" font-size="6.2" fill="#e4ebe4" text-anchor="middle">100.0</text>
<line x1="236.7" y1="458.54" x2="238.3" y2="458.54" stroke="#333" stroke-width="0.6"/>
<text x="0" y="0" font-size="6.4" fill="#222" text-anchor="middle" transform="translate(234.3,458.54) rotate(-90)">0.2</text>
<line x1="236.7" y1="472.02" x2="238.3" y2="472.02" stroke="#333" stroke-width="0.6"/>
<text x="0" y="0" font-size="6.4" fill="#222" text-anchor="middle" transform="translate(234.3,472.02) rotate(-90)">0.4</text>
<line x1="236.7" y1="485.5" x2="238.3" y2="485.5" stroke="#333" stroke-width="0.6"/>
<text x="0" y="0" font-size="6.4" fill="#222" text-anchor="middle" transform="translate(234.3,485.5) rotate(-90)">0.6</text>
<line x1="236.7" y1="498.98" x2="238.3" y2="498.98" stroke="#333" stroke-width="0.6"/>
<text x="0" y="0" font-size="6.4" fill="#222" text-anchor="middle" transform="translate(234.3,498.98) rotate(-90)">0.8</text>
<line x1="236.7" y1="512.46" x2="238.3" y2="512.46" stroke="#333" stroke-width="0.6"/>
<text x="0" y="0" font-size="6.4" fill="#222" text-anchor="middle" transform="translate(234.3,512.46) rotate(-90)">1.0</text>
<line x1="236.7" y1="525.94" x2="238.3" y2="525.94" stroke="#333" stroke-width="0.6"/>
<text x="0" y="0" font-size="6.4" fill="#222" text-anchor="middle" transform="translate(234.3,525.94) rotate(-90)">1.2</text>
<line x1="236.7" y1="539.42" x2="238.3" y2="539.42" stroke="#333" stroke-width="0.6"/>
<text x="0" y="0" font-size="6.4" fill="#222" text-anchor="middle" transform="translate(234.3,539.42) rotate(-90)">1.4</text>
<line x1="236.7" y1="552.9" x2="238.3" y2="552.9" stroke="#333" stroke-width="0.6"/>
<text x="0" y="0" font-size="6.4" fill="#222" text-anchor="middle" transform="translate(234.3,552.9) rotate(-90)">1.6</text>
<line x1="236.7" y1="566.38" x2="238.3" y2="566.38" stroke="#333" stroke-width="0.6"/>
<text x="0" y="0" font-size="6.4" fill="#222" text-anchor="middle" transform="translate(234.3,566.38) rotate(-90)">1.8</text>
<line x1="236.7" y1="579.86" x2="238.3" y2="579.86" stroke="#333" stroke-width="0.6"/>
<text x="0" y="0" font-size="6.4" fill="#222" text-anchor="middle" transform="translate(234.3,579.86) rotate(-90)">2.0</text>
<line x1="236.7" y1="593.34" x2="238.3" y2="593.34" stroke="#333" stroke-width="0.6"/>
<text x="0" y="0" font-size="6.4" fill="#222" text-anchor="middle" transform="translate(234.3,593.34) rotate(-90)">2.2</text>
<line x1="246.54" y1="600.1" x2="246.54" y2="601.9" stroke="#333" stroke-width="0.6"/>
<text x="246.54" y="608.6" font-size="6.4" fill="#222" text-anchor="middle">0.05</text>
<line x1="261.82" y1="600.1" x2="261.82" y2="601.9" stroke="#333" stroke-width="0.6"/>
<text x="261.82" y="608.6" font-size="6.4" fill="#222" text-anchor="middle">0.06</text>
<line x1="277.1" y1="600.1" x2="277.1" y2="601.9" stroke="#333" stroke-width="0.6"/>
<text x="277.1" y="608.6" font-size="6.4" fill="#222" text-anchor="middle">0.07</text>
<line x1="292.38" y1="600.1" x2="292.38" y2="601.9" stroke="#333" stroke-width="0.6"/>
<text x="292.38" y="608.6" font-size="6.4" fill="#222" text-anchor="middle">0.08</text>
<line x1="307.66" y1="600.1" x2="307.66" y2="601.9" stroke="#333" stroke-width="0.6"/>
<text x="307.66" y="608.6" font-size="6.4" fill="#222" text-anchor="middle">0.09</text>
<line x1="322.94" y1="600.1" x2="322.94" y2="601.9" stroke="#333" stroke-width="0.6"/>
<text x="322.94" y="608.6" font-size="6.4" fill="#222" text-anchor="middle">0.10</text>
<line x1="338.22" y1="600.1" x2="338.22" y2="601.9" stroke="#333" stroke-width="0.6"/>
<text x="338.22" y="608.6" font-size="6.4" fill="#222" text-anchor="middle">0.11</text>
<line x1="353.5" y1="600.1" x2="353.5" y2="601.9" stroke="#333" stroke-width="0.6"/>
<text x="353.5" y="608.6" font-size="6.4" fill="#222" text-anchor="middle">0.12</text>
<line x1="368.78" y1="600.1" x2="368.78" y2="601.9" stroke="#333" stroke-width="0.6"/>
<text x="368.78" y="608.6" font-size="6.4" fill="#222" text-anchor="middle">0.13</text>
<line x1="384.06" y1="600.1" x2="384.06" y2="601.9" stroke="#333" stroke-width="0.6"/>
<text x="384.06" y="608.6" font-size="6.4" fill="#222" text-anchor="middle">0.14</text>
<line x1="399.34" y1="600.1" x2="399.34" y2="601.9" stroke="#333" stroke-width="0.6"/>
<text x="399.34" y="608.6" font-size="6.4" fill="#222" text-anchor="middle">0.15</text>
<text x="323.4" y="628.6" font-size="11.6" fill="#111" text-anchor="middle">Peak prominence ratio</text>
<text x="520" y="440.4" font-size="11.6" fill="#111" text-anchor="middle">Averaged accuracy</text>
<rect x="433" y="451.8" width="15.58" height="13.78" fill="#ffffff"/>
<rect x="448.28" y="451.8" width="15.58" height="13.78" fill="#ffffff"/>
<rect x="463.56" y="451.8" width="15.58" height="13.78" fill="#ffffff"/>
<rect x="478.84" y="451.8" width="15.58" height="13.78" fill="#ffffff"/>
<rect x="494.12" y="451.8" width="15.58" height="13.78" fill="#ffffff"/>
<rect x="509.4" y="451.8" width="15.58" height="13.78" fill="#ffffff"/>
<rect x="524.68" y="451.8" width="15.58" height="13.78" fill="#ffffff"/>
<rect x="539.96" y="451.8" width="15.58" height="13.78" fill="#ffffff"/>
<rect x="555.24" y="451.8" width="15.58" height="13.78" fill="#ffffff"/>
<rect x="570.52" y="451.8" width="15.58" height="13.78" fill="#ffffff"/>
<rect x="585.8" y="451.8" width="15.58" height="13.78" fill="#ffffff"/>
<rect x="433" y="465.28" width="15.58" height="13.78" fill="#ffffff"/>
<rect x="448.28" y="465.28" width="15.58" height="13.78" fill="#ffffff"/>
<rect x="463.56" y="465.28" width="15.58" height="13.78" fill="#ffffff"/>
<rect x="478.84" y="465.28" width="15.58" height="13.78" fill="#ffffff"/>
<rect x="494.12" y="465.28" width="15.58" height="13.78" fill="#ffffff"/>
<rect x="509.4" y="465.28" width="15.58" height="13.78" fill="#ffffff"/>
<rect x="524.68" y="465.28" width="15.58" height="13.78" fill="#ffffff"/>
<rect x="539.96" y="465.28" width="15.58" height="13.78" fill="#ffffff"/>
<rect x="555.24" y="465.28" width="15.58" height="13.78" fill="#ffffff"/>
<rect x="570.52" y="465.28" width="15.58" height="13.78" fill="#ffffff"/>
<rect x="585.8" y="465.28" width="15.58" height="13.78" fill="#f0f8f0"/>
<rect x="433" y="478.76" width="15.58" height="13.78" fill="#ffffff"/>
<rect x="448.28" y="478.76" width="15.58" height="13.78" fill="#ffffff"/>
<rect x="463.56" y="478.76" width="15.58" height="13.78" fill="#ffffff"/>
<rect x="478.84" y="478.76" width="15.58" height="13.78" fill="#ffffff"/>
<rect x="494.12" y="478.76" width="15.58" height="13.78" fill="#ffffff"/>
<rect x="509.4" y="478.76" width="15.58" height="13.78" fill="#ffffff"/>
<rect x="524.68" y="478.76" width="15.58" height="13.78" fill="#c7e0cb"/>
<rect x="539.96" y="478.76" width="15.58" height="13.78" fill="#8ebd97"/>
<rect x="555.24" y="478.76" width="15.58" height="13.78" fill="#6aa277"/>
<rect x="570.52" y="478.76" width="15.58" height="13.78" fill="#579065"/>
<rect x="585.8" y="478.76" width="15.58" height="13.78" fill="#4c845a"/>
<rect x="433" y="492.24" width="15.58" height="13.78" fill="#ffffff"/>
<rect x="448.28" y="492.24" width="15.58" height="13.78" fill="#ffffff"/>
<rect x="463.56" y="492.24" width="15.58" height="13.78" fill="#ffffff"/>
<rect x="478.84" y="492.24" width="15.58" height="13.78" fill="#d9ebdb"/>
<rect x="494.12" y="492.24" width="15.58" height="13.78" fill="#92c09b"/>
<rect x="509.4" y="492.24" width="15.58" height="13.78" fill="#67a075"/>
<rect x="524.68" y="492.24" width="15.58" height="13.78" fill="#528b60"/>
<rect x="539.96" y="492.24" width="15.58" height="13.78" fill="#457d54"/>
<rect x="555.24" y="492.24" width="15.58" height="13.78" fill="#3e754c"/>
<rect x="570.52" y="492.24" width="15.58" height="13.78" fill="#3a7049"/>
<rect x="585.8" y="492.24" width="15.58" height="13.78" fill="#3a7049"/>
<rect x="433" y="505.72" width="15.58" height="13.78" fill="#ffffff"/>
<rect x="448.28" y="505.72" width="15.58" height="13.78" fill="#edf6ed"/>
<rect x="463.56" y="505.72" width="15.58" height="13.78" fill="#9ac5a2"/>
<rect x="478.84" y="505.72" width="15.58" height="13.78" fill="#669f74"/>
<rect x="494.12" y="505.72" width="15.58" height="13.78" fill="#4d855b"/>
<rect x="509.4" y="505.72" width="15.58" height="13.78" fill="#40784f"/>
<rect x="524.68" y="505.72" width="15.58" height="13.78" fill="#3a6f48"/>
<rect x="539.96" y="505.72" width="15.58" height="13.78" fill="#366b44"/>
<rect x="555.24" y="505.72" width="15.58" height="13.78" fill="#366b44"/>
<rect x="570.52" y="505.72" width="15.58" height="13.78" fill="#396e47"/>
<rect x="585.8" y="505.72" width="15.58" height="13.78" fill="#3d744b"/>
<rect x="433" y="519.2" width="15.58" height="13.78" fill="#dbecdc"/>
<rect x="448.28" y="519.2" width="15.58" height="13.78" fill="#82b48d"/>
<rect x="463.56" y="519.2" width="15.58" height="13.78" fill="#599267"/>
<rect x="478.84" y="519.2" width="15.58" height="13.78" fill="#467e54"/>
<rect x="494.12" y="519.2" width="15.58" height="13.78" fill="#3a7049"/>
<rect x="509.4" y="519.2" width="15.58" height="13.78" fill="#366b44"/>
<rect x="524.68" y="519.2" width="15.58" height="13.78" fill="#356942"/>
<rect x="539.96" y="519.2" width="15.58" height="13.78" fill="#356a43"/>
<rect x="555.24" y="519.2" width="15.58" height="13.78" fill="#396e47"/>
<rect x="570.52" y="519.2" width="15.58" height="13.78" fill="#3e754c"/>
<rect x="585.8" y="519.2" width="15.58" height="13.78" fill="#447c53"/>
<rect x="433" y="532.68" width="15.58" height="13.78" fill="#7eb289"/>
<rect x="448.28" y="532.68" width="15.58" height="13.78" fill="#558e63"/>
<rect x="463.56" y="532.68" width="15.58" height="13.78" fill="#427a51"/>
<rect x="478.84" y="532.68" width="15.58" height="13.78" fill="#396e47"/>
<rect x="494.12" y="532.68" width="15.58" height="13.78" fill="#356a43"/>
<rect x="509.4" y="532.68" width="15.58" height="13.78" fill="#356942"/>
<rect x="524.68" y="532.68" width="15.58" height="13.78" fill="#366b44"/>
<rect x="539.96" y="532.68" width="15.58" height="13.78" fill="#3a7049"/>
<rect x="555.24" y="532.68" width="15.58" height="13.78" fill="#3f764d"/>
<rect x="570.52" y="532.68" width="15.58" height="13.78" fill="#457d54"/>
<rect x="585.8" y="532.68" width="15.58" height="13.78" fill="#4c845a"/>
<rect x="433" y="546.16" width="15.58" height="13.78" fill="#599267"/>
<rect x="448.28" y="546.16" width="15.58" height="13.78" fill="#447c53"/>
<rect x="463.56" y="546.16" width="15.58" height="13.78" fill="#3a6f48"/>
<rect x="478.84" y="546.16" width="15.58" height="13.78" fill="#366b44"/>
<rect x="494.12" y="546.16" width="15.58" height="13.78" fill="#366b44"/>
<rect x="509.4" y="546.16" width="15.58" height="13.78" fill="#386d46"/>
<rect x="524.68" y="546.16" width="15.58" height="13.78" fill="#3c724b"/>
<rect x="539.96" y="546.16" width="15.58" height="13.78" fill="#417950"/>
<rect x="555.24" y="546.16" width="15.58" height="13.78" fill="#467f55"/>
<rect x="570.52" y="546.16" width="15.58" height="13.78" fill="#4d855b"/>
<rect x="585.8" y="546.16" width="15.58" height="13.78" fill="#538b61"/>
<rect x="433" y="559.64" width="15.58" height="13.78" fill="#488057"/>
<rect x="448.28" y="559.64" width="15.58" height="13.78" fill="#3c724b"/>
<rect x="463.56" y="559.64" width="15.58" height="13.78" fill="#396e47"/>
<rect x="478.84" y="559.64" width="15.58" height="13.78" fill="#396e47"/>
<rect x="494.12" y="559.64" width="15.58" height="13.78" fill="#3b714a"/>
<rect x="509.4" y="559.64" width="15.58" height="13.78" fill="#3f764d"/>
<rect x="524.68" y="559.64" width="15.58" height="13.78" fill="#437b52"/>
<rect x="539.96" y="559.64" width="15.58" height="13.78" fill="#488057"/>
<rect x="555.24" y="559.64" width="15.58" height="13.78" fill="#4e875d"/>
<rect x="570.52" y="559.64" width="15.58" height="13.78" fill="#548c62"/>
<rect x="585.8" y="559.64" width="15.58" height="13.78" fill="#5b9469"/>
<rect x="433" y="573.12" width="15.58" height="13.78" fill="#417950"/>
<rect x="448.28" y="573.12" width="15.58" height="13.78" fill="#3c724b"/>
<rect x="463.56" y="573.12" width="15.58" height="13.78" fill="#3c724b"/>
<rect x="478.84" y="573.12" width="15.58" height="13.78" fill="#3f764d"/>
<rect x="494.12" y="573.12" width="15.58" height="13.78" fill="#427a51"/>
<rect x="509.4" y="573.12" width="15.58" height="13.78" fill="#467e54"/>
<rect x="524.68" y="573.12" width="15.58" height="13.78" fill="#4b8359"/>
<rect x="539.96" y="573.12" width="15.58" height="13.78" fill="#50895e"/>
<rect x="555.24" y="573.12" width="15.58" height="13.78" fill="#568f64"/>
<rect x="570.52" y="573.12" width="15.58" height="13.78" fill="#5e976c"/>
<rect x="585.8" y="573.12" width="15.58" height="13.78" fill="#67a075"/>
<rect x="433" y="586.6" width="15.58" height="13.78" fill="#427a51"/>
<rect x="448.28" y="586.6" width="15.58" height="13.78" fill="#40784f"/>
<rect x="463.56" y="586.6" width="15.58" height="13.78" fill="#427a51"/>
<rect x="478.84" y="586.6" width="15.58" height="13.78" fill="#457d54"/>
<rect x="494.12" y="586.6" width="15.58" height="13.78" fill="#498158"/>
<rect x="509.4" y="586.6" width="15.58" height="13.78" fill="#4d865c"/>
<rect x="524.68" y="586.6" width="15.58" height="13.78" fill="#548c62"/>
<rect x="539.96" y="586.6" width="15.58" height="13.78" fill="#5a9368"/>
<rect x="555.24" y="586.6" width="15.58" height="13.78" fill="#639b70"/>
<rect x="570.52" y="586.6" width="15.58" height="13.78" fill="#6ca479"/>
<rect x="585.8" y="586.6" width="15.58" height="13.78" fill="#7aaf85"/>
<text x="440.64" y="460.14" font-size="6.2" fill="#1a1a1a" text-anchor="middle">9.4</text>
<text x="455.92" y="460.14" font-size="6.2" fill="#1a1a1a" text-anchor="middle">14.8</text>
<text x="471.2" y="460.14" font-size="6.2" fill="#1a1a1a" text-anchor="middle">22.1</text>
<text x="486.48" y="460.14" font-size="6.2" fill="#1a1a1a" text-anchor="middle">30.5</text>
<text x="501.76" y="460.14" font-size="6.2" fill="#1a1a1a" text-anchor="middle">38.8</text>
<text x="517.04" y="460.14" font-size="6.2" fill="#1a1a1a" text-anchor="middle">46.4</text>
<text x="532.32" y="460.14" font-size="6.2" fill="#1a1a1a" text-anchor="middle">53.2</text>
<text x="547.6" y="460.14" font-size="6.2" fill="#1a1a1a" text-anchor="middle">59.2</text>
<text x="562.88" y="460.14" font-size="6.2" fill="#1a1a1a" text-anchor="middle">64.8</text>
<text x="578.16" y="460.14" font-size="6.2" fill="#1a1a1a" text-anchor="middle">69.9</text>
<text x="593.44" y="460.14" font-size="6.2" fill="#1a1a1a" text-anchor="middle">74.3</text>
<text x="440.64" y="473.62" font-size="6.2" fill="#1a1a1a" text-anchor="middle">12.8</text>
<text x="455.92" y="473.62" font-size="6.2" fill="#1a1a1a" text-anchor="middle">20.0</text>
<text x="471.2" y="473.62" font-size="6.2" fill="#1a1a1a" text-anchor="middle">29.0</text>
<text x="486.48" y="473.62" font-size="6.2" fill="#1a1a1a" text-anchor="middle">38.1</text>
<text x="501.76" y="473.62" font-size="6.2" fill="#1a1a1a" text-anchor="middle">46.6</text>
<text x="517.04" y="473.62" font-size="6.2" fill="#1a1a1a" text-anchor="middle">54.0</text>
<text x="532.32" y="473.62" font-size="6.2" fill="#1a1a1a" text-anchor="middle">60.6</text>
<text x="547.6" y="473.62" font-size="6.2" fill="#1a1a1a" text-anchor="middle">66.5</text>
<text x="562.88" y="473.62" font-size="6.2" fill="#1a1a1a" text-anchor="middle">71.9</text>
<text x="578.16" y="473.62" font-size="6.2" fill="#1a1a1a" text-anchor="middle">76.6</text>
<text x="593.44" y="473.62" font-size="6.2" fill="#1a1a1a" text-anchor="middle">80.7</text>
<text x="440.64" y="487.1" font-size="6.2" fill="#1a1a1a" text-anchor="middle">34.9</text>
<text x="455.92" y="487.1" font-size="6.2" fill="#1a1a1a" text-anchor="middle">46.7</text>
<text x="471.2" y="487.1" font-size="6.2" fill="#1a1a1a" text-anchor="middle">57.1</text>
<text x="486.48" y="487.1" font-size="6.2" fill="#1a1a1a" text-anchor="middle">65.8</text>
<text x="501.76" y="487.1" font-size="6.2" fill="#1a1a1a" text-anchor="middle">73.1</text>
<text x="517.04" y="487.1" font-size="6.2" fill="#1a1a1a" text-anchor="middle">79.2</text>
<text x="532.32" y="487.1" font-size="6.2" fill="#1a1a1a" text-anchor="middle">84.0</text>
<text x="547.6" y="487.1" font-size="6.2" fill="#1a1a1a" text-anchor="middle">87.8</text>
<text x="562.88" y="487.1" font-size="6.2" fill="#e4ebe4" text-anchor="middle">90.6</text>
<text x="578.16" y="487.1" font-size="6.2" fill="#e4ebe4" text-anchor="middle">92.6</text>
<text x="593.44" y="487.1" font-size="6.2" fill="#e4ebe4" text-anchor="middle">93.9</text>
<text x="440.64" y="500.58" font-size="6.2" fill="#1a1a1a" text-anchor="middle">57.0</text>
<text x="455.92" y="500.58" font-size="6.2" fill="#1a1a1a" text-anchor="middle">67.9</text>
<text x="471.2" y="500.58" font-size="6.2" fill="#1a1a1a" text-anchor="middle">76.3</text>
<text x="486.48" y="500.58" font-size="6.2" fill="#1a1a1a" text-anchor="middle">82.8</text>
<text x="501.76" y="500.58" font-size="6.2" fill="#1a1a1a" text-anchor="middle">87.5</text>
<text x="517.04" y="500.58" font-size="6.2" fill="#e4ebe4" text-anchor="middle">90.9</text>
<text x="532.32" y="500.58" font-size="6.2" fill="#e4ebe4" text-anchor="middle">93.2</text>
<text x="547.6" y="500.58" font-size="6.2" fill="#e4ebe4" text-anchor="middle">94.7</text>
<text x="562.88" y="500.58" font-size="6.2" fill="#e4ebe4" text-anchor="middle">95.5</text>
<text x="578.16" y="500.58" font-size="6.2" fill="#e4ebe4" text-anchor="middle">95.9</text>
<text x="593.44" y="500.58" font-size="6.2" fill="#e4ebe4" text-anchor="middle">95.9</text>
<text x="440.64" y="514.06" font-size="6.2" fill="#1a1a1a" text-anchor="middle">72.5</text>
<text x="455.92" y="514.06" font-size="6.2" fill="#1a1a1a" text-anchor="middle">81.0</text>
<text x="471.2" y="514.06" font-size="6.2" fill="#1a1a1a" text-anchor="middle">87.0</text>
<text x="486.48" y="514.06" font-size="6.2" fill="#e4ebe4" text-anchor="middle">91.0</text>
<text x="501.76" y="514.06" font-size="6.2" fill="#e4ebe4" text-anchor="middle">93.8</text>
<text x="517.04" y="514.06" font-size="6.2" fill="#e4ebe4" text-anchor="middle">95.2</text>
<text x="532.32" y="514.06" font-size="6.2" fill="#e4ebe4" text-anchor="middle">96.0</text>
<text x="547.6" y="514.06" font-size="6.2" fill="#e4ebe4" text-anchor="middle">96.4</text>
<text x="562.88" y="514.06" font-size="6.2" fill="#e4ebe4" text-anchor="middle">96.4</text>
<text x="578.16" y="514.06" font-size="6.2" fill="#e4ebe4" text-anchor="middle">96.1</text>
<text x="593.44" y="514.06" font-size="6.2" fill="#e4ebe4" text-anchor="middle">95.6</text>
<text x="440.64" y="527.54" font-size="6.2" fill="#1a1a1a" text-anchor="middle">82.7</text>
<text x="455.92" y="527.54" font-size="6.2" fill="#1a1a1a" text-anchor="middle">88.7</text>
<text x="471.2" y="527.54" font-size="6.2" fill="#e4ebe4" text-anchor="middle">92.4</text>
<text x="486.48" y="527.54" font-size="6.2" fill="#e4ebe4" text-anchor="middle">94.6</text>
<text x="501.76" y="527.54" font-size="6.2" fill="#e4ebe4" text-anchor="middle">95.9</text>
<text x="517.04" y="527.54" font-size="6.2" fill="#e4ebe4" text-anchor="middle">96.4</text>
<text x="532.32" y="527.54" font-size="6.2" fill="#e4ebe4" text-anchor="middle">96.6</text>
<text x="547.6" y="527.54" font-size="6.2" fill="#e4ebe4" text-anchor="middle">96.5</text>
<text x="562.88" y="527.54" font-size="6.2" fill="#e4ebe4" text-anchor="middle">96.1</text>
<text x="578.16" y="527.54" font-size="6.2" fill="#e4ebe4" text-anchor="middle">95.5</text>
<text x="593.44" y="527.54" font-size="6.2" fill="#e4ebe4" text-anchor="middle">94.8</text>
<text x="440.64" y="541.02" font-size="6.2" fill="#1a1a1a" text-anchor="middle">89.0</text>
<text x="455.92" y="541.02" font-size="6.2" fill="#e4ebe4" text-anchor="middle">92.8</text>
<text x="471.2" y="541.02" font-size="6.2" fill="#e4ebe4" text-anchor="middle">95.0</text>
<text x="486.48" y="541.02" font-size="6.2" fill="#e4ebe4" text-anchor="middle">96.1</text>
<text x="501.76" y="541.02" font-size="6.2" fill="#e4ebe4" text-anchor="middle">96.5</text>
<text x="517.04" y="541.02" font-size="6.2" fill="#e4ebe4" text-anchor="middle">96.6</text>
<text x="532.32" y="541.02" font-size="6.2" fill="#e4ebe4" text-anchor="middle">96.4</text>
<text x="547.6" y="541.02" font-size="6.2" fill="#e4ebe4" text-anchor="middle">95.9</text>
<text x="562.88" y="541.02" font-size="6.2" fill="#e4ebe4" text-anchor="middle">95.4</text>
<text x="578.16" y="541.02" font-size="6.2" fill="#e4ebe4" text-anchor="middle">94.7</text>
<text x="593.44" y="541.02" font-size="6.2" fill="#e4ebe4" text-anchor="middle">93.9</text>
<text x="440.64" y="554.5" font-size="6.2" fill="#e4ebe4" text-anchor="middle">92.4</text>
<text x="455.92" y="554.5" font-size="6.2" fill="#e4ebe4" text-anchor="middle">94.8</text>
<text x="471.2" y="554.5" font-size="6.2" fill="#e4ebe4" text-anchor="middle">96.0</text>
<text x="486.48" y="554.5" font-size="6.2" fill="#e4ebe4" text-anchor="middle">96.4</text>
<text x="501.76" y="554.5" font-size="6.2" fill="#e4ebe4" text-anchor="middle">96.4</text>
<text x="517.04" y="554.5" font-size="6.2" fill="#e4ebe4" text-anchor="middle">96.2</text>
<text x="532.32" y="554.5" font-size="6.2" fill="#e4ebe4" text-anchor="middle">95.7</text>
<text x="547.6" y="554.5" font-size="6.2" fill="#e4ebe4" text-anchor="middle">95.1</text>
<text x="562.88" y="554.5" font-size="6.2" fill="#e4ebe4" text-anchor="middle">94.5</text>
<text x="578.16" y="554.5" font-size="6.2" fill="#e4ebe4" text-anchor="middle">93.8</text>
<text x="593.44" y="554.5" font-size="6.2" fill="#e4ebe4" text-anchor="middle">93.1</text>
<text x="440.64" y="567.98" font-size="6.2" fill="#e4ebe4" text-anchor="middle">94.3</text>
<text x="455.92" y="567.98" font-size="6.2" fill="#e4ebe4" text-anchor="middle">95.7</text>
<text x="471.2" y="567.98" font-size="6.2" fill="#e4ebe4" text-anchor="middle">96.1</text>
<text x="486.48" y="567.98" font-size="6.2" fill="#e4ebe4" text-anchor="middle">96.1</text>
<text x="501.76" y="567.98" font-size="6.2" fill="#e4ebe4" text-anchor="middle">95.8</text>
<text x="517.04" y="567.98" font-size="6.2" fill="#e4ebe4" text-anchor="middle">95.4</text>
<text x="532.32" y="567.98" font-size="6.2" fill="#e4ebe4" text-anchor="middle">94.9</text>
<text x="547.6" y="567.98" font-size="6.2" fill="#e4ebe4" text-anchor="middle">94.3</text>
<text x="562.88" y="567.98" font-size="6.2" fill="#e4ebe4" text-anchor="middle">93.6</text>
<text x="578.16" y="567.98" font-size="6.2" fill="#e4ebe4" text-anchor="middle">93.0</text>
<text x="593.44" y="567.98" font-size="6.2" fill="#e4ebe4" text-anchor="middle">92.2</text>
<text x="440.64" y="581.46" font-size="6.2" fill="#e4ebe4" text-anchor="middle">95.1</text>
<text x="455.92" y="581.46" font-size="6.2" fill="#e4ebe4" text-anchor="middle">95.7</text>
<text x="471.2" y="581.46" font-size="6.2" fill="#e4ebe4" text-anchor="middle">95.7</text>
<text x="486.48" y="581.46" font-size="6.2" fill="#e4ebe4" text-anchor="middle">95.4</text>
<text x="501.76" y="581.46" font-size="6.2" fill="#e4ebe4" text-anchor="middle">95.0</text>
<text x="517.04" y="581.46" font-size="6.2" fill="#e4ebe4" text-anchor="middle">94.6</text>
<text x="532.32" y="581.46" font-size="6.2" fill="#e4ebe4" text-anchor="middle">94.0</text>
<text x="547.6" y="581.46" font-size="6.2" fill="#e4ebe4" text-anchor="middle">93.4</text>
<text x="562.88" y="581.46" font-size="6.2" fill="#e4ebe4" text-anchor="middle">92.7</text>
<text x="578.16" y="581.46" font-size="6.2" fill="#e4ebe4" text-anchor="middle">91.9</text>
<text x="593.44" y="581.46" font-size="6.2" fill="#e4ebe4" text-anchor="middle">90.9</text>
<text x="440.64" y="594.94" font-size="6.2" fill="#e4ebe4" text-anchor="middle">95.0</text>
<text x="455.92" y="594.94" font-size="6.2" fill="#e4ebe4" text-anchor="middle">95.2</text>
<text x="471.2" y="594.94" font-size="6.2" fill="#e4ebe4" text-anchor="middle">95.0</text>
<text x="486.48" y="594.94" font-size="6.2" fill="#e4ebe4" text-anchor="middle">94.7</text>
<text x="501.76" y="594.94" font-size="6.2" fill="#e4ebe4" text-anchor="middle">94.2</text>
<text x="517.04" y="594.94" font-size="6.2" fill="#e4ebe4" text-anchor="middle">93.7</text>
<text x="532.32" y="594.94" font-size="6.2" fill="#e4ebe4" text-anchor="middle">93.0</text>
<text x="547.6" y="594.94" font-size="6.2" fill="#e4ebe4" text-anchor="middle">92.3</text>
<text x="562.88" y="594.94" font-size="6.2" fill="#e4ebe4" text-anchor="middle">91.4</text>
<text x="578.16" y="594.94" font-size="6.2" fill="#e4ebe4" text-anchor="middle">90.4</text>
<text x="593.44" y="594.94" font-size="6.2" fill="#e4ebe4" text-anchor="middle">89.3</text>
<line x1="430.8" y1="458.54" x2="432.4" y2="458.54" stroke="#333" stroke-width="0.6"/>
<text x="0" y="0" font-size="6.4" fill="#222" text-anchor="middle" transform="translate(428.4,458.54) rotate(-90)">0.2</text>
<line x1="430.8" y1="472.02" x2="432.4" y2="472.02" stroke="#333" stroke-width="0.6"/>
<text x="0" y="0" font-size="6.4" fill="#222" text-anchor="middle" transform="translate(428.4,472.02) rotate(-90)">0.4</text>
<line x1="430.8" y1="485.5" x2="432.4" y2="485.5" stroke="#333" stroke-width="0.6"/>
<text x="0" y="0" font-size="6.4" fill="#222" text-anchor="middle" transform="translate(428.4,485.5) rotate(-90)">0.6</text>
<line x1="430.8" y1="498.98" x2="432.4" y2="498.98" stroke="#333" stroke-width="0.6"/>
<text x="0" y="0" font-size="6.4" fill="#222" text-anchor="middle" transform="translate(428.4,498.98) rotate(-90)">0.8</text>
<line x1="430.8" y1="512.46" x2="432.4" y2="512.46" stroke="#333" stroke-width="0.6"/>
<text x="0" y="0" font-size="6.4" fill="#222" text-anchor="middle" transform="translate(428.4,512.46) rotate(-90)">1.0</text>
<line x1="430.8" y1="525.94" x2="432.4" y2="525.94" stroke="#333" stroke-width="0.6"/>
<text x="0" y="0" font-size="6.4" fill="#222" text-anchor="middle" transform="translate(428.4,525.94) rotate(-90)">1.2</text>
<line x1="430.8" y1="539.42" x2="432.4" y2="539.42" stroke="#333" stroke-width="0.6"/>
<text x="0" y="0" font-size="6.4" fill="#222" text-anchor="middle" transform="translate(428.4,539.42) rotate(-90)">1.4</text>
<line x1="430.8" y1="552.9" x2="432.4" y2="552.9" stroke="#333" stroke-width="0.6"/>
<text x="0" y="0" font-size="6.4" fill="#222" text-anchor="middle" transform="translate(428.4,552.9) rotate(-90)">1.6</text>
<line x1="430.8" y1="566.38" x2="432.4" y2="566.38" stroke="#333" stroke-width="0.6"/>
<text x="0" y="0" font-size="6.4" fill="#222" text-anchor="middle" transform="translate(428.4,566.38) rotate(-90)">1.8</text>
<line x1="430.8" y1="579.86" x2="432.4" y2="579.86" stroke="#333" stroke-width="0.6"/>
<text x="0" y="0" font-size="6.4" fill="#222" text-anchor="middle" transform="translate(428.4,579.86) rotate(-90)">2.0</text>
<line x1="430.8" y1="593.34" x2="432.4" y2="593.34" stroke="#333" stroke-width="0.6"/>
<text x="0" y="0" font-size="6.4" fill="#222" text-anchor="middle" transform="translate(428.4,593.34) rotate(-90)">2.2</text>
<line x1="440.64" y1="600.1" x2="440.64" y2="601.9" stroke="#333" stroke-width="0.6"/>
<text x="440.64" y="608.6" font-size="6.4" fill="#222" text-anchor="middle">0.05</text>
<line x1="455.92" y1="600.1" x2="455.92" y2="601.9" stroke="#333" stroke-width="0.6"/>
<text x="455.92" y="608.6" font-size="6.4" fill="#222" text-anchor="middle">0.06</text>
<line x1="471.2" y1="600.1" x2="471.2" y2="601.9" stroke="#333" stroke-width="0.6"/>
<text x="471.2" y="608.6" font-size="6.4" fill="#222" text-anchor="middle">0.07</text>
<line x1="486.48" y1="600.1" x2="486.48" y2="601.9" stroke="#333" stroke-width="0.6"/>
<text x="486.48" y="608.6" font-size="6.4" fill="#222" text-anchor="middle">0.08</text>
<line x1="501.76" y1="600.1" x2="501.76" y2="601.9" stroke="#333" stroke-width="0.6"/>
<text x="501.76" y="608.6" font-size="6.4" fill="#222" text-anchor="middle">0.09</text>
<line x1="517.04" y1="600.1" x2="517.04" y2="601.9" stroke="#333" stroke-width="0.6"/>
<text x="517.04" y="608.6" font-size="6.4" fill="#222" text-anchor="middle">0.10</text>
<line x1="532.32" y1="600.1" x2="532.32" y2="601.9" stroke="#333" stroke-width="0.6"/>
<text x="532.32" y="608.6" font-size="6.4" fill="#222" text-anchor="middle">0.11</text>
<line x1="547.6" y1="600.1" x2="547.6" y2="601.9" stroke="#333" stroke-width="0.6"/>
<text x="547.6" y="608.6" font-size="6.4" fill="#222" text-anchor="middle">0.12</text>
<line x1="562.88" y1="600.1" x2="562.88" y2="601.9" stroke="#333" stroke-width="0.6"/>
<text x="562.88" y="608.6" font-size="6.4" fill="#222" text-anchor="middle">0.13</text>
<line x1="578.16" y1="600.1" x2="578.16" y2="601.9" stroke="#333" stroke-width="0.6"/>
<text x="578.16" y="608.6" font-size="6.4" fill="#222" text-anchor="middle">0.14</text>
<line x1="593.44" y1="600.1" x2="593.44" y2="601.9" stroke="#333" stroke-width="0.6"/>
<text x="593.44" y="608.6" font-size="6.4" fill="#222" text-anchor="middle">0.15</text>
<text x="520" y="628.6" font-size="11.6" fill="#111" text-anchor="middle">Peak prominence ratio</text>
<text x="0" y="0" font-size="11.9" fill="#111" text-anchor="middle" transform="translate(22.6,526.6) rotate(-90)">Sigma (Gaussian filter)</text>
<defs><linearGradient id="gd" x1="0" y1="1" x2="0" y2="0"><stop offset="0" stop-color="#f7fcf7"/><stop offset="0.12" stop-color="#deeedf"/><stop offset="0.25" stop-color="#b8d7bd"/><stop offset="0.38" stop-color="#92c09b"/><stop offset="0.5" stop-color="#70a87d"/><stop offset="0.62" stop-color="#589166"/><stop offset="0.75" stop-color="#427a51"/><stop offset="0.88" stop-color="#2d5f3a"/><stop offset="1" stop-color="#1b4424"/></linearGradient></defs>
<rect x="612.1" y="451.5" width="6.9" height="149.4" fill="url(#gd)"/>
<line x1="619.2" y1="451.5" x2="621.4" y2="451.5" stroke="#333" stroke-width="0.6"/>
<text x="622.8" y="453.7" font-size="6.1" fill="#222" text-anchor="start">100.0</text>
<line x1="619.2" y1="470.18" x2="621.4" y2="470.18" stroke="#333" stroke-width="0.6"/>
<text x="622.8" y="472.38" font-size="6.1" fill="#222" text-anchor="start">97.5</text>
<line x1="619.2" y1="488.85" x2="621.4" y2="488.85" stroke="#333" stroke-width="0.6"/>
<text x="622.8" y="491.05" font-size="6.1" fill="#222" text-anchor="start">95.0</text>
<line x1="619.2" y1="507.52" x2="621.4" y2="507.52" stroke="#333" stroke-width="0.6"/>
<text x="622.8" y="509.72" font-size="6.1" fill="#222" text-anchor="start">92.5</text>
<line x1="619.2" y1="526.2" x2="621.4" y2="526.2" stroke="#333" stroke-width="0.6"/>
<text x="622.8" y="528.4" font-size="6.1" fill="#222" text-anchor="start">90.0</text>
<line x1="619.2" y1="544.88" x2="621.4" y2="544.88" stroke="#333" stroke-width="0.6"/>
<text x="622.8" y="547.08" font-size="6.1" fill="#222" text-anchor="start">87.5</text>
<line x1="619.2" y1="563.55" x2="621.4" y2="563.55" stroke="#333" stroke-width="0.6"/>
<text x="622.8" y="565.75" font-size="6.1" fill="#222" text-anchor="start">85.0</text>
<line x1="619.2" y1="582.23" x2="621.4" y2="582.23" stroke="#333" stroke-width="0.6"/>
<text x="622.8" y="584.43" font-size="6.1" fill="#222" text-anchor="start">82.5</text>
<line x1="619.2" y1="600.9" x2="621.4" y2="600.9" stroke="#333" stroke-width="0.6"/>
<text x="622.8" y="603.1" font-size="6.1" fill="#222" text-anchor="start">80.0</text>
<text x="0.8" y="667.4" font-size="16" fill="#000" text-anchor="start" font-weight="bold">e</text>
<text x="129" y="666.4" font-size="11.6" fill="#111" text-anchor="middle">Double-peak accuracy</text>
<line x1="54.5" y1="759.8" x2="203.9" y2="759.8" stroke="#c8c8c8" stroke-width="0.8" stroke-dasharray="1.5,1"/>
<line x1="54.5" y1="739.9" x2="203.9" y2="739.9" stroke="#c8c8c8" stroke-width="0.8" stroke-dasharray="1.5,1"/>
<line x1="54.5" y1="720" x2="203.9" y2="720" stroke="#c8c8c8" stroke-width="0.8" stroke-dasharray="1.5,1"/>
<line x1="54.5" y1="700.1" x2="203.9" y2="700.1" stroke="#c8c8c8" stroke-width="0.8" stroke-dasharray="1.5,1"/>
<line x1="54.5" y1="680.2" x2="203.9" y2="680.2" stroke="#c8c8c8" stroke-width="0.8" stroke-dasharray="1.5,1"/>
<line x1="54.5" y1="679.6" x2="54.5" y2="780.4" stroke="#111" stroke-width="1.4"/>
<line x1="53.8" y1="779.7" x2="203.9" y2="779.7" stroke="#111" stroke-width="1.4"/>
<line x1="50.3" y1="779.7" x2="54.5" y2="779.7" stroke="#111" stroke-width="1"/>
<text x="48.9" y="783.4" font-size="10.2" fill="#111" text-anchor="end">50</text>
<line x1="50.3" y1="759.8" x2="54.5" y2="759.8" stroke="#111" stroke-width="1"/>
<text x="48.9" y="763.5" font-size="10.2" fill="#111" text-anchor="end">60</text>
<line x1="50.3" y1="739.9" x2="54.5" y2="739.9" stroke="#111" stroke-width="1"/>
<text x="48.9" y="743.6" font-size="10.2" fill="#111" text-anchor="end">70</text>
<line x1="50.3" y1="720" x2="54.5" y2="720" stroke="#111" stroke-width="1"/>
<text x="48.9" y="723.7" font-size="10.2" fill="#111" text-anchor="end">80</text>
<line x1="50.3" y1="700.1" x2="54.5" y2="700.1" stroke="#111" stroke-width="1"/>
<text x="48.9" y="703.8" font-size="10.2" fill="#111" text-anchor="end">90</text>
<line x1="50.3" y1="680.2" x2="54.5" y2="680.2" stroke="#111" stroke-width="1"/>
<text x="48.9" y="683.9" font-size="10.2" fill="#111" text-anchor="end">100</text>
<line x1="70.2" y1="779.7" x2="70.2" y2="783.5" stroke="#111" stroke-width="1"/>
<text x="70.2" y="795.6" font-size="10.2" fill="#111" text-anchor="middle">0</text>
<line x1="93.86" y1="779.7" x2="93.86" y2="783.5" stroke="#111" stroke-width="1"/>
<text x="93.86" y="795.6" font-size="10.2" fill="#111" text-anchor="middle">2</text>
<line x1="117.52" y1="779.7" x2="117.52" y2="783.5" stroke="#111" stroke-width="1"/>
<text x="117.52" y="795.6" font-size="10.2" fill="#111" text-anchor="middle">4</text>
<line x1="141.18" y1="779.7" x2="141.18" y2="783.5" stroke="#111" stroke-width="1"/>
<text x="141.18" y="795.6" font-size="10.2" fill="#111" text-anchor="middle">6</text>
<line x1="164.84" y1="779.7" x2="164.84" y2="783.5" stroke="#111" stroke-width="1"/>
<text x="164.84" y="795.6" font-size="10.2" fill="#111" text-anchor="middle">8</text>
<line x1="188.5" y1="779.7" x2="188.5" y2="783.5" stroke="#111" stroke-width="1"/>
<text x="188.5" y="795.6" font-size="10.2" fill="#111" text-anchor="middle">10</text>
<text x="129.2" y="811.2" font-size="12" fill="#111" text-anchor="middle">Noise level, %</text>
<text x="0" y="0" font-size="12.2" fill="#111" text-anchor="middle" transform="translate(25.8,732.4) rotate(-90)">Accuracy (%)</text>
<polyline points="70.2,680.2 93.86,716.62 117.52,739.5 141.18,755.22 164.84,747.46 188.5,728.96" fill="none" stroke="#d0d0d0" stroke-width="1.2"/>
<polyline points="70.2,692.34 93.86,700.1 117.52,704.08 141.18,712.04 164.84,714.23 188.5,713.83" fill="none" stroke="#d0d0d0" stroke-width="1.2"/>
<polyline points="70.2,683.98 93.86,689.16 117.52,691.74 141.18,697.71 164.84,694.93 188.5,691.54" fill="none" stroke="#d0d0d0" stroke-width="1.2"/>
<polyline points="70.2,680.2 93.86,689.95 117.52,691.74 141.18,692.74 164.84,688.56 188.5,694.53" fill="none" stroke="#d0d0d0" stroke-width="1.2"/>
<circle cx="70.2" cy="680.2" r="2.5" fill="#fd9a0e"/>
<circle cx="93.86" cy="716.62" r="2.5" fill="#fd9a0e"/>
<circle cx="117.52" cy="739.5" r="2.5" fill="#fd9a0e"/>
<circle cx="141.18" cy="755.22" r="2.5" fill="#fd9a0e"/>
<circle cx="164.84" cy="747.46" r="2.5" fill="#fd9a0e"/>
<circle cx="188.5" cy="728.96" r="2.5" fill="#fd9a0e"/>
<circle cx="70.2" cy="692.34" r="2.5" fill="#fd2a0c"/>
<circle cx="93.86" cy="700.1" r="2.5" fill="#fd2a0c"/>
<circle cx="117.52" cy="704.08" r="2.5" fill="#fd2a0c"/>
<circle cx="141.18" cy="712.04" r="2.5" fill="#fd2a0c"/>
<circle cx="164.84" cy="714.23" r="2.5" fill="#fd2a0c"/>
<circle cx="188.5" cy="713.83" r="2.5" fill="#fd2a0c"/>
<circle cx="70.2" cy="683.98" r="2.5" fill="#0e8a12"/>
<circle cx="93.86" cy="689.16" r="2.5" fill="#0e8a12"/>
<circle cx="117.52" cy="691.74" r="2.5" fill="#0e8a12"/>
<circle cx="141.18" cy="697.71" r="2.5" fill="#0e8a12"/>
<circle cx="164.84" cy="694.93" r="2.5" fill="#0e8a12"/>
<circle cx="188.5" cy="691.54" r="2.5" fill="#0e8a12"/>
<circle cx="70.2" cy="680.2" r="2.5" fill="#0b2dfc"/>
<circle cx="93.86" cy="689.95" r="2.5" fill="#0b2dfc"/>
<circle cx="117.52" cy="691.74" r="2.5" fill="#0b2dfc"/>
<circle cx="141.18" cy="692.74" r="2.5" fill="#0b2dfc"/>
<circle cx="164.84" cy="688.56" r="2.5" fill="#0b2dfc"/>
<circle cx="188.5" cy="694.53" r="2.5" fill="#0b2dfc"/>
<text x="328.7" y="666.4" font-size="11.6" fill="#111" text-anchor="middle">Single-peak accuracy</text>
<line x1="252.8" y1="759.8" x2="402.2" y2="759.8" stroke="#c8c8c8" stroke-width="0.8" stroke-dasharray="1.5,1"/>
<line x1="252.8" y1="739.9" x2="402.2" y2="739.9" stroke="#c8c8c8" stroke-width="0.8" stroke-dasharray="1.5,1"/>
<line x1="252.8" y1="720" x2="402.2" y2="720" stroke="#c8c8c8" stroke-width="0.8" stroke-dasharray="1.5,1"/>
<line x1="252.8" y1="700.1" x2="402.2" y2="700.1" stroke="#c8c8c8" stroke-width="0.8" stroke-dasharray="1.5,1"/>
<line x1="252.8" y1="680.2" x2="402.2" y2="680.2" stroke="#c8c8c8" stroke-width="0.8" stroke-dasharray="1.5,1"/>
<line x1="252.8" y1="679.6" x2="252.8" y2="780.4" stroke="#111" stroke-width="1.4"/>
<line x1="252.1" y1="779.7" x2="402.2" y2="779.7" stroke="#111" stroke-width="1.4"/>
<line x1="248.6" y1="779.7" x2="252.8" y2="779.7" stroke="#111" stroke-width="1"/>
<text x="247.2" y="783.4" font-size="10.2" fill="#111" text-anchor="end">50</text>
<line x1="248.6" y1="759.8" x2="252.8" y2="759.8" stroke="#111" stroke-width="1"/>
<text x="247.2" y="763.5" font-size="10.2" fill="#111" text-anchor="end">60</text>
<line x1="248.6" y1="739.9" x2="252.8" y2="739.9" stroke="#111" stroke-width="1"/>
<text x="247.2" y="743.6" font-size="10.2" fill="#111" text-anchor="end">70</text>
<line x1="248.6" y1="720" x2="252.8" y2="720" stroke="#111" stroke-width="1"/>
<text x="247.2" y="723.7" font-size="10.2" fill="#111" text-anchor="end">80</text>
<line x1="248.6" y1="700.1" x2="252.8" y2="700.1" stroke="#111" stroke-width="1"/>
<text x="247.2" y="703.8" font-size="10.2" fill="#111" text-anchor="end">90</text>
<line x1="248.6" y1="680.2" x2="252.8" y2="680.2" stroke="#111" stroke-width="1"/>
<text x="247.2" y="683.9" font-size="10.2" fill="#111" text-anchor="end">100</text>
<line x1="268.5" y1="779.7" x2="268.5" y2="783.5" stroke="#111" stroke-width="1"/>
<text x="268.5" y="795.6" font-size="10.2" fill="#111" text-anchor="middle">0</text>
<line x1="292.16" y1="779.7" x2="292.16" y2="783.5" stroke="#111" stroke-width="1"/>
<text x="292.16" y="795.6" font-size="10.2" fill="#111" text-anchor="middle">2</text>
<line x1="315.82" y1="779.7" x2="315.82" y2="783.5" stroke="#111" stroke-width="1"/>
<text x="315.82" y="795.6" font-size="10.2" fill="#111" text-anchor="middle">4</text>
<line x1="339.48" y1="779.7" x2="339.48" y2="783.5" stroke="#111" stroke-width="1"/>
<text x="339.48" y="795.6" font-size="10.2" fill="#111" text-anchor="middle">6</text>
<line x1="363.14" y1="779.7" x2="363.14" y2="783.5" stroke="#111" stroke-width="1"/>
<text x="363.14" y="795.6" font-size="10.2" fill="#111" text-anchor="middle">8</text>
<line x1="386.8" y1="779.7" x2="386.8" y2="783.5" stroke="#111" stroke-width="1"/>
<text x="386.8" y="795.6" font-size="10.2" fill="#111" text-anchor="middle">10</text>
<text x="327.3" y="811.2" font-size="12" fill="#111" text-anchor="middle">Noise level, %</text>
<text x="0" y="0" font-size="12.2" fill="#111" text-anchor="middle" transform="translate(224.1,732.4) rotate(-90)">Accuracy (%)</text>
<polyline points="268.5,683.98 292.16,728.16 315.82,744.48 339.48,743.48 363.14,735.72 386.8,726.17" fill="none" stroke="#d0d0d0" stroke-width="1.2"/>
<polyline points="268.5,682.19 292.16,691.94 315.82,701.89 339.48,708.06 363.14,710.05 386.8,711.05" fill="none" stroke="#d0d0d0" stroke-width="1.2"/>
<polyline points="268.5,681.99 292.16,682.19 315.82,682.59 339.48,683.58 363.14,682.79 386.8,682.19" fill="none" stroke="#d0d0d0" stroke-width="1.2"/>
<polyline points="268.5,680.2 292.16,680.2 315.82,680.6 339.48,681.39 363.14,685.18 386.8,700.3" fill="none" stroke="#d0d0d0" stroke-width="1.2"/>
<circle cx="268.5" cy="683.98" r="2.5" fill="#0e8a12"/>
<circle cx="292.16" cy="728.16" r="2.5" fill="#0e8a12"/>
<circle cx="315.82" cy="744.48" r="2.5" fill="#0e8a12"/>
<circle cx="339.48" cy="743.48" r="2.5" fill="#0e8a12"/>
<circle cx="363.14" cy="735.72" r="2.5" fill="#0e8a12"/>
<circle cx="386.8" cy="726.17" r="2.5" fill="#0e8a12"/>
<circle cx="268.5" cy="682.19" r="2.5" fill="#fd2a0c"/>
<circle cx="292.16" cy="691.94" r="2.5" fill="#fd2a0c"/>
<circle cx="315.82" cy="701.89" r="2.5" fill="#fd2a0c"/>
<circle cx="339.48" cy="708.06" r="2.5" fill="#fd2a0c"/>
<circle cx="363.14" cy="710.05" r="2.5" fill="#fd2a0c"/>
<circle cx="386.8" cy="711.05" r="2.5" fill="#fd2a0c"/>
<circle cx="268.5" cy="681.99" r="2.5" fill="#fd9a0e"/>
<circle cx="292.16" cy="682.19" r="2.5" fill="#fd9a0e"/>
<circle cx="315.82" cy="682.59" r="2.5" fill="#fd9a0e"/>
<circle cx="339.48" cy="683.58" r="2.5" fill="#fd9a0e"/>
<circle cx="363.14" cy="682.79" r="2.5" fill="#fd9a0e"/>
<circle cx="386.8" cy="682.19" r="2.5" fill="#fd9a0e"/>
<circle cx="268.5" cy="680.2" r="2.5" fill="#0b2dfc"/>
<circle cx="292.16" cy="680.2" r="2.5" fill="#0b2dfc"/>
<circle cx="315.82" cy="680.6" r="2.5" fill="#0b2dfc"/>
<circle cx="339.48" cy="681.39" r="2.5" fill="#0b2dfc"/>
<circle cx="363.14" cy="685.18" r="2.5" fill="#0b2dfc"/>
<circle cx="386.8" cy="700.3" r="2.5" fill="#0b2dfc"/>
<text x="526.7" y="666.4" font-size="11.6" fill="#111" text-anchor="middle">Averaged accuracy</text>
<line x1="451.1" y1="759.8" x2="600.5" y2="759.8" stroke="#c8c8c8" stroke-width="0.8" stroke-dasharray="1.5,1"/>
<line x1="451.1" y1="739.9" x2="600.5" y2="739.9" stroke="#c8c8c8" stroke-width="0.8" stroke-dasharray="1.5,1"/>
<line x1="451.1" y1="720" x2="600.5" y2="720" stroke="#c8c8c8" stroke-width="0.8" stroke-dasharray="1.5,1"/>
<line x1="451.1" y1="700.1" x2="600.5" y2="700.1" stroke="#c8c8c8" stroke-width="0.8" stroke-dasharray="1.5,1"/>
<line x1="451.1" y1="680.2" x2="600.5" y2="680.2" stroke="#c8c8c8" stroke-width="0.8" stroke-dasharray="1.5,1"/>
<line x1="451.1" y1="679.6" x2="451.1" y2="780.4" stroke="#111" stroke-width="1.4"/>
<line x1="450.4" y1="779.7" x2="600.5" y2="779.7" stroke="#111" stroke-width="1.4"/>
<line x1="446.9" y1="779.7" x2="451.1" y2="779.7" stroke="#111" stroke-width="1"/>
<text x="445.5" y="783.4" font-size="10.2" fill="#111" text-anchor="end">50</text>
<line x1="446.9" y1="759.8" x2="451.1" y2="759.8" stroke="#111" stroke-width="1"/>
<text x="445.5" y="763.5" font-size="10.2" fill="#111" text-anchor="end">60</text>
<line x1="446.9" y1="739.9" x2="451.1" y2="739.9" stroke="#111" stroke-width="1"/>
<text x="445.5" y="743.6" font-size="10.2" fill="#111" text-anchor="end">70</text>
<line x1="446.9" y1="720" x2="451.1" y2="720" stroke="#111" stroke-width="1"/>
<text x="445.5" y="723.7" font-size="10.2" fill="#111" text-anchor="end">80</text>
<line x1="446.9" y1="700.1" x2="451.1" y2="700.1" stroke="#111" stroke-width="1"/>
<text x="445.5" y="703.8" font-size="10.2" fill="#111" text-anchor="end">90</text>
<line x1="446.9" y1="680.2" x2="451.1" y2="680.2" stroke="#111" stroke-width="1"/>
<text x="445.5" y="683.9" font-size="10.2" fill="#111" text-anchor="end">100</text>
<line x1="466.8" y1="779.7" x2="466.8" y2="783.5" stroke="#111" stroke-width="1"/>
<text x="466.8" y="795.6" font-size="10.2" fill="#111" text-anchor="middle">0</text>
<line x1="490.46" y1="779.7" x2="490.46" y2="783.5" stroke="#111" stroke-width="1"/>
<text x="490.46" y="795.6" font-size="10.2" fill="#111" text-anchor="middle">2</text>
<line x1="514.12" y1="779.7" x2="514.12" y2="783.5" stroke="#111" stroke-width="1"/>
<text x="514.12" y="795.6" font-size="10.2" fill="#111" text-anchor="middle">4</text>
<line x1="537.78" y1="779.7" x2="537.78" y2="783.5" stroke="#111" stroke-width="1"/>
<text x="537.78" y="795.6" font-size="10.2" fill="#111" text-anchor="middle">6</text>
<line x1="561.44" y1="779.7" x2="561.44" y2="783.5" stroke="#111" stroke-width="1"/>
<text x="561.44" y="795.6" font-size="10.2" fill="#111" text-anchor="middle">8</text>
<line x1="585.1" y1="779.7" x2="585.1" y2="783.5" stroke="#111" stroke-width="1"/>
<text x="585.1" y="795.6" font-size="10.2" fill="#111" text-anchor="middle">10</text>
<text x="525.8" y="811.2" font-size="12" fill="#111" text-anchor="middle">Noise level, %</text>
<text x="0" y="0" font-size="12.2" fill="#111" text-anchor="middle" transform="translate(422.4,732.4) rotate(-90)">Accuracy (%)</text>
<polyline points="466.8,684.58 490.46,699.9 514.12,711.24 537.78,719.2 561.44,715.22 585.1,705.67" fill="none" stroke="#d0d0d0" stroke-width="1.2"/>
<polyline points="466.8,686.17 490.46,695.92 514.12,702.69 537.78,709.85 561.44,712.24 585.1,712.44" fill="none" stroke="#d0d0d0" stroke-width="1.2"/>
<polyline points="466.8,683.98 490.46,708.86 514.12,718.01 537.78,720 561.44,714.83 585.1,708.26" fill="none" stroke="#d0d0d0" stroke-width="1.2"/>
<polyline points="466.8,680.2 490.46,684.98 514.12,686.17 537.78,686.77 561.44,686.57 585.1,697.51" fill="none" stroke="#d0d0d0" stroke-width="1.2"/>
<circle cx="466.8" cy="684.58" r="2.5" fill="#fd9a0e"/>
<circle cx="490.46" cy="699.9" r="2.5" fill="#fd9a0e"/>
<circle cx="514.12" cy="711.24" r="2.5" fill="#fd9a0e"/>
<circle cx="537.78" cy="719.2" r="2.5" fill="#fd9a0e"/>
<circle cx="561.44" cy="715.22" r="2.5" fill="#fd9a0e"/>
<circle cx="585.1" cy="705.67" r="2.5" fill="#fd9a0e"/>
<circle cx="466.8" cy="686.17" r="2.5" fill="#fd2a0c"/>
<circle cx="490.46" cy="695.92" r="2.5" fill="#fd2a0c"/>
<circle cx="514.12" cy="702.69" r="2.5" fill="#fd2a0c"/>
<circle cx="537.78" cy="709.85" r="2.5" fill="#fd2a0c"/>
<circle cx="561.44" cy="712.24" r="2.5" fill="#fd2a0c"/>
<circle cx="585.1" cy="712.44" r="2.5" fill="#fd2a0c"/>
<circle cx="466.8" cy="683.98" r="2.5" fill="#0e8a12"/>
<circle cx="490.46" cy="708.86" r="2.5" fill="#0e8a12"/>
<circle cx="514.12" cy="718.01" r="2.5" fill="#0e8a12"/>
<circle cx="537.78" cy="720" r="2.5" fill="#0e8a12"/>
<circle cx="561.44" cy="714.83" r="2.5" fill="#0e8a12"/>
<circle cx="585.1" cy="708.26" r="2.5" fill="#0e8a12"/>
<circle cx="466.8" cy="680.2" r="2.5" fill="#0b2dfc"/>
<circle cx="490.46" cy="684.98" r="2.5" fill="#0b2dfc"/>
<circle cx="514.12" cy="686.17" r="2.5" fill="#0b2dfc"/>
<circle cx="537.78" cy="686.77" r="2.5" fill="#0b2dfc"/>
<circle cx="561.44" cy="686.57" r="2.5" fill="#0b2dfc"/>
<circle cx="585.1" cy="697.51" r="2.5" fill="#0b2dfc"/>
<line x1="602" y1="680.3" x2="613.6" y2="680.3" stroke="#d6d6d6" stroke-width="1"/>
<circle cx="607.6" cy="680.3" r="2.2" fill="#0b2dfc"/>
<text x="619.4" y="683.7" font-size="9.2" fill="#111" text-anchor="start">MassCube</text>
<line x1="602" y1="694.3" x2="613.6" y2="694.3" stroke="#d6d6d6" stroke-width="1"/>
<circle cx="607.6" cy="694.3" r="2.2" fill="#0e8a12"/>
<text x="619.4" y="697.7" font-size="9.2" fill="#111" text-anchor="start">MS-DIAL 4.9</text>
<line x1="602" y1="708" x2="613.6" y2="708" stroke="#d6d6d6" stroke-width="1"/>
<circle cx="607.6" cy="708" r="2.2" fill="#fd2a0c"/>
<text x="619.4" y="711.4" font-size="9.2" fill="#111" text-anchor="start">MZmine 3.9</text>
<line x1="602" y1="721.7" x2="613.6" y2="721.7" stroke="#d6d6d6" stroke-width="1"/>
<circle cx="607.6" cy="721.7" r="2.2" fill="#fd9a0e"/>
<text x="619.4" y="725.1" font-size="9.2" fill="#111" text-anchor="start"><tspan font-style="italic">xcms</tspan> 4.0</text>
</svg></body></html>
